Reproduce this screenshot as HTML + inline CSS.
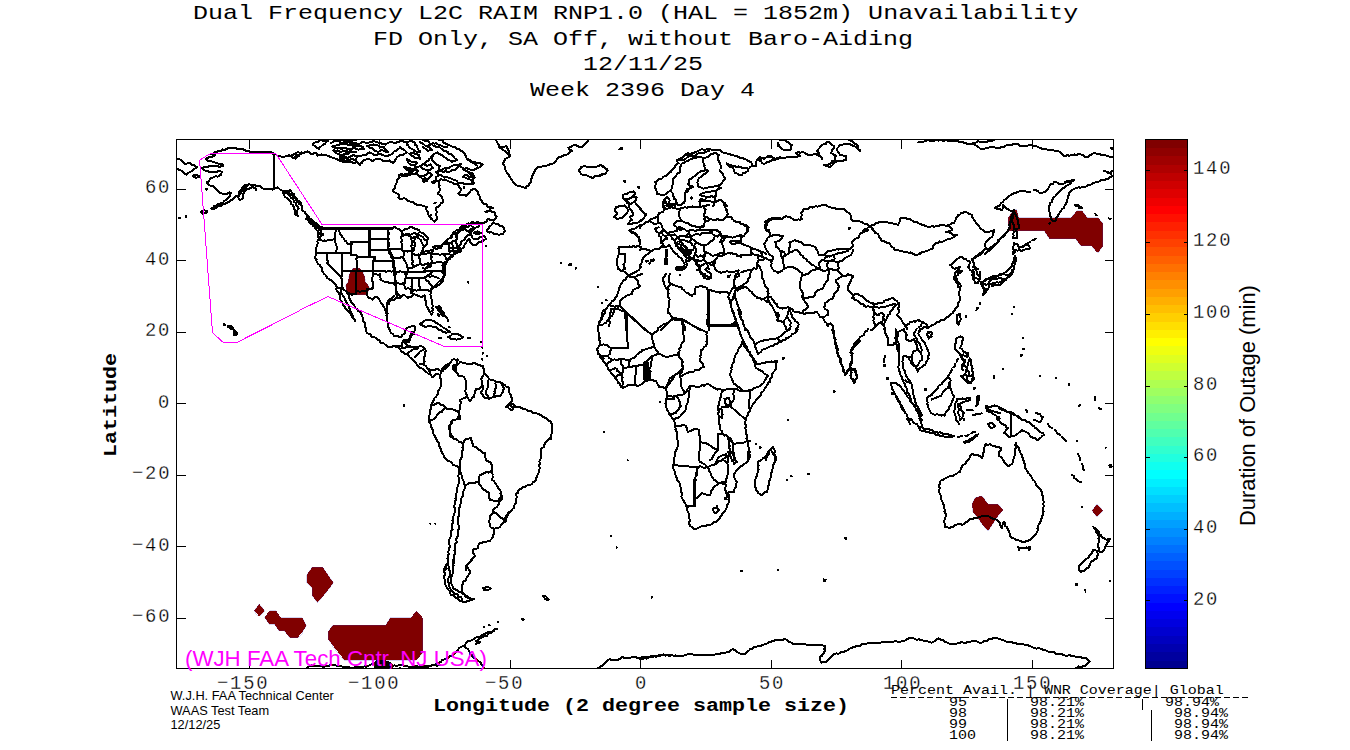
<!DOCTYPE html>
<html><head><meta charset="utf-8"><title>Dual Frequency L2C RAIM RNP1.0 Unavailability</title>
<style>
html,body{margin:0;padding:0;background:#fff;}
body{width:1350px;height:750px;position:relative;overflow:hidden;font-family:"Liberation Mono",monospace;color:#000;}
.t{position:absolute;white-space:pre;line-height:1;transform-origin:0 0;}
.m{font-family:"Liberation Mono",monospace;-webkit-text-stroke:0.3px #fff;}
.b{-webkit-text-stroke:0;}
.s{font-family:"Liberation Sans",sans-serif;}
</style></head><body>
<svg width="1350" height="750" viewBox="0 0 1350 750" shape-rendering="crispEdges" style="position:absolute;left:0;top:0">
<rect x="1145.5" y="660.23" width="42.0" height="8.57" fill="rgb(0,0,143)"/>
<rect x="1145.5" y="651.97" width="42.0" height="8.57" fill="rgb(0,0,159)"/>
<rect x="1145.5" y="643.70" width="42.0" height="8.57" fill="rgb(0,0,175)"/>
<rect x="1145.5" y="635.44" width="42.0" height="8.57" fill="rgb(0,0,191)"/>
<rect x="1145.5" y="627.17" width="42.0" height="8.57" fill="rgb(0,0,207)"/>
<rect x="1145.5" y="618.91" width="42.0" height="8.57" fill="rgb(0,0,223)"/>
<rect x="1145.5" y="610.64" width="42.0" height="8.57" fill="rgb(0,0,239)"/>
<rect x="1145.5" y="602.38" width="42.0" height="8.57" fill="rgb(0,0,255)"/>
<rect x="1145.5" y="594.11" width="42.0" height="8.57" fill="rgb(0,16,255)"/>
<rect x="1145.5" y="585.84" width="42.0" height="8.57" fill="rgb(0,32,255)"/>
<rect x="1145.5" y="577.58" width="42.0" height="8.57" fill="rgb(0,48,255)"/>
<rect x="1145.5" y="569.31" width="42.0" height="8.57" fill="rgb(0,64,255)"/>
<rect x="1145.5" y="561.05" width="42.0" height="8.57" fill="rgb(0,80,255)"/>
<rect x="1145.5" y="552.78" width="42.0" height="8.57" fill="rgb(0,96,255)"/>
<rect x="1145.5" y="544.52" width="42.0" height="8.57" fill="rgb(0,112,255)"/>
<rect x="1145.5" y="536.25" width="42.0" height="8.57" fill="rgb(0,128,255)"/>
<rect x="1145.5" y="527.98" width="42.0" height="8.57" fill="rgb(0,143,255)"/>
<rect x="1145.5" y="519.72" width="42.0" height="8.57" fill="rgb(0,159,255)"/>
<rect x="1145.5" y="511.45" width="42.0" height="8.57" fill="rgb(0,175,255)"/>
<rect x="1145.5" y="503.19" width="42.0" height="8.57" fill="rgb(0,191,255)"/>
<rect x="1145.5" y="494.92" width="42.0" height="8.57" fill="rgb(0,207,255)"/>
<rect x="1145.5" y="486.66" width="42.0" height="8.57" fill="rgb(0,223,255)"/>
<rect x="1145.5" y="478.39" width="42.0" height="8.57" fill="rgb(0,239,255)"/>
<rect x="1145.5" y="470.12" width="42.0" height="8.57" fill="rgb(0,255,255)"/>
<rect x="1145.5" y="461.86" width="42.0" height="8.57" fill="rgb(16,255,239)"/>
<rect x="1145.5" y="453.59" width="42.0" height="8.57" fill="rgb(32,255,223)"/>
<rect x="1145.5" y="445.33" width="42.0" height="8.57" fill="rgb(48,255,207)"/>
<rect x="1145.5" y="437.06" width="42.0" height="8.57" fill="rgb(64,255,191)"/>
<rect x="1145.5" y="428.80" width="42.0" height="8.57" fill="rgb(80,255,175)"/>
<rect x="1145.5" y="420.53" width="42.0" height="8.57" fill="rgb(96,255,159)"/>
<rect x="1145.5" y="412.27" width="42.0" height="8.57" fill="rgb(112,255,143)"/>
<rect x="1145.5" y="404.00" width="42.0" height="8.57" fill="rgb(128,255,128)"/>
<rect x="1145.5" y="395.73" width="42.0" height="8.57" fill="rgb(143,255,112)"/>
<rect x="1145.5" y="387.47" width="42.0" height="8.57" fill="rgb(159,255,96)"/>
<rect x="1145.5" y="379.20" width="42.0" height="8.57" fill="rgb(175,255,80)"/>
<rect x="1145.5" y="370.94" width="42.0" height="8.57" fill="rgb(191,255,64)"/>
<rect x="1145.5" y="362.67" width="42.0" height="8.57" fill="rgb(207,255,48)"/>
<rect x="1145.5" y="354.41" width="42.0" height="8.57" fill="rgb(223,255,32)"/>
<rect x="1145.5" y="346.14" width="42.0" height="8.57" fill="rgb(239,255,16)"/>
<rect x="1145.5" y="337.88" width="42.0" height="8.57" fill="rgb(255,255,0)"/>
<rect x="1145.5" y="329.61" width="42.0" height="8.57" fill="rgb(255,239,0)"/>
<rect x="1145.5" y="321.34" width="42.0" height="8.57" fill="rgb(255,223,0)"/>
<rect x="1145.5" y="313.08" width="42.0" height="8.57" fill="rgb(255,207,0)"/>
<rect x="1145.5" y="304.81" width="42.0" height="8.57" fill="rgb(255,191,0)"/>
<rect x="1145.5" y="296.55" width="42.0" height="8.57" fill="rgb(255,175,0)"/>
<rect x="1145.5" y="288.28" width="42.0" height="8.57" fill="rgb(255,159,0)"/>
<rect x="1145.5" y="280.02" width="42.0" height="8.57" fill="rgb(255,143,0)"/>
<rect x="1145.5" y="271.75" width="42.0" height="8.57" fill="rgb(255,128,0)"/>
<rect x="1145.5" y="263.48" width="42.0" height="8.57" fill="rgb(255,112,0)"/>
<rect x="1145.5" y="255.22" width="42.0" height="8.57" fill="rgb(255,96,0)"/>
<rect x="1145.5" y="246.95" width="42.0" height="8.57" fill="rgb(255,80,0)"/>
<rect x="1145.5" y="238.69" width="42.0" height="8.57" fill="rgb(255,64,0)"/>
<rect x="1145.5" y="230.42" width="42.0" height="8.57" fill="rgb(255,48,0)"/>
<rect x="1145.5" y="222.16" width="42.0" height="8.57" fill="rgb(255,32,0)"/>
<rect x="1145.5" y="213.89" width="42.0" height="8.57" fill="rgb(255,16,0)"/>
<rect x="1145.5" y="205.62" width="42.0" height="8.57" fill="rgb(255,0,0)"/>
<rect x="1145.5" y="197.36" width="42.0" height="8.57" fill="rgb(239,0,0)"/>
<rect x="1145.5" y="189.09" width="42.0" height="8.57" fill="rgb(223,0,0)"/>
<rect x="1145.5" y="180.83" width="42.0" height="8.57" fill="rgb(207,0,0)"/>
<rect x="1145.5" y="172.56" width="42.0" height="8.57" fill="rgb(191,0,0)"/>
<rect x="1145.5" y="164.30" width="42.0" height="8.57" fill="rgb(175,0,0)"/>
<rect x="1145.5" y="156.03" width="42.0" height="8.57" fill="rgb(159,0,0)"/>
<rect x="1145.5" y="147.77" width="42.0" height="8.57" fill="rgb(143,0,0)"/>
<rect x="1145.5" y="139.50" width="42.0" height="8.57" fill="rgb(128,0,0)"/>
<g fill="#800000" stroke="#3030c0" stroke-opacity="0.35" stroke-width="0.6"><polygon points="1008.3,217.7 1010.0,214.9 1014.0,210.0 1016.7,209.6 1018.7,217.7 1071.3,217.7 1076.7,210.7 1082.0,210.7 1087.3,217.7 1098.0,217.7 1102.9,223.3 1102.9,246.0 1098.7,252.0 1096.7,252.0 1091.3,245.6 1080.7,245.6 1075.7,238.7 1049.3,238.7 1044.0,230.7 1008.7,230.7"/><polygon points="353.3,268.0 359.3,268.0 362.7,271.3 364.7,276.7 365.3,282.0 368.0,284.7 369.3,287.3 368.7,290.7 366.0,294.7 348.7,294.7 346.7,291.3 346.0,287.3 345.3,286.0 348.0,282.0 349.3,274.0 351.3,270.7"/><polygon points="972.0,504.0 975.0,498.0 980.0,496.0 983.0,497.0 988.0,504.0 998.0,504.0 1003.0,510.0 998.0,516.0 994.0,522.0 988.0,531.0 982.0,524.0 978.0,518.0 973.0,512.0"/><polygon points="1097.0,504.0 1103.0,510.6 1097.0,517.0 1092.0,510.6"/><polygon points="312.1,567.3 322.8,567.3 333.3,582.6 329.7,588.0 323.6,595.6 317.5,602.5 312.1,595.6 312.1,588.0 306.7,582.6 306.7,575.0"/><polygon points="259.2,604.1 264.5,610.5 259.2,616.3 254.3,610.5"/><polygon points="264.5,617.1 269.9,610.5 276.0,610.5 280.6,617.6 302.1,617.6 306.3,625.6 302.1,632.5 297.5,637.8 289.8,637.8 284.5,630.9 279.1,630.9 274.5,624.0 269.1,624.0"/><polygon points="328.2,631.7 332.8,625.2 385.7,625.2 390.3,617.6 411.0,617.6 416.4,610.5 422.5,617.6 422.5,653.2 416.4,660.0 344.3,660.0 332.8,645.5 328.2,639.4"/></g>

<defs><clipPath id="axclip"><rect x="177" y="140" width="936" height="528"/></clipPath></defs>
<g fill="none" stroke="#000" stroke-width="2" stroke-linejoin="round" stroke-linecap="round" clip-path="url(#axclip)"><path d="M177.1 159.0 178.4 159.1 180.6 159.7 182.0 161.0 183.4 161.9 184.0 163.2 186.0 164.3 187.0 163.6 189.3 163.0 190.0 163.1 191.9 164.8 193.3 165.0 194.1 165.3 196.2 167.2 197.3 167.3 195.9 168.1 194.9 168.6 192.7 170.3 191.9 171.0 190.0 172.3 187.8 173.0 186.7 174.7 185.0 174.2 183.5 172.8 182.7 171.7 181.2 170.6 179.3 169.9 177.1 169.0M192.7 175.7 194.4 174.7 196.0 175.0 197.2 175.4 199.7 176.7 198.1 177.2 196.0 177.9 194.1 176.9 192.7 175.7M201.3 212.1 202.6 210.8 204.0 210.1 206.2 210.8 207.6 211.0 206.4 213.1 204.1 213.5 202.7 213.7 201.3 212.1M274.0 153.4 272.5 153.6 271.2 152.4 269.3 152.3 268.1 151.7 265.2 152.6 262.8 152.1 261.3 152.1 258.5 152.3 257.5 152.1 255.5 151.7 253.1 152.1 250.7 151.9 248.8 151.2 247.2 151.2 244.6 150.1 242.7 149.1 240.0 149.2 238.7 148.6 237.2 149.1 235.8 147.7 233.5 148.1 232.0 147.5 229.5 148.0 227.9 148.0 226.7 149.1 224.3 149.9 222.8 149.4 221.5 150.7 220.0 150.5 217.6 151.0 216.5 152.3 214.7 152.3 213.3 153.7 210.9 153.9 212.2 154.2 213.8 155.2 215.6 155.0 214.4 155.5 211.7 157.0 209.3 157.2 207.5 158.1 206.0 158.7 207.6 160.6 209.4 160.6 210.2 161.2 212.7 161.7 214.3 162.4 216.3 163.0 218.8 163.8 220.0 164.2 222.0 163.8 223.6 165.0 222.4 166.2 220.0 166.6 219.0 166.7 216.7 165.8 215.3 165.7 213.3 166.1 211.7 165.6 210.9 166.5 208.7 166.4 207.3 167.3 205.3 167.0 203.0 167.5 202.0 168.3 202.7 168.9 204.0 170.4 206.0 170.6 207.8 170.8 209.3 172.1 210.7 171.9 212.7 171.7 214.7 172.3 216.7 172.5 217.7 171.2 219.3 170.7 220.0 170.9 222.0 172.3 221.4 173.4 221.3 175.3 220.3 175.1 217.5 176.7 216.7 176.3 214.8 176.5 212.9 177.7 211.5 177.8 210.0 179.3 208.9 181.0 208.3 181.6 206.7 182.3 207.6 183.5 209.3 185.0 210.6 185.9 212.9 185.9 214.5 187.7 216.0 188.6 216.9 189.7 218.4 191.7 220.5 193.2 221.6 193.3 223.6 193.9 225.0 194.1 226.0 193.9 227.2 193.6 229.1 192.4 230.9 192.7 229.6 194.2 229.6 196.3 228.1 198.0 227.3 199.0 226.4 199.9 224.0 201.0 223.3 202.7 221.3 203.0 220.2 203.7 217.4 204.4 216.0 205.7 213.9 206.2 212.8 208.2 210.9 208.6 213.1 209.3 215.0 208.3 216.1 207.9 217.3 206.6 218.4 206.2 221.2 205.7 222.3 204.6 224.2 203.9 224.9 203.8 226.9 202.7 228.0 202.4 230.3 201.0 230.9 200.3 232.0 200.2 233.8 198.2 234.7 197.9 235.8 196.3 238.0 195.7 239.1 194.3 239.1 191.9 239.5 191.2 241.7 189.8 242.0 188.3 243.1 187.3 244.1 185.4 246.0 185.0 248.2 184.6 249.1 183.7 250.5 184.8 251.8 185.1 253.3 185.0 255.2 184.9 256.0 185.7 257.8 185.5 260.3 185.9 261.4 187.4 263.3 188.6 265.0 188.6 266.8 189.5 269.3 189.0 270.7 188.9 272.6 189.6 274.0 189.0M249.1 184.1 247.7 185.9 246.6 186.5 245.3 187.7 244.0 188.6 242.7 191.0 241.4 192.0 240.3 193.9 238.6 196.2 238.4 197.7 238.7 198.8 240.0 200.1 242.0 199.0 243.3 197.7 242.7 196.0 242.7 194.3 243.7 193.4 244.0 191.8 245.6 190.3 247.0 189.1 249.1 188.6 251.3 187.7 252.7 186.7 254.4 188.1 256.0 188.6 256.0 190.3M273.6 153.7 273.6 189.0M274.4 153.7 274.4 189.0M274.0 189.0 276.3 188.0 277.3 187.3 278.8 188.3 280.0 189.6 281.3 190.3 283.0 190.7 284.9 191.6 286.7 191.3 288.4 191.2 289.6 190.1 291.3 190.9 291.7 193.1 292.7 193.7 294.3 194.5 294.3 196.2 296.0 197.7 296.7 198.6 298.0 200.6 300.0 201.7 301.1 203.6 300.8 204.7 302.0 205.7 302.0 207.1 301.6 209.7 303.7 211.4 304.7 211.7 305.1 213.7 306.3 214.3 307.3 215.7 309.2 217.3 309.0 217.8 310.7 219.0 312.0 220.0 312.9 221.2 314.7 222.7 316.3 223.0 317.4 224.6 318.7 225.7 319.6 226.2 322.0 227.3M282.7 193.0 284.2 194.6 284.7 196.8 286.7 197.7 288.4 199.7 288.7 200.0 290.7 201.7 291.1 203.9 292.5 204.7 294.0 207.0 294.1 209.3 294.9 210.0 294.7 212.1 295.3 214.2 297.0 215.4 298.0 216.6 296.9 214.3 297.4 213.2 296.7 211.7 297.0 210.7 298.7 208.3 298.0 207.0 296.3 205.3 296.0 203.0 294.0 202.0 293.3 199.6 292.0 198.3 291.0 197.8 289.4 195.4 288.7 194.7 287.4 193.5 285.4 192.6 284.7 192.3M288.0 192.3 288.7 192.8 290.4 193.8 292.0 195.0 293.7 196.2 294.7 197.6 296.0 199.7 296.9 200.5 297.8 202.1 299.3 204.3M307.3 217.0 308.3 219.1 308.7 221.0 309.5 222.5 312.0 223.5 312.7 225.7 314.3 226.5 314.9 228.1 316.0 228.6 315.2 226.8 314.7 225.0 313.6 224.4 311.8 222.8 310.7 221.0 309.9 219.9 308.3 218.1 307.3 217.0M315.3 226.3 315.4 227.3 316.2 229.8 317.6 231.0 318.3 231.6 319.0 233.7 320.7 234.3 321.0 236.1 319.9 237.1 320.0 239.0M317.3 227.0 318.1 228.3 319.0 229.6 320.7 231.0 321.0 233.0 322.7 233.7 322.7 235.0M275.7 154.3 277.2 155.7 279.3 155.7 280.7 156.3 282.7 157.3 283.9 156.6 286.7 156.3 288.0 155.7 289.3 155.0 290.2 156.1 292.0 157.3 292.9 157.6 295.3 158.6 296.4 157.3 298.7 156.3 299.3 154.5 301.0 153.7 302.7 153.0 304.4 152.5 306.2 152.2 307.3 151.4 309.3 152.3 311.0 154.0 312.0 154.6 313.5 153.5 315.3 153.0 317.1 153.8 317.3 155.7 319.7 155.2 321.3 154.3 322.6 155.2 325.3 155.0 327.9 155.9 329.3 156.3 331.7 157.5 333.3 157.7 334.8 158.4 337.3 159.0 338.7 160.3 340.5 161.0 341.3 161.3 343.2 162.1 345.2 162.0 346.7 161.9 348.0 161.3 349.7 161.9 352.0 162.2 353.4 162.8 356.0 162.5M292.0 155.0 293.4 154.5 294.9 153.9 296.0 153.0 297.8 152.0 300.0 152.9 301.3 152.3 300.0 153.6 298.7 154.7 297.6 154.8 296.4 155.9 294.7 157.0M312.7 145.0 313.1 143.5 315.2 142.3 316.0 141.7 318.1 141.9 319.5 140.6 321.3 140.3 323.0 140.8 325.1 140.8 326.5 140.2 328.0 141.0 326.1 142.0 325.3 143.7 324.4 144.3 322.8 144.7 321.3 146.3 319.7 147.3 319.3 149.0 317.9 148.3 316.0 147.0 314.6 145.7 312.7 145.0M330.7 143.0 332.5 142.3 334.2 141.1 336.0 141.0 338.3 140.4 340.1 141.3 340.3 140.4 342.7 140.3 344.8 141.2 345.9 140.3 347.2 141.4 349.3 140.9 350.6 140.8 352.1 140.5 355.0 139.7 356.0 140.1M356.0 144.3 354.7 144.6 353.0 145.1 350.7 145.0 348.6 145.4 347.3 143.8 344.9 144.3 344.0 144.1 342.3 144.0 340.1 144.3 338.7 145.3 337.3 145.0 334.8 145.9 334.3 145.5 332.0 146.6 334.4 147.6 336.2 147.6 337.3 148.6 338.8 148.2 341.4 148.3 342.1 147.9 344.0 147.8 345.3 147.5 346.7 149.0 348.7 149.5 350.7 149.1 352.1 148.6 354.2 148.3 356.0 148.6M334.0 150.3 335.4 151.3 337.7 151.4 338.7 151.3 340.6 151.8 342.9 151.2 344.0 151.0 346.0 150.7 347.7 151.6 349.4 152.2 350.7 152.3 352.1 151.7 354.9 151.8 356.0 152.3M333.3 150.7 334.8 151.6 336.1 153.2 338.0 153.9 340.3 154.8 341.3 156.1 342.7 157.7 344.5 158.0 345.7 158.2 348.0 159.3 349.6 159.9 352.0 158.8 354.6 160.0 356.0 159.3M414.0 174.3 412.1 174.3 409.9 174.7 408.3 175.2 406.7 176.3 404.3 175.6 402.8 176.2 401.0 175.2 398.7 175.0 399.0 176.5 399.6 177.9 398.4 178.9 397.0 180.1 396.7 181.7 396.7 182.9 395.3 185.4 394.7 187.0 394.8 188.1 393.4 189.7 393.3 191.7 394.5 192.3 396.7 193.5 397.3 193.7 398.8 194.8 398.4 197.7 400.0 199.3 402.4 199.0 403.7 198.1 405.3 198.6 406.9 200.3 409.4 201.2 410.7 201.7 413.2 202.2 413.6 202.9 416.0 204.3 417.8 204.9 420.2 205.3 421.3 205.3 423.3 206.2 424.8 206.5 426.7 207.0 426.3 209.1 426.9 211.0 427.9 211.7 428.0 213.7 428.6 215.1 430.4 217.5 431.3 219.0 431.9 219.3 433.6 221.1 434.7 221.9 435.6 220.1 436.9 219.0 436.9 216.5 436.2 215.4 436.3 213.7 436.7 212.1 436.4 210.1 435.6 208.3 436.7 206.8 439.2 206.4 440.0 205.0 440.7 203.2 442.0 203.0 442.9 201.7 442.5 199.7 442.6 199.2 442.0 197.0 440.3 195.2 439.1 194.7 438.0 193.7 438.8 191.7 439.5 190.9 439.6 189.0 439.3 187.0 439.7 185.6 438.7 184.3 439.5 182.1 439.3 180.6 439.9 180.2 441.3 179.0M441.3 179.0 442.8 180.1 444.9 179.4 446.7 180.3 447.9 180.9 450.2 182.3 451.1 182.2 453.3 183.0 454.7 184.5 456.4 183.8 458.7 185.3 458.7 186.6 460.6 188.8 460.7 189.7 460.3 191.7 459.8 192.1 458.4 193.7 460.1 194.8 462.7 194.6 464.7 194.6 466.0 195.9 467.6 194.6 468.5 193.3 470.0 192.3 470.6 190.5 471.9 189.9 473.3 189.0 475.5 189.2 476.3 190.6 477.8 191.6 477.7 194.0 478.7 195.0 480.0 196.7 479.8 198.5 481.3 200.3 482.3 202.3 483.1 202.8 484.7 204.3 486.8 204.5 487.6 206.6 489.3 207.0 491.5 207.0 492.9 208.3 490.3 208.6 489.8 209.8 487.6 211.6 485.3 211.9 486.9 211.3 489.6 211.5 490.7 211.0 491.9 211.9 493.5 211.7 495.3 212.6 494.9 214.7 496.6 216.2 496.3 217.7 495.5 218.3 493.3 220.3 491.2 219.9 490.6 220.1 488.3 219.0 487.3 220.1 486.7 221.9 484.6 222.5 482.7 223.0 481.3 222.7 478.7 223.3 477.3 223.6 475.6 223.7 473.3 223.3 471.8 223.3 469.7 223.6 468.8 223.4 466.7 224.3 464.5 225.6 463.0 225.5 461.0 227.2 460.0 228.1 458.8 230.2 458.8 231.6 457.3 232.3 456.3 233.7 456.0 236.3M486.7 231.0 487.1 229.7 489.0 228.3 489.3 226.9 490.7 225.7 492.2 224.3 493.3 222.3 495.4 223.9 496.7 224.3 498.6 224.4 500.0 225.7 502.2 226.0 503.3 227.0 504.2 228.8 504.9 231.0 504.2 232.2 502.7 234.3 500.7 234.0 499.0 235.1 498.0 234.6 496.6 233.8 494.7 234.3 493.3 233.0 491.3 232.4 489.3 232.6 488.5 232.0 486.7 231.0M438.7 174.7 441.4 174.7 442.6 176.3 445.2 177.1 446.7 177.0 447.6 177.4 449.4 177.9 452.4 179.1 453.3 179.7 455.6 180.3 457.2 181.3 458.0 182.6 460.0 183.0 462.3 182.6 463.5 183.6 464.6 183.5 466.7 183.9 467.8 183.6 469.6 184.3 471.9 183.8 473.3 184.3 471.9 182.7 472.3 181.2 471.3 180.3 469.5 179.2 468.7 179.1 466.7 178.3 464.0 177.1 462.7 177.0 463.8 176.1 465.3 175.0 467.3 175.1 468.4 176.6 470.7 177.0 472.5 177.0 474.7 177.7 473.7 176.3 473.3 173.7 471.3 173.1 469.6 172.2 468.0 171.7 467.2 171.7 465.1 169.9 464.0 169.7 465.7 168.2 466.7 167.7 467.6 168.9 469.9 169.5 471.5 170.2 473.3 170.3 475.1 168.9 476.2 168.6 478.7 167.7 480.3 167.2 480.9 165.6 482.9 164.3 481.3 163.9 479.6 163.1 478.7 163.0 476.9 163.2 474.5 162.1 473.3 161.7 472.1 161.7 469.5 159.8 469.0 160.4 466.7 159.0 466.0 156.3 465.3 155.0 464.6 153.7 463.3 152.8 461.8 151.0 460.0 150.3 458.8 149.1 456.5 149.2 455.5 147.4 453.3 147.0 451.2 146.2 450.0 145.5 447.8 144.6 446.7 144.3 445.7 143.8 443.3 142.2 442.7 141.0 441.1 139.6 438.7 139.7M466.7 159.0 469.0 159.5 470.4 161.3 472.0 162.3 474.0 163.2 475.4 164.7 477.3 165.7M460.0 165.7 461.2 167.1 462.6 167.9 463.3 169.3 465.3 170.3 466.9 171.0 468.8 173.0 470.0 173.7 471.0 175.0 472.2 176.6 473.3 179.0 473.1 180.9 474.0 183.0M449.3 167.7 450.4 166.9 452.7 165.6 454.5 165.0 456.0 165.0 458.1 165.2 459.6 163.9 461.3 164.3 460.0 165.3 459.3 166.0 457.3 167.7 456.1 169.3 454.1 169.9 452.0 170.3 449.8 171.5 448.4 171.9 446.7 171.7 445.5 170.9 443.5 171.9 441.3 171.0 439.0 171.4 438.0 172.3 439.9 170.7 441.7 169.8 442.7 169.0 444.8 168.1 446.0 169.0 447.2 167.6 449.3 167.7M438.7 174.7 437.8 175.9 436.2 177.1 436.0 179.0 437.2 181.0 439.3 181.7M414.0 174.3 415.6 173.8 416.2 172.5 418.0 171.0 416.3 169.9 416.0 168.6 414.7 167.7 417.0 167.1 418.3 166.9 420.0 165.7 421.2 165.5 423.8 163.7 425.3 163.0 427.1 161.3 428.7 160.4 429.3 159.0 430.5 158.1 431.9 155.8 433.3 155.0 435.0 153.4 436.5 152.9 437.3 152.3 438.9 153.9 440.1 154.4 441.3 155.0 442.4 155.3 443.3 156.5 445.5 157.9 446.7 159.0 448.5 160.5 449.7 160.4 452.0 161.7 454.0 160.5 454.8 160.6 457.3 160.3 455.4 158.8 454.3 157.8 453.3 156.3 452.1 154.9 450.9 154.3 448.8 154.0 448.0 152.3 445.8 150.9 443.8 150.8 442.7 149.7 441.9 149.2 439.9 147.5 438.7 147.0 436.2 146.8 435.2 145.9 433.3 145.7M404.0 167.0 405.9 167.2 408.0 168.0 408.6 168.6 410.7 168.3 411.3 169.0 413.2 169.3 414.7 170.3 412.2 171.2 410.4 171.3 409.3 171.7 408.7 170.0 406.2 169.5 405.3 168.4 404.0 167.0M398.7 175.0 400.8 174.2 401.7 174.2 403.0 174.8 405.3 173.9 407.4 173.9 407.9 173.6 410.7 172.7 412.0 172.3M416.0 173.7 417.7 174.7 418.3 175.3 420.0 177.0 421.4 175.6 423.3 176.0 425.3 175.0 427.0 174.2 428.0 172.3 429.7 172.9 430.7 174.0 432.0 175.0 431.1 176.4 429.0 177.9 428.0 179.0 426.9 178.6 425.0 178.3 422.7 179.0 421.0 177.6 420.0 177.0M422.7 180.3 424.6 180.6 426.1 179.2 427.3 179.0 426.7 181.4 425.6 181.4 423.3 181.9 422.7 180.3M432.0 181.7 433.3 181.6 435.3 180.3 434.9 182.7 432.7 183.3 432.0 181.7M420.0 165.7 421.5 167.1 422.9 168.6 424.0 169.0 425.7 170.0 427.9 170.4 429.3 170.3 430.6 169.8 432.1 168.3 433.3 167.7 431.6 166.2 430.7 164.3 428.0 165.6 426.7 165.7 424.1 164.3 422.7 164.3M433.3 155.0 432.3 157.4 432.2 158.0 432.0 160.3 432.6 161.0 435.0 163.2 436.0 164.3 438.3 165.4 440.0 165.7 438.7 167.8 438.7 169.7 437.1 171.5 436.0 172.3 437.8 174.1 438.7 174.7M340.0 141.7 341.1 142.7 344.2 143.2 345.3 143.0 346.4 142.4 348.1 142.0 350.9 143.0 352.0 142.3 353.9 143.4 355.5 143.1 356.4 143.4 358.7 144.6 360.4 143.2 361.1 142.5 362.7 141.7 363.7 141.8 365.9 143.1 368.0 143.3 369.6 142.2 372.3 141.8 373.3 141.0 375.5 141.6 376.0 141.7 378.2 142.6 380.0 142.6 381.5 143.6 383.6 143.5 385.3 144.6 387.7 143.0 389.4 142.2 390.7 141.7 391.7 141.8 394.6 143.5 396.0 143.3 397.0 142.3 399.5 141.8 401.3 140.3 402.6 141.0 404.7 142.2 406.7 142.3 408.1 142.3 409.9 140.6 412.0 140.3M340.0 148.3 342.1 149.4 343.0 150.8 345.3 151.7 346.5 151.9 349.2 151.7 350.7 151.0 349.5 152.1 348.0 153.7 346.1 154.0 345.0 153.9 342.7 155.0 341.9 155.3 340.0 157.0M340.0 159.0 341.3 159.3 344.2 160.3 345.3 161.0 346.8 161.1 348.3 159.9 350.4 159.9 352.0 159.0 354.2 160.1 355.3 160.5 357.3 161.7 357.7 163.4 359.4 164.4 360.0 165.3 360.4 163.8 362.2 162.5 362.7 161.0 363.9 160.3 366.8 159.3 368.0 159.0 369.3 159.2 371.9 160.6 373.3 160.6 374.6 159.6 376.5 159.3 378.7 159.0 380.5 159.2 382.0 160.0 384.0 161.3 386.5 161.3 387.0 161.3 389.3 160.3 390.1 161.1 392.7 162.7 393.3 163.3 394.6 161.7 394.7 160.6 396.0 159.0 396.7 157.2 398.7 156.3 400.5 155.0 402.7 155.0 403.8 154.5 405.6 153.2 406.7 152.3 405.5 150.9 404.0 149.7 402.1 148.9 401.2 148.3 400.0 147.0 399.3 148.2 397.3 149.7 396.1 150.9 394.5 151.0 393.3 152.3 392.3 153.8 391.1 154.4 389.3 155.0 387.9 155.9 385.3 156.3 383.8 155.4 381.5 154.7 380.0 153.7 377.6 154.1 376.9 155.1 374.7 155.3 373.1 153.9 371.0 153.2 369.3 152.3 367.7 153.1 366.0 154.8 364.0 155.0 361.7 155.7 360.9 155.7 358.7 156.3 356.9 156.6 354.4 155.5 353.3 155.0 351.0 156.3 350.4 156.8 348.0 157.7 345.4 157.1 344.0 156.3 342.7 157.5 341.4 158.3 340.0 159.0M366.7 145.7 368.9 146.6 370.1 148.1 372.0 148.3 373.3 149.7 375.4 150.9 377.3 151.7 378.5 151.9 380.7 150.1 382.7 150.3 384.1 150.8 385.5 151.5 388.0 152.3 386.9 151.3 385.8 149.3 384.6 148.7 384.0 147.0 382.9 146.6 380.0 146.6 378.7 145.7 376.7 144.8 374.6 145.2 373.3 144.3 372.1 144.9 370.0 145.1 367.9 146.0 366.7 145.7M353.3 147.0 354.9 148.1 357.4 149.3 358.7 149.7 360.4 149.1 362.3 148.7 364.0 149.0 363.2 147.4 361.3 146.3 360.1 145.8 357.6 145.5 356.0 145.7 354.6 145.9 353.3 147.0M406.7 143.0 406.8 144.7 408.1 145.3 409.3 147.0 410.4 148.0 411.9 149.2 413.6 149.8 414.7 151.0 417.1 152.0 417.6 152.4 420.0 152.3 419.7 151.0 417.7 149.3 417.3 147.0 416.6 144.9 414.8 145.0 414.7 143.0 413.6 142.0 411.4 141.1 410.7 141.0M420.0 141.7 420.9 143.1 422.4 143.1 424.6 145.1 425.3 145.7 426.6 145.8 429.1 145.2 430.7 144.3 429.6 143.3 428.0 141.0 426.7 141.1 424.0 140.4 422.7 139.7M409.3 153.7 410.7 155.0 411.9 156.2 413.4 156.3 414.7 157.7 416.0 157.6 418.2 157.9 420.0 159.0 419.3 156.5 418.7 155.0 416.9 154.1 415.2 153.8 413.3 152.3 410.6 153.5 409.3 153.7M406.7 159.0 408.4 160.0 410.5 161.3 412.0 161.7 413.4 162.0 415.8 161.9 416.7 163.0 415.9 164.5 414.7 165.7 412.2 165.2 411.4 165.0 409.3 163.7 408.2 162.8 407.6 160.5 406.7 159.0M430.7 144.3 433.0 143.2 434.5 143.6 436.0 143.0 437.5 144.4 439.4 144.7 441.3 145.7 443.1 146.5 444.5 146.5 446.7 147.0M422.7 147.0 423.9 148.1 425.8 148.7 427.2 149.9 428.0 151.0 430.0 150.0 432.0 149.7 430.7 149.0 429.3 147.0 427.6 146.8 425.3 145.7M496.0 140.0 496.5 141.1 497.3 142.8 498.4 144.0 499.3 145.8 499.0 147.0 500.4 148.0 502.5 149.1 502.8 149.7 505.0 151.0 505.5 151.8 508.1 153.7 509.0 155.2 510.0 156.0 508.9 157.2 506.8 158.2 505.0 159.0 504.6 160.6 503.9 161.5 503.0 163.4 504.0 165.2 504.9 166.6 504.8 168.4 506.0 171.0 507.4 173.2 508.2 174.0 509.5 176.2 510.1 177.0 511.0 179.0 512.0 180.4 513.2 181.9 515.0 184.2 516.0 185.0 517.3 185.8 519.3 185.8 522.5 187.2 524.6 187.6 526.0 188.4 526.5 186.6 528.5 185.7 529.6 183.4 531.0 181.7 530.8 179.4 531.9 177.9 531.8 176.0 533.0 175.0 533.0 173.8 533.9 172.7 534.6 171.1 536.0 169.0 537.4 167.5 540.3 167.1 542.4 166.3 544.0 166.0 545.3 165.8 548.3 165.3 550.3 163.6 552.2 163.9 554.0 163.0 555.3 162.0 556.3 160.4 558.0 158.0 560.3 156.5 561.3 156.7 564.5 155.1 566.0 155.0 567.2 154.3 568.5 153.5 570.5 151.3 572.0 151.0 570.6 150.1 569.5 149.3 568.4 148.0 569.7 147.4 571.9 146.2 574.0 145.0 576.2 145.4 577.8 146.4 580.7 146.9 582.0 147.0 583.4 145.4 584.0 145.0 586.0 143.0 587.3 142.0 588.0 140.0M500.0 147.0 501.7 146.8 504.7 146.8 506.0 146.0 507.2 147.4 507.9 149.9 509.0 151.0 509.1 152.9 509.8 154.9 510.0 156.0M579.0 170.0 580.7 168.6 580.8 167.4 582.6 166.8 584.0 165.6 586.5 166.6 587.3 167.0 590.5 167.5 592.0 167.4 594.1 166.5 596.5 166.7 598.3 166.2 600.0 165.0 601.6 165.4 603.8 167.4 605.1 168.4 607.4 169.0 607.4 170.3 606.2 172.6 605.4 174.0 603.5 174.0 601.3 175.2 600.2 175.1 597.3 176.1 596.0 176.0 595.1 176.3 593.5 177.9 592.0 178.0 591.2 177.4 589.3 176.8 588.0 176.0 585.8 175.0 584.0 175.3 582.5 174.6 581.0 174.0 580.2 172.7 579.1 170.7 579.0 170.0M484.0 223.0 482.7 222.7 479.4 223.0 478.4 222.2 476.0 222.6 474.1 222.6 472.0 222.3 469.3 223.9 468.0 223.4 466.9 224.3 464.9 224.9 463.6 226.0 462.3 227.5 460.0 228.0 458.9 230.1 456.4 230.1 454.8 231.7 453.0 232.9 452.0 235.0 450.6 237.1 448.9 238.7 448.1 238.8 446.0 241.0 444.9 242.3 442.9 244.7 441.9 245.6 441.0 247.0M444.0 243.0 445.7 242.4 447.3 240.3 448.4 238.7 450.0 238.0 452.2 237.5 452.6 234.8 454.1 234.0 456.0 233.0 458.2 232.5 459.7 230.1 461.2 230.0 462.6 229.2 464.0 227.4 465.1 226.4 467.9 227.1 469.5 225.6 471.0 225.4 472.6 227.1 474.0 228.0 471.9 228.6 470.6 229.1 469.5 230.1 468.0 231.4 468.6 232.3 470.3 233.5 471.3 235.1 472.0 237.0 472.6 238.3 474.2 239.0 476.0 239.0 478.6 238.8 479.5 237.4 481.4 237.4 484.0 236.0 485.5 237.7 486.0 239.0 484.6 239.6 483.8 240.6 482.0 241.4 480.6 241.7 478.4 242.3 477.5 243.9 475.1 245.2 474.0 245.4 472.1 244.1 471.0 243.0 469.8 241.3 470.2 240.1 469.0 239.0 467.2 240.7 466.1 242.9 465.0 244.0 463.9 246.2 464.0 247.0 461.8 248.6 461.3 248.6 459.5 249.7 458.0 251.0 456.0 251.8 454.5 254.1 453.0 254.6 452.7 256.7 450.4 257.2 450.0 259.0 449.1 259.5 447.0 261.4 446.3 263.0 445.7 264.4 444.0 267.0 443.7 268.8 442.4 271.0 442.4 272.3 444.0 275.0 444.0 277.0 442.7 278.9 443.0 280.6 441.6 283.0 440.3 283.5 438.3 285.4 437.7 285.5 436.0 287.0 434.0 287.0 433.5 288.3 432.0 289.0M474.0 233.0 475.7 231.8 478.0 231.4 479.7 232.5 481.0 233.0 479.8 233.7 477.2 233.4 476.0 234.6 475.3 233.7 474.0 233.0M320.0 228.0 393.3 228.0 394.9 226.7 396.7 228.4M320.0 228.5 393.3 228.5M306.0 218.7 307.4 219.3 308.7 221.1 309.3 222.7 311.2 223.9 312.0 223.3 313.3 224.7 315.9 225.3 317.3 226.0 319.2 226.6 320.0 228.0 318.5 230.2 318.0 231.3 318.0 232.5 318.1 234.8 317.8 236.4 318.7 238.0 318.2 239.7 317.3 241.7 317.9 243.5 317.1 244.7 316.5 246.7 316.4 248.4 315.6 250.2 316.0 251.3 316.5 253.0 315.7 254.7 315.6 255.6 315.3 258.0 316.7 259.1 316.2 260.5 317.3 262.7 318.4 264.3 320.3 264.9 320.1 265.8 321.7 267.4 322.0 269.3 321.9 271.0 323.4 272.5 324.0 274.0 325.4 274.8 326.8 277.2 327.3 278.3 328.1 278.5 330.3 279.9 331.7 280.7 333.0 281.6 334.9 283.6 335.5 284.6 336.3 286.7 337.9 287.7 339.3 287.6 340.6 288.6 342.9 289.3M308.0 218.7 309.5 219.3 310.7 221.5 311.3 222.0 312.5 222.5 314.5 223.4 315.3 224.0 316.8 225.5 318.7 225.7M318.7 239.3 321.1 239.9 322.7 240.9 324.1 240.4 326.1 241.0 328.0 240.0 330.3 240.5 332.1 240.2 332.8 239.5 335.3 239.3M335.3 228.7 336.0 231.5 335.0 232.8 335.5 234.9 335.4 236.6 335.3 239.3 335.5 241.1 335.2 242.3 336.3 244.7 336.8 247.1 336.7 248.9 336.3 251.2 335.7 252.7M316.3 252.7 351.3 252.7M338.0 228.7 339.2 229.7 339.5 231.9 340.0 234.0 341.3 235.0 342.1 237.3 343.2 237.6 344.0 239.3 344.9 240.6 346.5 241.7 346.7 243.3 347.9 243.8 349.2 243.9 351.3 244.0M351.3 242.0 352.0 244.2 351.0 246.3 351.4 248.0 350.8 250.2 351.0 252.7 351.3 255.1M351.3 241.7 369.3 241.7M369.3 228.4 369.3 256.9M369.9 228.4 369.9 256.9M351.3 255.1 352.8 254.7 354.3 255.1 356.7 255.1 356.7 256.9 373.3 256.9 373.8 259.1 373.4 261.2 372.9 263.3 373.3 265.1 373.5 267.0 373.0 268.7 373.3 271.1M342.4 252.9 342.4 275.3 340.7 276.9M327.3 252.9 326.9 255.0 327.2 257.2 326.6 259.0 327.9 260.9 327.3 263.3 340.7 276.9 341.6 278.8 342.4 280.7 342.2 283.6 342.4 285.4 342.3 286.5 342.9 289.3M342.4 271.3 380.0 271.3 382.7 271.2 383.7 271.2 386.5 271.7 388.2 270.9 391.6 271.7 392.6 271.1 395.3 271.3M356.7 256.9 356.4 259.3 356.8 261.6 357.1 263.1 357.0 265.5 357.1 267.2 357.1 269.6 356.7 271.3M356.3 271.3 356.3 291.6M372.7 271.3 373.3 272.2 372.7 274.3 375.1 273.5 376.7 274.4 378.2 275.0 380.0 274.3 380.2 276.1 380.7 278.6 380.4 280.0 382.2 280.5 383.6 281.3 385.3 282.0 387.4 282.0 388.7 282.7 390.7 282.9 392.0 282.9 394.2 283.9 395.3 283.6M372.7 274.3 372.7 276.3 372.2 278.2 372.1 280.7 372.8 282.0 373.3 284.5 373.2 287.3 372.7 288.9 371.4 288.5 368.6 289.5 366.7 288.9M342.9 289.3 343.9 289.8 346.4 291.5 348.6 293.0 349.6 293.7 351.8 294.7 353.9 294.1 356.0 294.3 356.3 292.5 356.0 291.1 357.9 291.2 360.0 291.7 362.7 291.1 363.9 290.9 366.7 291.1 366.5 293.0 366.7 294.7 368.1 296.9 369.3 298.0 371.7 298.8 372.7 299.6 373.9 298.5 375.3 296.9 377.7 297.4 378.7 298.3 379.6 300.4 380.0 301.4 381.3 303.3 383.1 305.5 383.4 306.1 384.9 308.6 385.3 310.0 386.8 311.5 387.3 311.6 387.7 313.6 386.4 315.6 386.7 318.0M369.9 239.1 388.0 239.1M369.9 249.7 388.7 249.7 389.8 251.4 390.4 252.5 392.0 254.7 392.6 256.8 392.7 259.4 393.3 260.7M374.7 260.7 393.3 260.7M374.7 256.9 374.9 258.1 374.7 260.7M393.3 260.7 393.3 263.2 393.3 265.2 393.0 266.8 394.4 269.3 394.0 271.3M395.3 271.3 395.7 272.9 395.5 275.5 395.2 277.7 395.6 280.3 395.8 281.4 395.7 283.6 395.3 285.2 396.3 287.2 395.5 289.3 396.2 292.4 396.3 294.0 397.3 296.5 398.0 298.0M388.0 228.7 387.5 230.0 388.7 232.6 388.7 234.7 388.0 236.6 388.7 239.1 388.1 241.8 389.0 243.1 388.8 245.3 388.3 248.2 389.1 249.7M387.3 311.6 387.4 310.6 387.0 308.3 386.7 305.7 386.9 304.7 388.8 303.9 389.1 302.6 390.7 300.7 392.9 299.5 394.4 299.6 396.0 298.0 398.0 298.0 399.7 298.0 401.3 296.7M393.3 228.0 394.7 226.7 395.6 227.5 397.3 228.7 399.2 228.9 400.2 230.6 402.0 230.7M387.7 228.4 388.3 249.3M370.0 239.1 388.3 239.1M388.3 249.3 390.2 249.8 391.8 248.8 393.9 248.9 396.8 249.0 398.2 248.8 400.1 249.2 402.0 249.3M388.3 249.3 388.7 250.2 388.9 252.9 390.0 254.0 390.4 255.0 390.9 256.3 392.0 258.0 392.6 258.6 394.0 260.7M392.7 258.0 395.0 257.8 396.4 258.3 398.5 257.7 401.7 257.4 403.3 258.0M402.0 249.3 402.6 251.2 403.8 251.5 404.0 253.3 403.6 255.2 403.4 257.1 403.3 258.0M394.0 260.7 393.6 263.2 394.1 264.0 394.1 265.8 394.6 267.9 394.9 270.2 394.4 272.0 396.1 271.6 398.4 271.6 400.8 271.4 402.2 272.1 403.7 272.4 406.0 272.0 406.7 274.0 405.3 274.0M403.3 258.0 404.0 260.0 405.2 261.3 406.0 263.3 406.7 264.3 407.3 267.0 408.7 268.0 407.7 270.2 407.3 272.0M394.4 272.0 394.0 274.0 394.5 275.8 394.6 277.0 394.7 279.1 394.6 281.8 395.3 283.3 397.0 283.2 399.9 283.7 401.9 283.9 402.8 283.0 405.3 283.3M406.7 274.0 405.5 275.8 406.0 276.9 405.3 278.7 405.0 280.5 405.2 281.4 404.7 283.3M395.3 283.3 396.1 285.2 396.1 287.1 395.6 290.4 396.8 292.2 396.7 294.0M404.7 283.3 404.2 284.4 404.6 286.4 405.3 288.7 406.8 288.5 408.2 288.4 410.7 288.7 411.1 289.7 411.6 291.9 411.3 293.3M396.7 294.0 398.7 294.6 400.0 296.0 401.5 296.1 402.9 294.8 404.7 295.3 406.8 297.1 408.0 298.0 409.3 296.6 411.3 296.7 412.9 295.5 413.3 294.0 414.7 294.3 417.3 295.3 418.8 296.4 421.3 296.7 422.6 296.6 424.7 295.3M411.6 278.7 412.0 280.1 412.0 282.7 412.1 285.4 411.5 286.4 412.6 289.0 412.6 291.5 412.0 293.3M418.7 278.7 419.2 281.1 419.3 282.4 418.7 284.6 419.4 286.2 420.4 287.6 420.0 290.0M412.7 290.7 414.9 289.8 416.6 290.8 417.8 290.2 420.0 290.0 422.6 290.3 423.8 289.9 424.9 290.2 427.3 290.1 429.3 290.7M407.3 272.0 433.3 271.3M406.0 278.3 424.7 278.0M433.3 271.3 431.7 271.9 431.0 273.8 429.3 274.7 427.4 275.4 426.2 276.8 424.7 278.0M408.7 268.0 410.9 267.6 411.5 268.1 413.3 267.3 414.5 266.4 416.7 265.3 418.1 265.1 420.0 264.0 422.1 264.7 424.0 264.7 425.5 264.2 428.0 263.3 429.8 264.3 431.3 265.3 430.4 266.8 428.7 267.3 426.4 268.0 425.3 269.3 423.8 268.4 422.7 268.4M404.7 251.3 405.8 251.0 407.9 251.6 410.1 250.8 412.0 251.3M412.0 253.3 411.8 255.3 412.0 256.8 411.6 258.6 413.1 261.7 411.9 263.7 413.3 265.4 412.7 267.3M419.7 255.3 419.2 257.5 419.8 259.2 420.0 261.1 420.0 264.0M413.3 254.3 415.6 254.7 416.9 255.3 418.6 254.4 420.0 254.9 421.6 253.6 424.0 253.3M431.3 253.3 430.6 255.5 431.8 256.6 430.9 258.9 431.9 261.1 431.3 262.3 432.8 262.7 435.8 262.6 437.1 261.8 439.8 262.0 441.1 262.3 443.1 262.8 445.3 262.3M431.3 254.3 433.1 253.5 435.7 254.4 438.1 254.4 440.4 254.8 441.9 254.0 444.0 254.0 444.2 255.0 445.3 256.7 445.9 257.8 446.5 259.7 446.7 262.0M431.3 262.3 430.4 264.2 428.9 264.1 428.7 266.0 426.9 266.9 425.3 268.7M424.0 271.3 445.3 271.3M425.3 276.7 427.7 275.8 429.8 276.9 431.8 276.1 433.3 276.0 434.8 277.0 436.9 277.4 438.7 278.3M424.7 278.0 425.6 279.2 427.2 281.2 428.8 281.5 429.3 283.3 430.1 284.6 431.7 285.8 432.7 287.3M402.0 235.3 401.4 236.4 401.4 238.6 402.2 240.9 401.3 242.0 402.0 244.5 402.4 245.8 402.3 246.8 402.0 249.3M402.0 235.3 403.8 235.3 404.8 235.0 406.7 234.7 409.1 235.7 410.4 236.6 412.0 238.0M424.7 295.3 424.8 297.9 424.6 298.9 425.9 301.3 426.0 303.3 426.2 305.6 427.5 307.5 428.4 309.4 429.3 311.3 430.4 312.8 431.3 314.7 432.7 312.7 432.1 310.5 433.3 309.4 432.1 308.2 432.7 306.0 432.0 303.4 432.0 301.6 431.7 300.1 431.3 298.0 430.8 296.3 430.4 294.4 431.0 291.9 430.7 290.7 431.5 288.4 432.7 287.3 434.1 286.5 435.9 285.0 437.3 283.3 439.1 281.4 440.7 281.0 441.3 279.3 442.1 278.5 443.8 276.2 445.3 275.3 445.4 273.4 444.0 271.3 445.1 269.1 445.3 268.0 445.1 265.3 444.0 264.0 444.9 262.8 446.7 262.0 446.8 260.8 448.0 259.0 449.3 258.0 450.3 256.6 450.7 255.3 453.2 254.8 454.7 254.0 456.6 253.1 457.3 252.0 460.0 251.9 461.3 250.7 460.2 249.7 460.0 248.0 459.4 247.1 459.3 245.3 460.7 244.3 461.0 242.0 462.7 240.7 464.4 240.0 465.7 237.3 466.7 236.7 468.2 235.2 469.4 235.3 470.7 234.0 470.8 233.0 472.0 230.7 473.6 229.3 474.7 228.7 475.5 227.7 477.8 227.0 478.7 226.0M442.7 264.7 442.4 265.9 443.3 268.7 444.7 270.7M402.0 230.7 403.0 230.5 404.6 229.4 406.7 228.7 408.1 228.5 410.0 227.2 412.0 227.3 414.1 228.1 415.4 229.1 416.7 229.3 419.0 229.9 420.0 232.0 418.8 232.5 418.0 234.0 416.4 234.3 415.3 232.9 413.3 233.3 411.2 234.5 410.0 234.7 408.6 234.2 406.7 234.0 405.0 234.5 403.3 236.0 403.2 234.2 402.0 232.7 402.0 230.7M412.0 238.0 414.0 237.3 414.9 239.5 414.0 241.1 414.9 243.3 414.4 245.6 414.8 246.0 414.0 248.1 414.4 250.0 412.7 251.3 412.4 249.8 412.0 247.8 411.2 246.5 411.7 244.7 411.6 242.3 411.8 242.1 411.3 239.1 412.0 238.0M418.0 235.3 419.8 235.4 420.8 236.2 422.7 236.7 423.4 237.9 424.9 239.6 426.0 240.0 427.1 241.3 426.7 244.0 425.4 245.7 424.0 246.7 423.8 245.7 422.4 244.0 421.7 242.2 420.7 240.0 419.1 238.7 418.0 238.0 418.4 237.2 418.0 235.3M421.3 252.9 424.0 252.4 425.3 251.3 427.0 251.3 429.7 250.5 431.3 250.0 433.3 250.7 432.2 251.6 430.7 252.9 429.0 253.2 426.5 253.6 425.3 254.3 423.1 254.3 421.3 252.9M433.3 247.1 435.3 246.2 437.3 245.7 438.9 245.5 441.3 246.0 440.7 248.0 438.9 247.7 436.8 249.0 436.0 248.7 434.6 247.8 433.3 247.1M414.9 238.0 416.6 236.4 418.0 235.3M424.0 246.7 422.8 248.0 422.7 250.7 421.7 251.5 421.3 252.9M420.0 232.0 421.7 232.7 423.3 233.1 424.0 234.0 426.0 235.5 426.0 236.2 428.0 238.0 427.5 240.1 426.7 240.7M449.3 243.3 449.1 245.9 449.2 248.2 448.7 249.7 449.9 251.5 449.3 254.0M452.7 240.7 452.3 242.0 452.2 244.3 453.0 246.2 452.7 248.7M449.3 248.7 451.2 248.1 453.5 248.9 455.6 247.8 457.7 248.8 459.3 248.0M449.3 251.3 451.7 250.7 454.1 251.9 455.6 250.8 458.0 251.3M456.0 240.7 456.0 242.7 457.5 244.9 457.3 246.7M456.0 240.7 457.0 238.6 456.4 237.7 457.2 235.5 457.3 234.0 458.9 232.4 459.3 231.2 461.3 230.0 462.7 229.9 465.3 229.3 466.4 230.3 468.0 231.3 469.5 232.3 470.7 234.0M441.3 245.3 443.3 244.1 446.0 244.4 448.1 243.2 449.3 243.3 451.2 243.0 452.4 241.4 453.8 240.8 456.0 240.7M433.3 250.7 433.7 248.3 433.3 247.1M444.0 254.0 446.2 253.9 447.6 254.1 449.3 254.0M436.0 306.7 437.7 306.6 439.3 306.0 440.2 307.1 441.0 308.3 441.3 310.0 442.5 311.7 443.5 312.4 444.0 314.0 442.7 316.0 442.0 315.2 440.4 312.6 439.3 311.3 438.3 310.4 436.6 307.5 436.0 306.7M336.0 289.0 336.8 290.8 338.0 292.0 339.1 293.4 339.6 294.8 340.0 297.0 340.0 298.5 340.8 301.0 342.3 302.5 343.0 305.0 344.9 306.4 345.0 307.7 347.1 310.4 348.0 311.4 348.6 312.2 350.6 314.0 352.0 315.9 352.4 317.4 353.6 318.5 354.9 320.0 355.4 321.4 354.5 320.2 353.5 318.2 353.4 316.0 351.9 314.5 351.6 313.0 350.2 310.8 350.0 309.0 349.1 308.1 349.2 306.2 347.3 304.1 347.0 303.0 345.9 301.4 345.1 299.6 345.1 298.7 344.0 297.0 342.9 296.2 342.1 294.1 341.2 293.0 341.0 291.0M347.0 293.0 348.4 294.3 349.0 296.7 349.1 297.5 350.2 300.0 351.0 301.0 351.7 302.9 353.5 304.1 354.7 306.4 355.4 308.0 357.0 309.0 358.0 310.9 360.0 311.5 361.3 314.2 362.0 315.0 362.4 316.3 362.9 319.7 363.5 321.6 365.0 323.0 364.7 325.4 364.9 326.5 366.0 328.4 366.0 331.0 367.0 332.9 368.8 334.1 370.5 334.0 371.0 336.0 372.4 337.4 374.8 337.3 376.3 338.6 378.0 340.0 379.4 340.3 380.3 342.4 382.2 343.1 384.0 343.4 384.9 344.4 386.5 345.3 388.0 346.7 390.0 347.4 391.1 347.3 393.3 345.9 395.0 346.0 396.4 347.0 399.0 347.8 400.0 349.0 400.9 351.2 403.2 352.3 404.0 353.4 405.3 353.8 407.0 354.5 409.0 356.0 409.6 357.3 411.4 358.6 412.5 359.0 414.0 361.0 415.6 362.9 416.7 364.4 418.0 366.0 420.0 367.7 421.9 368.3 423.0 369.0 424.1 369.8 425.4 371.9 426.6 372.1 428.0 373.4 429.2 374.2 431.4 375.3 432.0 377.4 433.5 376.9 434.3 375.3 436.0 374.0 437.8 374.1 440.0 375.0 439.7 376.4 440.9 379.4 441.2 380.3 441.1 382.7 441.0 385.0 440.5 387.1 439.2 389.7 438.0 391.4 438.0 393.0 437.5 394.5 436.1 396.7 434.6 397.7 434.0 399.0 433.6 400.3 432.8 401.8 431.8 403.7 431.0 405.0 431.0 406.7 430.7 409.1 429.8 411.2 430.0 413.0 429.4 415.6 429.5 417.3 429.3 419.0 429.0 421.0 429.3 422.5 431.1 425.0 431.3 427.0 432.0 429.0 433.3 430.6 433.1 433.5 434.3 435.2 435.7 437.6 436.0 439.0M394.0 296.0 393.1 296.6 390.8 299.0 390.0 299.2 388.0 301.0 387.2 302.6 386.8 304.8 387.5 307.0 386.6 308.4 386.4 311.0 386.4 313.7 386.9 314.9 386.7 317.4 387.3 318.5 387.0 321.0 387.8 322.8 388.0 324.6 388.3 326.8 389.0 329.0 389.8 329.8 390.6 332.1 391.3 333.0 393.3 334.6 394.0 336.4 395.7 336.3 398.5 336.5 400.0 337.4 401.5 336.8 402.2 335.0 404.0 334.0 405.2 332.7 405.3 330.3 406.2 329.3 407.0 328.0 409.0 327.0 410.2 326.9 412.0 326.0 414.2 326.3 415.4 327.0 414.8 328.8 415.1 329.9 414.0 332.0 413.7 334.0 411.8 335.6 411.0 337.0 410.1 338.0 410.1 340.2 409.0 342.0 407.4 341.7 406.3 341.7 404.0 341.0 404.6 342.8 406.6 344.3 408.0 346.0 410.3 346.1 411.5 347.1 413.2 346.7 415.0 347.0 416.7 347.2 418.6 346.7 420.0 346.0 421.7 346.3 423.9 348.1 425.4 349.0 425.7 351.4 424.6 352.6 425.0 355.0 424.1 357.5 423.9 358.4 424.6 361.1 424.0 363.0 424.3 364.9 426.3 366.3 427.0 368.0 428.0 369.0 430.2 369.5 432.0 370.0 434.7 370.1 436.6 368.8 438.0 369.0 439.3 370.0 441.0 371.0 441.6 370.1 443.3 367.3 445.0 366.0 446.4 364.6 448.9 364.1 450.0 363.0 451.3 361.5 452.0 360.0 454.0 359.0 456.0 359.8 457.5 359.3 458.4 360.0 457.1 361.1 456.8 363.3 455.8 365.2 455.0 367.0 456.4 365.5 458.0 364.1 459.4 363.3 460.0 362.0 461.3 362.3 464.0 363.1 466.1 363.5 468.0 364.4 469.7 364.4 471.7 363.8 474.0 363.0 476.5 363.8 477.9 365.0 480.0 365.0 481.6 366.1 483.4 366.0 482.9 367.7 483.9 368.8 484.4 370.6 484.0 373.0 485.4 374.0 487.1 376.1 488.2 377.5 489.0 379.0 491.0 380.0 492.2 380.1 494.8 380.7 496.0 382.0 498.6 381.9 499.4 382.1 502.0 383.0 503.9 384.7 504.9 385.2 506.1 386.6 508.0 387.0 509.0 388.5 508.8 391.3 509.6 393.5 511.0 395.0 511.2 396.6 512.1 398.7 512.4 401.0 511.0 401.8 510.1 403.4 508.0 405.0 510.5 405.3 512.4 407.3 514.0 407.4 515.8 406.6 517.8 407.3 520.0 407.0 521.2 407.9 522.6 408.5 525.1 409.3 526.7 409.6 528.0 411.0 530.5 410.9 532.6 412.7 534.7 412.5 536.0 413.0 537.3 413.6 539.6 414.6 541.4 414.8 542.4 416.7 544.0 417.0 545.6 418.1 546.4 418.5 548.2 420.6 550.0 421.0 551.1 422.6 551.8 424.3 551.9 427.7 552.4 429.0 551.9 431.7 552.1 432.3 551.3 434.9 550.9 437.4 551.0 439.0M453.6 364.6 454.5 365.7 456.4 366.0 456.0 367.2 456.2 369.0 456.0 371.4 454.6 370.8 453.0 369.4 453.3 367.7 452.7 366.2 453.6 364.6M506.0 407.0 506.7 405.9 508.1 404.5 510.0 403.0 511.4 403.8 513.6 404.5 515.0 406.0 513.5 408.2 512.7 409.6 512.0 410.6 511.1 409.7 508.5 408.2 508.1 407.3 506.0 407.0M395.0 346.0 396.7 346.1 397.9 346.0 399.7 346.1 402.0 346.0 402.3 344.1 402.2 342.5 403.0 341.0 404.6 339.9 406.6 340.5 409.0 339.4 409.8 338.1 409.8 336.4 411.2 334.3 412.0 332.0M401.0 348.4 402.9 348.4 404.1 348.3 405.7 347.3 408.0 347.4 409.0 347.4 411.5 347.4 413.8 347.2 415.0 348.0M408.0 353.0 409.5 351.6 410.8 351.4 412.0 350.0 414.3 348.8 415.6 349.1 418.0 348.4M415.0 357.0 417.0 354.9 417.7 354.5 419.2 352.6 420.0 351.4 422.1 350.5 424.0 349.1 425.0 349.0M420.0 364.0 422.7 364.5 423.9 364.7 426.0 366.0M429.0 369.0 429.0 371.0 429.9 371.8 430.0 374.0M440.0 375.0 440.8 373.0 441.5 371.6 442.7 371.2 444.0 369.0 446.0 368.3 446.5 366.8 448.2 366.3 449.0 364.6M455.0 368.0 456.1 370.0 456.0 371.7 457.8 373.7 458.0 375.0 459.4 376.0 461.8 375.8 464.0 377.0 465.4 379.3 465.7 380.5 466.0 383.0 466.2 385.7 466.1 387.4 465.7 389.5 465.0 391.0 465.8 392.9 466.8 395.4 467.0 397.0M484.0 373.0 483.8 374.2 483.2 376.0 482.4 376.9 481.0 379.0 482.2 381.4 481.6 383.5 482.1 384.5 483.0 387.0 481.2 387.1 479.5 388.6 478.0 388.8 476.0 389.0 475.2 391.4 475.1 393.3 474.0 395.0 473.7 397.0 471.9 397.4 471.2 400.0 470.0 401.0 468.8 399.8 468.5 398.8 467.0 397.0M489.0 379.0 487.9 381.0 487.6 382.4 488.0 385.0 488.0 386.9 487.2 388.9 486.3 390.6 486.0 393.0 486.8 395.3 488.2 396.3 489.0 398.4M496.0 382.0 495.2 383.5 496.0 385.6 495.7 388.0 494.8 389.6 494.5 391.7 495.0 393.0 493.9 394.0 494.4 395.5 493.0 397.0M502.0 383.0 502.3 385.6 503.5 387.6 504.0 389.0 502.8 390.7 502.7 392.5 501.7 393.8 500.0 396.0 498.7 395.7 496.5 395.8 494.3 397.4 493.0 397.0 490.9 398.3 489.0 398.6 486.6 398.1 485.0 398.0 483.1 396.4 482.9 394.7 481.0 393.0 481.5 391.6 482.9 389.2 483.0 387.0M431.0 405.0 432.1 404.7 434.4 404.7 436.0 403.7 438.0 403.0 439.7 403.6 441.0 404.8 443.1 405.2 444.0 406.0 445.5 407.7 446.7 408.5 449.0 409.0M429.0 421.0 430.9 420.4 432.3 420.0 434.0 419.0 435.9 417.7 437.0 415.0 438.0 414.0 439.2 412.2 441.7 412.1 442.0 410.4 444.0 409.0 445.8 408.3 447.2 409.4 449.0 409.0M467.0 397.0 465.5 397.4 463.9 398.2 461.8 399.1 460.0 400.0 460.7 402.0 460.5 403.9 459.8 406.1 460.3 407.5 460.0 409.0 459.3 410.5 459.3 413.5 459.2 414.8 457.9 417.0 458.0 419.0M449.0 409.0 451.4 409.0 453.0 409.5 454.1 409.8 455.9 410.7 458.0 411.4 459.2 414.0 458.5 414.9 460.2 416.6 460.0 419.0M458.0 419.0 455.7 419.6 453.4 420.0 452.0 421.0 451.1 422.3 451.2 423.7 449.3 426.1 449.0 427.0 449.4 429.5 450.2 431.4 450.2 432.5 451.0 435.0 452.4 436.3 453.1 437.9 454.0 439.0M420.0 324.0 421.9 322.7 422.8 322.6 424.5 320.7 426.0 320.0 428.2 319.9 430.4 319.8 432.5 320.8 434.0 321.0 435.3 322.7 436.6 322.6 437.9 324.1 440.0 325.0 441.9 326.3 442.9 327.5 443.9 327.7 446.0 329.0 447.7 330.7 449.1 331.3 450.4 332.0 448.7 332.0 446.8 332.6 444.0 332.4 442.4 331.4 441.8 330.6 440.0 330.0 438.2 329.6 437.4 328.0 436.0 327.0 434.3 327.4 431.5 326.4 430.0 326.4 427.3 326.3 426.0 326.9 424.0 326.4 422.9 325.7 421.2 324.9 420.0 324.0M448.0 337.0 449.0 336.5 451.1 335.5 452.0 334.0 453.5 334.3 456.4 334.0 458.0 334.0 460.4 335.6 462.0 336.5 463.4 337.0 461.8 338.4 459.2 338.9 458.0 339.4 456.3 339.6 453.7 338.8 452.0 339.4 450.8 339.1 449.0 337.4 448.0 337.0M443.0 312.6 443.5 313.5 445.0 316.2 445.6 317.0 447.0 318.3 447.8 319.3 448.4 321.4M436.0 439.0 437.5 440.1 437.3 441.9 439.0 443.0 439.1 444.5 439.5 446.5 440.9 448.9 440.7 450.7 442.0 452.0 442.1 453.3 443.5 455.1 444.0 457.0 445.3 458.3 446.8 459.8 448.4 461.1 450.9 461.9 452.0 463.0 453.0 464.7 454.8 465.5 457.1 466.1 459.0 468.0 459.1 470.3 458.9 471.9 458.7 474.1 458.2 476.6 459.2 478.5 458.4 480.0 458.9 481.7 458.7 483.4 457.7 485.5 457.4 488.3 457.5 489.9 457.0 492.0 456.4 493.5 456.2 495.7 455.5 498.4 455.7 499.9 454.9 502.3 455.0 504.0 454.3 505.6 454.6 508.3 455.0 510.4 454.7 512.6 454.2 514.3 453.6 516.0 452.7 517.6 452.5 520.5 453.3 522.2 452.4 523.8 452.1 526.2 452.4 528.0 452.7 529.7 450.8 531.5 450.7 534.6 450.9 535.9 450.0 538.0 449.2 539.4 449.1 542.4 449.5 544.7 450.0 546.4 449.1 548.5 449.0 550.0 448.2 551.4 448.7 554.0 448.0 555.6 447.5 558.6 448.0 560.0 447.7 562.7 447.5 563.9 446.5 565.8 446.1 568.5 445.0 570.0M460.0 468.0 459.9 469.3 460.4 472.1 461.0 473.3 462.1 476.4 462.0 478.0 462.7 479.3 464.1 482.1 463.6 483.7 465.0 486.0 464.7 488.6 464.0 490.2 463.1 491.6 463.0 494.0 463.1 495.8 461.4 498.1 460.9 499.5 461.0 502.0 460.4 504.1 460.2 506.3 459.4 507.4 459.0 510.0 459.1 511.3 458.6 513.9 458.7 516.3 457.8 518.2 458.0 520.0 458.5 522.0 458.0 524.6 458.9 525.3 459.0 528.0 458.2 530.7 457.8 531.8 458.2 534.5 457.6 536.4 457.0 538.0 455.9 539.4 456.9 542.5 455.1 543.3 455.0 546.6 455.0 548.0 454.4 550.3 455.2 552.2 455.0 553.6 453.7 555.3 454.0 558.0 454.2 559.4 454.4 562.3 453.0 564.5 452.8 566.0 452.6 568.4 453.0 570.0M454.0 439.0 453.3 438.3 450.6 436.9 450.0 435.0 450.1 433.7 450.0 431.7 450.1 430.2 450.0 428.0 450.2 425.3 451.7 423.7 452.4 422.0M454.0 439.0 455.3 439.0 457.4 439.8 459.0 441.7 460.0 442.0 461.4 442.4 463.0 444.0M463.0 444.0 463.0 445.6 462.5 447.4 463.1 450.1 462.0 451.4 462.0 454.0 461.8 456.5 461.5 457.4 460.3 459.7 460.0 462.0 460.1 463.5 459.5 466.7 459.0 468.0M463.0 444.0 464.4 441.6 464.4 440.1 466.0 439.0 468.0 438.8 469.4 438.3 471.0 438.0 471.4 440.2 472.2 442.6 472.8 444.4 473.0 446.0 475.4 447.5 476.8 447.3 478.5 449.5 480.0 450.0 481.6 451.6 482.9 452.7 485.0 453.0 485.2 455.1 485.1 456.2 485.5 458.0 486.0 460.0 487.1 460.9 490.1 462.2 491.0 463.0 491.8 465.2 491.9 467.3 492.0 468.1 491.4 470.1 492.0 472.0M492.0 472.0 489.3 471.6 488.6 472.6 486.0 472.0 484.2 473.2 483.4 474.1 481.9 474.3 480.0 475.0 479.2 477.2 479.2 478.7 479.1 480.3 479.0 482.0M465.0 486.0 467.0 484.5 467.7 484.2 469.0 483.0 471.1 483.5 472.9 483.2 475.3 483.1 476.4 481.8 479.0 482.0M479.0 482.0 479.4 484.1 479.8 484.6 481.6 487.2 482.0 488.0 483.3 489.2 485.8 490.8 487.6 492.1 489.0 493.0 488.9 494.4 488.8 496.8 489.3 497.9 490.0 500.0 492.7 500.5 494.1 500.7 496.1 501.0 498.0 501.0 499.0 499.0 500.0 497.6 502.0 497.0 501.3 494.7 500.4 493.5 501.2 492.0 500.0 490.0 498.7 488.9 497.5 486.4 496.7 485.4 496.0 484.0 495.0 482.6 493.7 480.7 492.0 480.0 492.6 477.8 492.5 475.3 492.5 473.6 492.0 472.0M502.0 497.0 501.8 499.2 500.8 500.2 499.0 501.8 499.0 504.0 498.4 504.9 496.8 506.9 495.6 507.7 493.7 509.0 493.0 511.0 493.0 512.6 491.7 514.6 490.3 515.6 490.0 518.0 489.3 520.5 489.4 522.7 489.8 524.3 490.0 526.0 490.8 527.4 492.3 527.8 494.0 529.0 496.0 527.8 497.6 528.1 500.0 527.0 501.0 525.2 503.1 523.3 504.0 522.0 504.2 519.6 505.2 517.8 506.0 516.0 507.2 514.6 508.6 512.7 509.0 512.0M493.0 511.0 494.7 512.8 495.6 512.8 497.4 514.2 499.0 516.0 500.6 517.7 501.7 518.1 504.0 520.0M551.0 439.0 550.0 438.0 548.7 439.0 547.1 440.9 545.7 441.9 545.0 444.0 543.8 445.5 543.7 447.1 541.4 448.1 541.0 450.0 541.2 452.1 541.2 454.7 540.9 455.4 540.9 458.0 540.0 460.0 539.4 461.5 540.2 463.6 538.9 465.6 540.0 467.9 539.5 469.4 539.0 472.0 538.2 473.7 537.1 476.2 536.5 477.4 536.0 480.0 535.4 481.3 532.9 481.9 532.0 484.0 530.2 484.7 527.3 485.3 526.0 486.0 524.9 486.8 522.6 487.5 521.7 488.5 520.0 489.0 518.1 491.1 518.0 492.7 516.0 494.0 516.5 495.8 516.6 497.5 515.6 500.1 516.0 502.0 515.9 503.4 514.2 505.3 514.0 508.0 512.7 508.7 511.0 510.9 510.4 512.4 509.0 513.0 508.1 515.1 506.7 517.3 506.2 518.4 505.8 520.9 505.0 522.0M494.0 529.0 493.7 531.5 493.7 532.1 493.8 533.8 493.0 536.0 492.7 537.6 490.6 540.0 490.0 541.0 487.7 541.3 485.8 542.1 483.3 542.0 481.5 543.1 480.0 543.0 478.6 544.8 478.3 546.3 478.0 548.0 476.4 549.0 474.1 548.9 473.0 550.0 473.1 552.7 473.8 553.5 475.0 556.0 473.8 557.6 473.1 558.3 470.9 560.0 470.0 562.0 468.8 563.3 467.2 565.2 466.0 566.0 466.2 568.5 466.0 570.0M448.0 560.0 447.9 561.7 447.2 563.9 445.1 566.6 445.0 568.0 444.2 569.3 444.3 571.7 445.1 574.6 444.1 576.0 444.0 578.0 445.0 580.5 445.2 582.0 444.9 583.6 446.0 586.0 447.2 587.9 448.5 590.1 449.7 590.8 450.0 593.0 450.9 594.8 453.1 595.0 454.8 596.4 456.0 598.0 457.2 598.7 459.2 600.0 460.2 601.0 462.6 601.5 464.0 602.4 466.3 602.2 467.3 601.0 470.0 600.4 471.7 600.2 473.2 599.0 474.4 599.0M453.0 560.0 453.7 562.4 452.6 563.9 453.7 565.6 452.9 568.7 453.0 570.0 453.2 571.6 452.6 573.8 452.0 576.4 450.8 577.6 451.0 580.0 451.1 581.6 451.3 583.5 452.4 585.9 453.0 588.0 454.1 589.1 457.2 590.1 458.0 591.3 460.0 592.0 461.4 592.8 463.0 593.8 464.8 595.2 466.0 597.0 467.9 598.2 470.6 598.5 472.5 598.7 474.4 599.0M448.0 564.0 448.8 566.7 448.5 568.4 449.2 569.6 450.0 572.0 450.0 574.2 449.5 576.6 448.6 577.5 448.0 580.0 447.8 582.1 449.3 583.7 448.9 585.3 450.0 588.0 450.8 589.8 451.8 590.6 453.4 592.8 455.0 594.0 457.5 594.5 457.9 597.2 461.0 597.2 462.0 599.0M472.0 560.0 470.5 561.5 469.2 562.9 468.2 564.1 467.0 566.0 467.2 566.9 468.2 568.4 469.7 570.8 470.4 572.0 468.9 574.2 468.5 575.3 467.1 576.8 466.0 579.0 465.6 580.6 463.3 581.5 463.3 583.3 462.0 585.0 462.3 586.3 462.4 588.8 462.0 590.0 462.4 591.8 463.5 593.6 465.0 595.0 466.8 596.4 467.3 596.4 469.0 598.0M483.0 588.0 485.2 587.6 487.0 587.0 488.5 587.3 491.0 588.6 489.6 588.9 488.0 590.4 486.2 589.8 484.0 590.0 483.0 588.0M543.0 596.0 544.1 596.1 546.0 596.4 547.5 598.3 549.0 599.6 547.6 600.0 545.3 599.3 544.4 598.0 543.0 596.0M497.0 629.0 494.8 629.4 493.7 630.8 491.9 631.9 490.0 632.0 487.6 632.5 486.2 633.2 484.0 634.4 481.7 634.6 480.9 636.2 479.1 637.0 477.0 637.0 475.8 637.7 473.4 639.3 472.0 640.0 469.8 640.9 468.4 640.8 467.5 641.7 466.0 643.0 465.1 645.1 463.0 646.0 464.6 646.5 465.8 648.0 468.0 649.0 468.7 650.5 469.7 652.4 470.0 654.0 471.7 654.7 472.0 656.5 474.0 658.0 475.5 658.6 477.3 659.6 478.2 661.0 480.0 662.0 481.3 663.9 481.8 664.9 483.6 667.2 484.0 668.0M494.0 631.0 492.7 631.3 490.9 632.9 489.2 632.9 488.0 634.4 487.0 635.9 483.9 636.1 482.9 636.8 481.0 638.0 478.7 639.4 478.1 639.9 476.0 641.0 477.4 641.3 480.0 642.0 478.1 643.4 476.7 643.0 476.0 644.0M463.0 646.0 461.7 646.8 459.1 648.0 458.0 650.0 456.2 651.4 455.8 652.2 454.0 654.0 452.0 655.4 450.9 655.8 448.9 656.6 448.0 658.0 446.7 658.1 443.6 659.7 442.0 660.0 441.1 661.6 439.0 662.7 437.7 662.7 436.0 664.0 433.9 665.0 432.4 664.8 430.0 666.0 427.5 667.1 425.4 667.3 423.8 666.8 421.6 667.6 420.0 668.0 418.7 667.2 416.5 667.2 413.5 667.6 412.0 667.0 409.8 667.0 407.9 668.5 406.5 668.6 404.0 669.0 401.3 668.9 400.0 668.0M598.0 668.0 599.7 667.6 601.7 665.7 603.0 665.5 604.0 664.0 605.1 662.5 606.8 661.3 608.3 659.7 610.0 659.0 611.6 660.1 613.9 660.1 616.0 660.4 618.1 659.9 618.6 659.3 621.0 658.6 622.0 657.0 624.3 657.8 626.5 657.6 628.0 658.4 630.2 657.8 632.5 656.9 634.0 657.0 636.1 657.4 638.5 658.0 640.5 659.3 642.0 659.4 644.6 658.3 646.7 658.6 648.3 657.8 650.0 657.0 651.3 657.3 654.1 656.4 655.8 656.6 658.4 656.4 660.0 655.6 661.6 655.4 663.6 655.2 665.7 655.1 668.4 655.5 670.0 656.0M615.3 208.7 616.2 207.1 618.8 206.4 620.0 206.0 621.5 205.6 623.6 206.2 624.7 205.3 625.7 206.9 627.3 208.0 627.7 209.7 627.5 211.9 626.7 213.3 625.3 215.0 624.6 215.0 623.3 216.7 621.9 217.8 620.3 218.0 618.7 218.7 617.0 218.8 615.8 217.3 614.0 217.3 615.1 215.5 616.7 214.0 616.7 213.0 615.3 211.3 614.8 210.6 615.3 208.7M623.3 194.7 624.2 194.4 626.3 194.1 628.0 193.3 629.7 192.1 631.6 192.5 633.3 191.3 634.8 192.5 635.3 194.0 633.3 195.7 632.0 196.7 634.0 196.5 635.7 197.8 636.7 197.3 635.9 198.5 635.6 200.6 634.7 201.3 635.1 202.4 636.2 204.3 637.3 205.3 638.1 206.6 639.8 208.0 641.0 209.0M641.0 220.8 640.0 221.3 637.7 222.7 637.2 222.8 634.7 223.3 633.4 223.0 631.9 223.7 630.1 224.4 628.0 224.0 629.1 223.3 630.2 220.6 632.0 220.0 631.0 218.9 630.0 216.7 632.3 216.0 633.3 214.0 632.7 213.3 632.1 210.8 631.3 210.0 630.2 208.8 628.7 206.7 628.9 204.8 629.3 202.7 627.3 201.3 626.0 200.7 624.5 199.4 623.3 198.0 623.3 195.7 623.3 194.7M624.0 198.7 624.8 198.6 627.4 199.5 628.7 199.3 629.9 198.0 632.0 197.3M626.7 202.7 628.2 202.6 629.9 204.2 631.3 204.0 632.6 202.8 634.7 201.3M657.3 194.0 657.0 192.4 656.3 190.3 655.3 188.0 655.0 186.5 656.0 183.3 655.3 182.0 657.6 181.0 657.8 179.6 660.0 179.3 662.2 178.5 663.0 177.1 665.3 176.0 666.9 175.7 667.8 174.4 669.0 172.5 670.7 172.0 671.5 170.3 673.5 168.6 674.7 167.3 675.5 165.6 676.7 164.2 678.7 163.3 677.4 162.0 676.7 160.7 677.7 159.8 679.6 159.7 681.1 158.8 682.7 157.3 684.0 155.8 685.5 154.6 686.7 154.0 687.8 153.2 690.3 154.4 691.5 153.3 693.3 153.3 694.9 152.3 697.0 151.5 697.8 151.4 700.0 150.0 701.8 149.1 703.9 150.0 704.8 149.7 706.7 149.3 709.0 149.3 709.9 149.2 711.7 149.8 713.3 149.6 715.4 150.4 716.1 149.6 718.9 150.3 720.0 150.0 721.5 151.2 722.4 152.4 724.0 152.7 726.1 153.2 728.0 154.0 729.5 153.9 732.6 155.5 733.3 155.2 736.0 156.0 738.0 156.7 739.8 157.9 741.8 158.0 744.0 158.7 746.3 159.7 747.3 160.1 748.8 161.3 750.7 162.0 751.8 163.6 752.0 166.0 750.5 166.7 749.1 168.4 748.0 168.7 746.4 168.0 744.4 168.5 742.5 168.0 741.3 167.3 738.6 166.5 736.7 167.1 734.8 165.9 733.3 166.0 731.0 165.0 730.4 165.0 728.9 164.7 726.7 163.3 728.4 165.3 729.4 166.6 731.6 166.9 733.3 168.7 734.4 171.2 734.7 172.7 736.3 172.9 738.8 174.8 740.0 175.3 741.9 175.4 742.9 173.3 745.3 173.3 746.1 171.6 748.0 171.3 748.3 170.2 748.0 168.7M677.3 160.0 678.5 159.5 680.4 160.2 682.7 160.0 684.7 159.6 686.0 158.5 688.0 156.7 689.7 156.3 691.2 155.8 693.3 156.0 695.8 155.9 697.2 153.7 698.7 153.3 700.0 152.6 702.0 153.2 704.0 152.7 705.1 152.3 707.8 151.1 709.3 151.3M680.0 158.7 681.7 158.0 683.7 156.4 685.3 155.3 687.6 155.3 688.4 154.8 691.0 155.4 692.0 154.7M752.0 166.0 754.6 166.1 756.0 166.0 755.7 163.5 756.3 162.3 756.7 160.0 757.6 159.1 760.0 157.3 762.4 158.0 764.0 158.7 764.6 158.2 766.5 157.1 768.0 156.0 770.1 156.7 772.0 156.7 773.2 158.0 775.3 158.6 776.0 158.7 778.2 157.7 780.0 157.3M657.3 194.0 658.9 194.1 661.5 195.3 662.7 195.3 664.9 194.7 667.0 193.4 668.0 192.0 669.1 191.4 670.7 190.0 671.3 191.8 672.7 193.3 672.6 195.6 673.5 196.6 674.0 198.7 675.5 199.6 676.4 202.2 676.7 203.3 677.8 204.7 680.0 205.3 681.4 205.1 682.8 203.4 684.0 202.7 685.3 200.0 685.3 198.7 685.5 196.3 684.6 194.5 684.7 193.3 685.9 191.9 686.3 190.3 686.7 189.3 688.7 189.1 689.4 188.3 692.0 187.4 693.3 187.3 691.8 185.9 689.6 185.7 688.0 184.0 689.0 182.7 688.7 180.0 690.1 179.0 692.2 178.2 693.3 176.7 694.6 176.2 695.9 175.3 697.3 173.1 698.7 172.7 700.7 171.5 702.3 170.7 704.4 170.7 705.3 170.0 707.0 170.1 708.0 171.3 706.9 172.1 705.0 173.8 703.3 174.3 702.7 175.3 700.7 177.0 700.6 176.9 698.7 178.7 697.9 180.6 697.3 182.7 698.3 184.6 698.4 186.4 699.3 187.3 700.9 187.5 703.3 188.7 705.6 187.8 706.5 188.0 708.6 187.2 710.7 187.3 713.0 187.0 714.4 186.3 716.3 185.9 717.3 186.0 719.6 187.2 720.7 188.0M670.7 190.0 672.0 188.4 672.2 186.0 672.7 184.0 673.4 182.1 672.5 181.1 673.3 178.7 674.9 177.6 675.9 175.6 676.7 174.7 677.7 173.6 679.6 172.2 680.0 170.0 679.7 168.7 680.5 166.7 680.7 165.3 681.7 163.7 683.7 163.1 685.3 162.0 686.7 161.0 688.7 160.7 690.5 159.0 692.0 158.7 694.2 158.0 696.0 158.4 696.5 157.3 698.7 156.7 701.4 157.2 702.7 158.0M705.3 170.0 705.2 168.2 704.2 166.4 704.7 165.3 703.4 163.0 703.3 161.3 703.2 159.8 702.7 158.0M702.7 158.0 705.3 157.9 706.7 157.3 707.8 156.9 709.5 155.2 710.7 154.0 713.0 153.8 714.0 153.3 716.0 152.7 717.0 154.4 718.7 154.7M718.7 154.7 718.1 157.2 717.6 157.5 718.0 160.0 719.0 161.3 719.8 163.0 720.7 165.3 720.9 167.4 720.5 169.5 720.0 170.7 721.8 172.5 722.5 173.0 723.3 175.3 723.7 176.9 725.3 178.7 724.9 179.7 723.2 180.6 722.0 182.7 720.3 184.4 719.0 185.4 717.3 186.0M663.9 206.0 663.0 204.0 663.0 203.4 663.3 201.3 663.8 200.6 665.2 199.2 666.7 197.3 668.0 197.7 669.3 198.7 669.7 200.5 668.7 202.7 669.5 203.7 669.8 206.0M671.3 204.0 673.5 204.6 674.7 203.7 674.9 206.0M671.6 206.0 671.3 204.0M665.3 198.7 665.2 200.8 665.9 201.7 666.7 204.0 666.4 206.0M662.7 202.7 664.5 203.2 666.7 203.3 667.9 205.4 667.9 206.0M699.6 206.0 700.0 205.3 700.4 203.5 699.3 201.3 700.6 199.5 701.3 198.7 703.0 199.4 703.8 200.6 705.3 200.7 705.6 198.5 706.7 197.3 704.4 196.1 703.2 196.5 701.3 195.3 701.5 194.0 702.7 192.7 704.4 192.6 705.9 192.4 706.9 191.5 709.3 192.0 711.2 191.4 713.7 191.2 715.3 191.3 717.6 189.8 718.3 189.1 720.7 188.0M641.0 224.8 640.0 225.3 638.5 226.0 637.7 226.7 636.0 228.0 634.3 228.8 632.0 228.7 630.6 229.7 629.3 230.7 631.6 232.2 632.7 233.3 633.7 233.1 635.2 234.0 637.3 234.7 637.6 236.7 639.0 237.9 640.0 240.0M712.7 206.0 713.7 205.0 714.7 202.7M699.3 201.3 700.8 200.6 702.7 200.7 705.4 201.1 706.7 200.7 708.6 200.7 710.0 201.1 713.2 202.4 714.7 202.7M706.7 197.3 707.8 197.4 709.3 197.0 711.4 196.2 713.3 196.7 715.0 196.0 716.0 194.7M715.3 191.3 715.7 192.5 716.0 194.7 715.6 196.6 714.7 198.7 714.9 200.1 714.7 202.7M714.7 202.7 717.0 201.0 717.8 200.7 720.0 200.0 721.1 200.3 723.4 202.5 724.7 202.7 725.5 204.0 726.8 206.0M741.0 224.2 743.1 224.6 744.6 226.1 746.7 226.7 746.8 228.3 747.1 231.0M780.0 218.0 777.4 218.4 776.7 219.3 773.4 219.0 772.0 219.3 770.2 220.0 768.7 221.5 766.7 222.7 766.7 224.1 766.4 226.7 765.3 228.0 766.2 229.0 767.2 231.0M600.0 165.3 602.0 165.4 604.0 166.7 605.5 168.3 606.6 170.0 607.7 170.7 605.9 172.7 605.3 174.0 604.0 174.0 601.5 174.5 600.0 175.7M630.0 230.7 631.7 231.7 632.9 232.3 634.7 232.7 635.8 234.3 637.0 236.1 638.7 236.7 639.0 237.7 638.9 240.6 640.0 242.0 640.3 243.8 639.0 245.7 639.3 246.7 637.8 246.1 635.5 246.9 633.1 246.0 632.0 246.7 630.1 247.2 629.4 246.4 627.6 247.1 625.3 246.7 624.2 246.8 622.7 246.9 621.0 246.8 618.7 246.7 618.4 248.3 619.1 249.5 619.3 251.3 618.7 253.1 618.6 254.5 618.0 256.7 617.3 258.3 617.3 259.9 617.2 261.2 616.7 263.3 617.2 264.8 618.0 267.2 618.0 268.7 619.8 269.4 620.3 270.6 622.0 270.7 623.3 271.1 624.4 271.9 626.0 272.7 627.3 274.5 628.0 275.3 629.8 275.0 631.1 273.9 633.3 273.3 634.9 271.9 636.7 271.5 638.7 270.0 640.2 268.2 641.0 267.2M619.3 253.3 620.7 254.0 623.1 254.0 624.7 254.0 625.1 256.1 624.8 256.9 625.3 259.3 624.5 260.4 624.7 262.9 623.3 264.7 624.0 266.9 624.7 267.4 624.7 269.3 623.1 269.4 622.0 270.7M639.3 246.7 641.0 247.2M705.3 274.0 705.3 274.0 705.3 274.0M705.3 274.0 705.3 274.0M703.3 276.0 705.3 276.6 706.4 276.2 708.0 276.7 709.3 277.0 711.3 277.3 710.0 278.6 708.0 278.7 706.5 278.8 704.0 277.7 703.3 276.0M702.9 274.0 702.9 274.3 701.3 274.3 701.3 274.0M735.7 274.0 735.4 275.2 735.3 276.7 734.7 279.0 734.2 279.5 734.0 282.3 734.0 283.3 734.1 284.9 733.6 287.5 732.7 288.7 731.7 289.5 731.3 291.1 730.0 292.7 727.9 293.0 726.8 292.1 725.3 292.0 723.7 291.9 721.1 292.3 720.0 292.7 718.0 291.5 716.3 292.2 714.7 291.3 712.6 291.2 711.3 290.0 709.3 290.0 707.3 289.4 706.8 287.9 705.3 287.3 703.1 287.4 702.4 286.0 700.0 286.0 698.1 286.8 696.0 287.3 695.4 288.3 695.1 290.9 695.2 292.3 694.7 294.0 692.8 294.6 692.0 296.0 690.4 294.8 689.1 294.4 688.0 292.7 686.1 292.5 684.9 291.4 684.0 290.0 682.3 289.0 681.1 287.1 680.0 286.7 678.7 286.7 676.1 286.2 674.7 285.3 673.3 285.4 671.3 283.8 670.7 283.3 669.3 282.2 668.7 280.7 669.3 279.4 669.2 276.9 669.3 275.3 669.8 274.0M642.2 274.0 640.0 274.7 638.7 274.7 636.1 276.4 634.7 276.7 633.0 277.4 630.9 276.6 630.0 276.7 628.0 276.0 626.6 276.9 626.0 279.3 623.8 280.1 622.7 281.9 621.3 283.3 620.5 284.8 619.9 286.9 618.7 288.7 619.1 289.8 618.0 292.0 617.5 294.2 617.3 295.3 615.9 297.2 615.1 297.8 614.5 299.4 613.3 300.7 611.7 301.4 611.3 303.1 609.3 304.7 607.8 306.2 607.4 307.1 606.1 309.2 605.3 310.0 604.4 311.5 604.7 313.1 603.2 314.5 602.7 316.7 602.0 318.7 600.8 320.1 600.0 322.0M634.7 276.7 635.4 278.4 636.8 279.8 638.0 280.7 638.1 282.7 638.0 283.6 639.7 285.9 639.3 287.3 637.6 288.2 635.3 288.7 633.3 290.0 632.2 292.2 632.0 294.0 630.6 294.3 628.9 294.8 627.2 295.5 625.3 296.7 624.0 297.4 622.7 298.1 621.3 299.8 620.0 300.7 619.5 302.2 620.3 304.3 620.0 306.0M620.0 306.0 618.0 306.3 618.0 308.7 616.5 309.2 614.8 308.4 612.9 309.4 611.3 308.9 611.0 311.4 610.2 313.1 610.0 315.3 610.0 317.6 608.9 318.3 608.0 320.7 606.8 321.0 606.0 323.4 604.3 323.3 602.7 324.7 601.9 324.5 600.0 325.3M620.0 306.0 618.3 306.0 614.9 306.6 613.4 306.5 611.3 306.0M620.0 306.0 645.3 330.0M626.1 313.3 626.1 330.0M627.2 313.3 627.2 330.0M620.0 310.0 621.8 310.9 623.6 311.2 625.2 312.3 626.1 313.3M665.7 274.0 665.3 275.3 663.7 276.9 662.9 278.2 662.7 280.7 663.7 281.9 663.9 283.9 665.3 286.0 665.9 288.4 667.7 290.1 668.0 291.3M670.7 283.3 670.5 284.6 669.3 285.7 668.0 287.3 668.6 289.8 668.0 291.3M668.0 291.3 668.6 293.1 667.9 296.2 668.9 297.9 669.6 299.3 669.3 302.0 669.4 304.1 669.2 306.2 668.1 309.1 667.9 310.9 668.0 312.7 669.7 313.6 670.6 315.2 671.1 316.2 672.7 318.0 661.3 330.0M672.7 318.0 675.3 318.1 676.7 318.5 678.0 319.2 681.0 319.6 682.7 319.3 700.0 330.0M682.7 319.3 683.0 321.0 683.5 323.9 684.5 325.6 684.8 327.3 685.3 330.0M708.4 290.7 708.4 324.7M709.2 290.7 709.2 324.7M708.7 324.7 731.3 324.7M708.7 325.5 731.3 325.5M708.7 324.7 709.3 326.4 708.7 328.7 708.7 330.0M731.3 324.9 732.4 323.8 734.2 322.6 736.0 320.7 734.7 318.3 734.9 316.6 733.8 314.8 732.9 312.6 731.9 311.1 732.0 308.7 731.0 307.2 730.7 304.8 730.2 302.1 729.7 300.4 729.2 299.1 728.0 296.7 729.1 298.6 729.6 299.9 731.2 300.7 731.3 302.7 731.4 301.0 732.7 299.0 733.3 298.0 733.4 296.8 734.1 293.9 734.7 292.7 734.2 294.1 734.7 295.3 734.9 297.3 736.1 299.2 736.7 301.8 736.6 304.0 737.5 304.6 738.7 307.3 739.7 309.2 739.9 310.4 740.8 312.3 741.0 314.3M745.1 329.0 745.3 330.0M730.0 292.7 729.7 293.6 728.8 295.6 728.0 296.7M736.0 322.0 736.5 324.0 736.7 326.2 738.3 327.5 738.7 330.0M734.0 283.3 734.7 285.5 734.7 287.4 736.0 288.7 736.2 289.7 735.0 291.4 734.6 293.0 734.7 295.3M736.0 288.7 737.7 287.6 739.0 287.3 741.0 286.7M735.3 276.7 737.1 276.8 739.3 276.0 738.9 274.0M741.0 288.5 739.5 289.0 737.3 290.7M766.7 230.0 766.5 231.0M604.0 310.0 602.8 311.3 602.2 313.4 602.0 316.4 601.0 318.0 601.0 319.6 598.8 322.4 598.6 324.6 598.0 326.0 598.0 327.7 597.8 330.7 598.6 331.9 598.7 334.4 599.0 336.0 599.7 338.0 599.0 339.9 600.3 341.9 600.0 344.0 599.5 345.6 598.4 347.1 597.4 348.6 597.0 350.0 598.3 351.1 598.3 354.1 600.0 354.5 600.0 357.0 601.4 358.6 602.9 359.8 603.0 360.9 605.1 362.9 606.0 364.0 606.6 366.0 608.2 367.7 608.3 369.2 610.0 371.0 611.0 372.9 612.3 373.9 614.0 375.9 615.0 378.0 616.7 379.2 617.6 381.5 618.2 382.8 620.0 384.0 620.4 386.0 621.3 387.0 623.0 388.0 624.6 386.8 626.3 386.5 628.1 385.2 630.0 385.0 632.0 385.0 634.7 385.3 635.9 385.3 638.0 386.0 640.2 384.7 641.2 384.5 642.3 383.4 644.0 382.0 645.7 380.7 647.3 380.6 650.0 380.0 652.6 379.9 653.9 381.1 656.0 381.0 656.4 382.0 657.5 383.9 658.9 386.1 659.0 387.0 660.4 387.3 662.4 386.8 664.2 388.4 666.0 388.0 666.0 390.1 666.8 391.3 667.4 393.4 667.0 396.0 666.5 398.3 665.9 399.8 665.8 402.0 665.5 403.5 666.0 406.0 666.3 407.4 666.9 409.5 668.3 411.5 669.0 414.0 670.8 415.5 671.3 416.9 673.0 419.0 674.0 420.1 674.4 421.9 675.2 424.1 675.0 426.0 675.6 428.5 675.4 429.3 676.8 432.1 677.0 434.0 677.5 435.7 677.3 437.5 677.4 439.7 677.8 441.7 677.5 444.2 678.0 446.0 676.6 448.5 676.5 449.6 675.2 452.0 675.0 454.0 674.7 456.3 674.1 457.9 674.0 460.0M614.0 310.0 613.8 311.3 613.1 313.9 612.2 315.7 610.3 317.1 610.0 317.9 609.0 320.0 609.7 322.2 609.5 324.1 609.0 326.0M625.0 313.0 628.0 348.0 611.0 348.0M600.0 344.0 601.4 344.9 603.5 344.3 606.0 345.0 607.8 345.5 609.3 347.3 611.0 348.0M626.0 313.0 652.0 335.0M652.0 335.0 651.7 337.2 652.1 339.0 653.2 341.3 652.6 342.5 654.4 344.8 654.0 347.0 651.9 347.3 650.3 348.4 648.2 348.4 646.1 349.0 643.5 350.2 642.0 350.0 641.7 351.4 640.0 352.0 639.1 353.3 637.2 354.3 635.4 356.3 634.0 357.8 632.2 358.3 630.0 360.0M652.0 335.0 653.8 333.6 654.4 332.1 656.4 331.5 657.9 329.9 658.2 327.8 660.0 327.0 661.8 325.6 663.2 324.4 664.6 324.3 666.4 323.5 668.3 322.5 670.0 320.7 672.0 320.0 673.5 319.3 675.2 319.8 677.0 320.0 677.9 320.5 680.1 319.3 682.0 320.0M682.0 320.0 706.0 332.0M682.0 320.0 684.0 340.0 683.8 341.4 681.9 343.0 680.8 345.9 680.7 347.4 679.3 349.0 679.6 351.0 678.0 353.0 679.5 355.1 678.9 356.5 679.5 357.8 681.0 359.0 681.9 361.1 681.9 363.1 681.7 364.5 682.2 366.0 683.0 368.0M707.0 332.0 706.4 334.3 706.8 336.4 706.8 338.1 707.1 340.5 706.4 341.7 706.8 343.8 706.0 346.0 703.7 347.1 703.0 349.3 701.0 350.0 701.0 352.2 701.3 354.4 700.3 355.9 700.6 357.7 700.0 360.0 700.4 361.9 702.5 363.1 703.3 365.8 704.0 367.0 701.8 367.5 700.7 368.8 699.0 370.0M707.6 310.0 708.3 312.9 707.5 314.7 707.8 315.9 708.3 318.1 707.0 320.6 706.9 322.8 707.6 325.0M708.6 310.0 708.5 312.8 708.5 314.8 709.0 316.6 708.2 318.3 708.6 320.6 708.8 322.9 708.6 325.0M708.0 325.0 735.0 325.0M708.0 325.8 735.0 325.8M652.0 356.0 653.5 355.7 656.2 354.6 657.0 353.8 659.0 354.0 660.2 353.9 662.5 355.7 664.7 356.5 666.7 356.5 668.0 357.0 670.1 355.9 671.8 355.8 674.2 355.1 676.1 355.2 678.0 355.0 679.3 356.5 680.1 358.7 682.0 360.0 682.7 362.1 681.9 364.1 683.3 366.7 683.0 368.0 682.0 368.5 680.8 370.6 678.5 372.2 677.9 373.4 676.0 374.0 674.6 375.6 673.8 376.7 673.4 378.7 672.0 380.0 670.5 381.5 670.2 382.9 669.0 384.3 667.9 384.9 666.0 387.0M652.0 356.0 651.6 358.1 651.7 360.7 651.2 362.0 650.9 364.1 650.6 366.7 650.0 368.0 649.3 369.7 650.6 371.3 650.4 373.3 650.2 376.5 649.6 377.8 650.0 380.0M644.0 364.0 644.4 380.0M645.2 364.0 645.6 380.0M647.0 363.0 647.6 380.0M648.2 363.0 648.8 380.0M636.0 366.0 635.0 384.0M630.0 360.0 629.3 362.1 629.5 363.7 629.0 365.4 629.0 367.0 631.4 367.2 633.2 366.1 634.3 366.1 636.0 366.0 637.8 366.0 639.5 365.1 642.4 365.2 644.0 364.0 644.6 362.3 646.7 362.0 647.5 360.5 649.2 358.7 651.3 356.7 652.0 356.0M654.0 347.0 655.0 348.2 656.0 350.2 658.1 352.4 659.0 354.0M623.0 388.0 622.3 386.5 622.7 383.5 623.0 382.5 621.9 380.7 622.6 377.6 622.0 376.0 621.5 374.6 623.0 371.4 623.1 370.4 623.0 368.0 625.2 368.2 627.7 367.1 629.0 367.0M606.0 364.0 608.0 363.6 608.7 362.3 610.8 361.5 612.0 360.0 614.1 359.4 615.6 359.6 617.5 359.8 620.0 359.0 621.2 360.4 621.5 362.9 621.2 364.8 622.8 365.9 623.0 368.0M610.0 371.0 611.1 369.7 613.7 369.0 615.0 368.0 616.7 369.0 616.9 370.8 619.3 372.0 620.0 374.0 620.4 375.4 622.0 376.0M615.0 378.0 616.1 376.9 617.7 375.0 620.0 374.0M600.0 357.0 602.2 357.3 603.9 356.4 605.3 356.0 608.0 356.0 608.9 357.8 611.0 359.1 612.0 360.0M611.0 348.0 610.7 350.3 609.8 351.8 610.0 354.0 608.7 354.7 608.0 356.0M620.0 359.0 622.4 358.8 623.7 359.1 626.5 359.8 628.0 359.6 630.0 360.0M666.0 388.0 667.4 386.7 667.4 384.1 668.8 381.6 669.0 380.0 670.0 378.2 671.8 378.0 672.7 376.3 675.3 375.2 676.0 374.0M683.0 368.0 682.1 370.5 682.1 371.8 680.2 374.2 680.0 376.0 680.6 378.6 680.6 379.7 680.6 381.7 680.7 384.0 681.0 386.0 682.4 388.6 683.1 390.0 683.9 391.5 684.0 394.0 682.6 394.7 680.6 394.9 678.7 394.8 676.0 396.0 674.7 396.5 672.2 396.5 670.2 396.4 668.8 395.9 667.0 396.0M681.0 376.0 682.3 375.7 684.9 373.8 687.1 373.2 688.0 372.7 690.0 372.0 691.9 372.2 694.3 371.4 695.2 370.2 696.6 370.4 699.0 370.0M684.0 394.0 685.3 392.3 687.1 390.7 687.4 389.1 688.3 388.3 690.0 386.0 691.9 386.3 693.5 386.0 695.1 386.6 697.1 387.5 699.0 387.0 700.9 386.0 701.9 385.3 704.2 385.6 706.8 384.2 708.0 384.0 709.9 384.9 711.1 386.0 711.8 386.3 714.0 388.0M669.0 414.0 671.0 414.0 672.3 414.1 674.7 413.0 676.0 413.0 676.6 411.3 678.7 409.1 679.1 407.7 681.0 406.0 679.6 404.4 679.7 401.7 678.7 399.6 678.0 398.0 676.5 396.5 676.0 396.0M673.0 419.0 675.1 418.6 676.7 418.1 678.0 418.0 680.0 416.6 681.2 414.8 682.6 413.0 684.0 412.0 685.5 410.3 685.6 408.2 685.8 405.8 686.8 404.5 688.0 402.0 690.0 386.0M667.0 399.0 668.0 398.9 671.1 399.4 672.6 398.7 674.0 399.0 673.6 397.8 674.0 396.0M675.0 426.0 676.5 426.1 678.4 426.0 680.5 425.9 682.9 425.0 684.0 425.0 685.7 426.0 686.6 427.8 687.1 430.1 688.0 432.0 689.9 431.0 690.6 430.9 692.6 430.1 694.0 429.0 695.7 428.6 697.7 429.2 699.0 430.0 699.1 431.3 699.0 434.2 699.9 436.2 699.6 438.3 700.1 439.6 700.0 442.0 702.1 442.6 704.3 442.5 705.7 443.3 708.0 444.0 708.9 444.8 711.3 446.1 712.0 447.3 714.0 448.0 714.8 449.0 716.1 448.7 718.0 450.0M714.0 388.0 715.6 388.5 717.7 389.6 720.7 389.2 722.0 390.0 722.0 392.3 721.3 393.6 721.5 396.7 719.7 397.7 720.0 400.0 719.2 401.5 718.9 404.6 717.8 406.5 718.0 408.0 717.9 409.3 719.0 411.7 718.2 413.4 718.6 415.4 719.0 418.0 718.7 419.6 719.5 421.9 719.3 424.0 720.2 426.3 720.0 428.0 720.5 430.1 721.9 431.1 722.2 432.2 723.0 434.0 724.2 435.6 726.7 435.4 728.9 437.6 730.0 438.0 730.1 439.8 731.1 441.1 732.8 442.3 733.0 444.0 734.0 460.0M718.0 450.0 718.0 434.0 719.7 434.2 720.9 434.2 723.0 434.0M722.0 390.0 723.7 390.6 725.2 390.0 726.8 389.2 728.8 388.8 731.2 388.7 733.0 389.0 733.6 390.2 733.6 393.1 733.0 394.0 734.2 396.2 734.0 398.0 733.8 399.4 732.2 401.9 731.4 403.5 731.4 404.0 730.0 406.0 728.1 406.9 725.4 407.0 724.4 407.1 722.0 407.0M730.0 406.0 745.0 419.0M733.0 389.0 735.0 388.8 737.3 389.2 738.8 390.5 739.9 390.9 742.0 391.0 743.9 391.1 745.3 391.2 747.8 390.7 750.0 390.0 752.0 389.7 753.7 388.5 755.3 387.6 757.4 387.3 760.0 386.0 761.6 384.2 763.4 383.3 764.7 380.4 765.6 379.7 766.8 376.9 768.0 376.0 766.9 374.8 764.7 374.2 762.5 371.9 761.8 371.1 758.7 369.7 758.5 369.5 756.0 368.0 754.9 365.5 755.3 364.2 754.0 362.0M750.0 390.0 749.0 408.0M739.0 348.0 738.3 349.4 737.2 352.7 735.8 353.9 735.0 356.7 734.2 358.7 734.0 360.0 733.9 362.3 732.2 364.3 732.3 366.0 731.2 368.0 731.6 369.4 731.1 371.9 730.0 374.0 730.4 375.6 731.5 378.2 732.5 380.6 733.2 382.0 734.0 384.0 736.3 384.8 736.5 386.1 738.5 387.0 740.3 388.1 742.0 390.0M739.0 348.0 740.4 346.5 741.1 345.3 741.6 343.9 742.0 342.0 742.8 344.1 743.8 345.5 745.6 347.6 746.1 348.6 748.2 351.0 749.6 351.7 750.0 354.0 750.9 355.1 753.0 357.7 754.0 359.0M754.0 359.0 755.2 361.1 756.0 362.4 757.0 364.0M745.0 442.0 743.8 442.6 741.6 442.8 739.5 443.4 737.8 442.8 735.7 443.5 734.0 444.0 732.9 442.6 731.8 440.8 730.9 439.3 730.0 438.0M745.0 442.0 747.4 441.1 747.6 441.7 750.0 441.0M718.0 408.0 719.2 408.6 720.8 409.1 722.0 410.0 721.6 411.3 722.6 414.7 721.7 415.9 722.0 418.0 720.2 417.3 719.0 418.0M724.4 399.0 726.5 399.2 727.1 398.0 729.0 398.0 729.6 400.4 729.6 401.8 730.0 404.0 727.6 405.2 726.0 405.6 726.1 404.5 724.6 402.4 725.5 401.0 724.4 399.0M718.0 450.0 716.6 451.1 714.7 453.7 713.4 455.5 712.9 456.6 711.9 459.0 710.0 460.0M700.0 442.0 699.0 460.0M728.0 438.0 728.5 439.4 728.8 441.9 728.6 444.6 729.7 445.4 729.3 447.8 730.0 450.0 729.7 451.7 729.1 454.5 728.3 456.3 728.1 458.7 728.0 460.0M732.0 310.0 733.5 311.7 733.8 313.4 734.3 316.2 735.4 317.8 736.0 320.0 736.0 321.4 737.4 323.5 737.7 326.2 739.3 328.0 739.0 330.1 740.0 332.0 740.4 334.4 741.0 335.6 742.2 338.6 743.0 340.0 743.3 341.2 744.1 342.9 745.2 344.8 746.7 346.5 747.1 348.2 748.0 350.0 749.4 352.4 749.9 354.1 750.6 356.0 752.0 357.0 752.8 358.8 753.3 359.7 753.7 362.1 755.0 363.0 756.5 363.6 758.3 363.7 760.0 364.0 761.6 363.1 763.8 363.5 766.1 362.1 768.3 362.3 770.0 362.0 771.2 361.4 773.3 362.0 775.6 361.0 777.4 361.0 776.5 362.5 776.1 364.4 776.4 366.8 775.8 368.8 775.0 370.0 774.4 371.1 772.7 372.8 772.1 375.0 772.1 376.8 770.7 377.9 770.0 380.0 769.7 382.0 767.8 382.7 767.7 384.6 766.5 386.1 765.2 388.1 764.0 390.0 763.4 391.3 761.0 392.7 760.9 395.5 759.4 396.7 758.0 398.0 756.5 399.3 755.0 401.9 753.7 403.0 753.0 403.9 752.0 406.0 751.1 408.2 750.0 408.7 749.8 411.0 748.8 411.9 748.0 414.0 747.8 415.4 746.0 417.6 745.8 420.0 745.0 422.0 745.3 424.3 746.1 426.0 745.1 428.5 746.0 430.0 745.5 431.7 745.9 434.2 747.0 435.4 746.5 438.5 747.0 440.0 747.7 441.4 748.1 444.4 748.1 445.5 748.8 447.7 749.0 450.0 748.3 451.5 748.5 453.4 748.2 456.1 748.3 457.9 748.0 460.0M738.0 310.0 739.2 311.3 739.2 314.4 740.8 316.3 741.0 317.5M746.5 329.0 747.6 330.6 748.0 332.0 749.4 333.8 749.4 335.0 750.4 337.6 751.7 338.5 753.1 339.7 754.0 342.0 754.8 344.2 755.4 346.1 755.2 346.7 756.0 349.0 757.1 351.0 757.1 352.1 758.0 354.0 759.0 353.2 760.9 352.0 762.3 350.0 764.0 349.0 766.0 348.5 768.6 347.1 770.3 346.4 772.5 346.1 774.1 344.6 776.0 344.0 777.4 343.7 779.9 342.0 780.5 341.0 783.6 339.9 785.0 339.8 786.4 338.9 788.0 338.0 789.5 336.9 790.6 336.2 792.2 333.9 794.7 333.4 796.0 332.0 797.3 330.8 797.6 329.0M756.0 344.0 758.2 342.5 758.5 342.0 761.2 341.1 762.4 341.2 764.0 340.0 765.5 339.8 768.6 339.8 769.8 339.1 771.7 339.5 774.4 338.8 775.7 338.6 778.0 338.0 778.6 339.8 779.1 341.2 780.0 342.0M778.0 338.0 779.8 336.6 781.2 335.9 782.7 334.8 783.4 333.5 786.0 331.6 787.8 329.8 788.8 329.0M780.0 342.0 781.4 341.5 783.7 340.2 785.5 339.8 785.7 338.2 788.0 338.0M832.8 329.0 833.0 330.0 832.7 332.1 833.4 333.6 833.9 335.4 834.9 338.5 834.8 339.9 835.0 342.0 835.3 344.2 835.9 346.7 837.4 348.3 837.8 349.4 837.3 351.8 837.9 353.9 839.0 356.0 840.4 358.5 841.0 359.6 840.6 361.3 841.3 363.3 842.4 365.7 843.0 368.0 843.9 369.8 844.3 371.2 845.2 373.5 845.4 375.0 846.9 373.2 847.6 371.2 848.2 369.7 850.0 368.0 850.6 365.5 851.3 364.6 851.7 362.5 851.6 359.5 852.0 358.0 851.7 356.4 852.7 353.4 851.3 351.8 852.0 350.0 853.0 348.6 853.9 347.5 855.5 346.1 857.0 344.0 858.2 342.2 860.0 341.0M851.0 370.0 852.5 370.2 855.0 369.0 855.6 371.2 855.3 372.6 856.8 375.0 857.0 376.0 856.9 377.2 855.3 380.2 854.8 381.9 854.0 383.0 852.6 380.6 852.7 379.3 851.0 378.0 851.1 375.8 851.1 374.7 851.7 372.6 851.0 370.0M766.0 460.0 766.4 458.5 766.9 455.9 769.1 453.6 769.0 452.1 770.0 450.0 771.1 448.8 773.0 447.0 773.7 448.2 774.5 450.1 774.6 452.3 774.2 453.8 775.9 456.7 775.5 458.6 776.0 460.0M674.0 460.0 674.5 462.6 673.5 463.7 673.3 466.7 673.0 468.0 674.1 470.3 675.1 471.9 675.5 474.5 675.7 476.5 677.0 478.0 677.1 480.1 678.7 481.5 680.0 483.9 679.7 485.9 681.0 488.0 681.3 489.9 680.7 491.4 681.9 493.4 681.4 496.5 682.0 498.0 683.5 500.3 683.5 500.8 685.4 503.4 686.0 505.0 686.3 506.1 686.9 508.3 687.6 511.2 687.6 511.7 688.8 513.6 689.0 516.0 688.8 517.9 690.1 519.7 689.3 522.0 689.3 523.9 690.0 526.0 691.6 526.9 693.1 527.8 694.0 529.4 695.4 528.7 697.9 528.3 699.4 527.2 702.0 526.0 704.3 525.6 705.4 525.7 708.4 525.2 710.0 525.0 711.6 524.3 713.4 522.9 714.3 521.9 716.5 521.6 718.0 520.0 719.9 518.5 720.1 516.4 721.8 515.6 722.4 513.9 724.0 512.0 725.5 510.2 726.3 508.7 726.6 507.7 726.8 505.4 728.0 504.0 729.2 501.3 728.6 500.0 729.4 498.0 729.3 496.5 729.1 494.9 728.0 493.0 729.3 492.0 731.3 492.2 734.0 492.0 733.9 490.0 735.4 487.6 736.3 485.9 736.4 484.0 736.6 481.8 735.6 480.1 734.6 478.4 733.7 475.6 734.0 474.0 735.0 473.1 736.5 470.3 737.4 469.7 739.0 468.0 741.2 466.2 742.9 465.3 744.3 464.1 746.0 463.0 746.9 462.0 748.6 460.1 749.4 458.1 750.0 456.0 749.1 453.3 749.8 452.3 749.0 450.0M673.0 465.0 694.0 467.0 696.2 466.7 697.7 467.6 700.0 466.3 701.8 466.8 703.4 467.7 706.6 467.5 708.0 467.0M698.0 468.0 696.8 469.9 696.6 472.3 697.2 474.4 696.7 475.4 695.1 477.4 695.9 480.5 695.0 482.0 695.0 506.0 693.3 505.9 692.0 505.9 689.5 506.0 688.0 507.0 687.7 505.9 686.0 505.0M697.0 468.0 697.0 470.5 696.3 472.7 696.1 474.6 696.0 475.4 695.2 477.6 694.2 479.8 694.0 482.0 694.0 506.0M708.0 467.0 710.7 465.7 711.9 465.1 714.0 465.0M695.0 499.0 697.1 497.8 698.1 496.6 699.6 495.2 700.5 494.6 702.0 493.0 704.3 494.1 705.7 494.5 708.4 494.6 710.0 495.0 710.9 493.3 711.4 490.8 712.7 489.0 713.3 488.1 715.0 486.0 717.0 485.2 717.9 484.3 720.0 483.0M708.0 468.0 709.3 469.9 709.3 471.5 710.4 472.8 710.9 475.4 712.5 477.2 712.7 477.9 714.0 480.0 715.5 480.1 716.7 481.6 718.5 482.9 720.0 483.0M714.0 465.0 715.7 464.2 717.3 463.4 718.6 461.3 721.1 461.4 722.0 460.0 723.4 460.1 725.6 461.6 728.0 462.0 727.4 463.3 728.0 465.3 727.6 467.8 727.6 469.3 727.6 471.6 728.0 474.0 727.2 475.9 726.8 477.7 725.8 480.5 726.0 482.0 724.4 482.3 721.3 482.3 720.0 483.0M720.0 483.0 722.3 483.3 722.9 484.1 725.0 484.0 725.8 485.2 725.4 487.7 725.0 489.1 726.0 491.5 726.0 493.0 726.9 494.5 727.2 495.0 728.0 497.0M713.0 509.0 713.6 508.5 716.2 507.6 717.0 506.0 717.0 507.7 717.8 508.4 719.0 510.0 717.2 511.5 716.8 512.5 715.0 513.0 714.2 512.3 713.3 510.4 713.0 509.0M699.0 460.0 700.0 462.0 701.9 462.6 703.0 463.4 705.2 464.5 705.9 465.7 708.0 467.0M714.0 465.0 715.2 463.5 716.0 462.0 717.4 459.3 718.0 458.0 719.7 456.7 720.8 455.9 722.2 455.4 725.0 455.0 726.0 454.0M730.0 450.0 730.4 451.1 732.1 453.0 732.3 453.9 734.0 456.0 734.8 457.7 734.9 459.4 735.9 460.6 737.0 462.0 735.5 462.8 734.0 464.0 733.9 462.3 732.4 461.1 732.3 460.2 731.0 458.0 730.7 456.6 729.8 455.2 729.4 454.2 728.0 452.0M722.0 460.0 724.0 458.4 725.3 457.5 726.4 456.8 728.0 455.5 730.0 454.0M771.0 450.0 771.8 451.5 772.9 453.5 774.1 455.5 774.6 456.0 775.0 458.0 774.9 460.0 774.9 461.9 773.6 463.3 773.4 466.0 773.0 468.0 772.2 469.4 772.0 471.4 771.0 473.9 770.8 476.0 770.5 477.8 770.0 480.0 769.0 481.3 769.1 484.7 768.2 485.8 767.7 488.4 767.5 490.4 767.0 492.0 764.8 492.3 763.6 493.5 762.3 494.4 761.0 495.4 760.4 494.0 758.6 493.4 757.5 491.5 756.0 490.0 756.2 487.8 754.8 486.7 755.3 484.1 755.0 482.0 754.9 480.4 756.0 478.2 756.5 476.6 757.2 473.7 758.0 472.0 758.6 469.6 757.7 468.0 758.7 465.4 757.6 464.4 758.0 462.0 758.9 460.9 761.4 460.3 762.9 458.4 764.0 458.0 765.6 456.3 766.5 455.0 767.6 453.5 768.0 452.0 769.1 450.5 771.0 450.0M760.0 159.0 761.0 159.7 761.5 162.3 763.1 163.6 764.0 164.4 765.1 163.5 767.2 162.1 768.4 162.4 770.7 160.9 772.0 160.0 774.2 160.1 776.7 159.3 777.3 159.4 779.5 158.0 782.0 158.0 783.5 157.8 786.1 157.5 788.0 156.9 790.3 157.3 792.0 157.0 793.7 157.3 796.7 157.1 798.7 155.6 800.0 156.0 798.5 154.9 797.0 154.4 796.0 153.0 798.6 152.1 800.0 153.0 802.0 152.0 804.6 152.7 805.4 153.4 808.0 154.7 810.0 155.0 811.5 154.7 814.7 154.3 816.2 154.4 818.0 155.0 819.7 156.2 821.3 157.3 822.0 159.0 821.6 157.0 819.3 155.2 818.4 154.0 818.7 152.4 817.0 151.0 818.6 148.8 819.5 148.1 820.1 146.6 822.0 145.0 823.7 144.0 826.0 143.8 826.7 142.2 829.0 142.0 830.0 143.0 832.5 145.4 834.0 146.0 834.0 148.3 831.9 149.9 832.1 151.2 831.0 153.0 833.4 154.1 833.8 154.6 836.0 156.0 834.8 157.8 834.9 159.9 834.0 161.0 831.9 161.3 832.0 162.6 830.0 164.0 827.6 164.9 825.4 165.1 824.0 165.0 826.3 165.9 827.5 165.9 829.0 167.4 830.7 166.5 832.4 165.3 832.9 163.8 835.2 162.5 835.9 161.7 838.0 161.0 840.4 160.9 841.8 161.4 844.1 160.2 846.0 160.4 846.1 159.5 845.8 157.4 846.0 156.0 844.1 156.4 842.2 154.9 840.0 155.0 839.1 153.1 838.0 152.0 837.0 150.0 837.3 148.3 838.7 146.8 840.0 145.0 842.5 144.7 844.2 144.2 845.6 144.3 848.0 144.0 850.0 144.3 852.4 145.5 853.8 145.9 856.0 147.0 858.0 149.1 859.6 149.6 860.4 151.4 859.0 149.8 858.1 148.3 858.0 146.0 856.8 144.5 854.9 143.8 853.0 142.0 852.0 141.0 850.4 140.6 848.1 139.1 846.0 139.0M778.0 143.0 778.6 144.1 779.3 146.2 781.1 148.1 782.0 149.0 784.1 149.9 786.0 149.5 787.7 149.7 790.0 150.0 791.3 148.3 790.6 146.4 792.0 145.0 790.0 144.2 789.0 143.0 788.1 142.4 786.0 141.0 783.4 140.0 782.3 140.5 780.0 140.0M918.0 142.4 920.2 142.1 921.3 141.6 924.5 141.5 926.0 141.0 927.3 140.2 930.6 140.7 931.5 140.7 934.6 140.7 936.0 140.0 938.2 140.6 939.4 140.3 942.5 140.3 943.5 141.2 946.3 140.1 948.0 141.0 949.3 141.3 952.7 141.5 954.6 140.9 956.1 141.2 957.7 141.3 960.0 142.0 961.9 141.7 964.2 142.9 966.6 143.4 967.4 143.9 970.1 144.3 972.0 144.0 973.7 144.3 975.6 145.3 977.7 146.8 979.3 147.6 980.1 148.7 982.0 149.4 984.3 148.9 985.7 148.3 988.3 147.6 989.5 147.5 992.0 147.0 994.2 146.6 995.7 148.2 997.7 148.2 1000.0 148.0 1001.7 146.6 1004.0 147.1 1006.4 145.1 1008.0 145.0 1010.3 144.9 1012.0 144.7 1014.0 143.8 1016.0 144.0 1018.3 144.0 1019.7 145.7 1022.1 145.8 1024.0 146.4 1026.3 145.9 1027.8 145.5 1030.0 145.0M972.0 144.0 972.8 143.0 974.3 143.2 977.1 142.0 978.0 141.0 979.5 141.8 981.7 142.0 984.2 141.9 986.0 142.0 988.4 141.2 990.5 141.1 992.4 141.0 994.0 140.0M765.0 222.0 766.4 220.9 768.3 219.4 770.8 219.3 772.0 218.0 774.0 218.3 776.6 217.8 777.8 218.9 780.1 218.8 782.0 219.0 783.0 217.6 784.9 216.8 786.0 216.0 788.3 217.4 789.9 217.3 790.8 217.8 792.2 218.6 794.0 220.0 796.0 220.4 798.4 219.3 799.7 219.9 802.0 219.0 801.0 217.5 801.9 214.4 801.0 213.0 802.7 211.9 802.8 210.2 804.0 209.0 806.2 208.6 808.6 208.8 809.7 207.1 812.4 207.6 814.0 207.0 816.2 206.0 817.4 206.8 819.8 205.8 822.7 204.9 824.0 205.0 826.2 204.9 828.1 206.6 829.5 207.2 832.7 207.9 834.0 208.0 836.4 208.9 838.3 208.5 840.5 209.1 842.2 209.1 844.0 209.0 845.2 210.1 847.1 212.2 849.0 213.0 850.2 214.4 851.2 215.8 850.6 218.0 852.0 220.0 853.4 221.1 855.8 220.6 858.5 221.2 860.2 221.5 862.0 222.0 863.5 223.5 864.9 223.6 866.8 223.9 867.9 225.2 870.0 226.0M765.0 222.0 765.7 223.6 764.8 226.2 765.2 227.8 766.0 229.0 766.2 230.2 767.7 231.0M863.0 231.0 864.0 229.6 866.0 229.0 867.2 228.4 868.6 226.9 870.0 226.0M870.0 226.0 871.9 225.2 873.7 225.1 875.5 223.0 878.1 222.6 880.0 222.0 882.3 221.5 884.3 222.2 886.6 222.3 887.9 222.5 890.0 223.0 892.1 223.2 894.3 223.9 896.3 224.2 898.0 225.0 898.7 223.3 899.8 221.7 900.1 219.1 901.0 218.0 902.2 217.7 904.0 218.0 906.5 218.5 908.0 219.0 910.6 219.4 911.6 220.1 913.5 221.7 916.1 221.8 918.0 223.0 920.5 224.1 921.9 224.8 924.2 225.3 925.4 226.0 928.0 227.0 930.7 226.6 932.2 226.0 934.4 226.9 935.8 226.0 938.0 226.0 940.0 225.4 941.6 225.0 944.3 225.4 946.7 225.9 948.0 225.0 949.9 227.3 951.2 227.6 952.0 230.0 949.4 231.4 948.6 231.5 946.0 232.0 948.0 232.4 949.6 232.5 951.6 233.2 952.8 234.6 955.3 235.1 957.0 235.0 955.0 236.1 953.3 237.5 952.0 238.0 949.6 239.0 948.1 239.2 945.4 240.2 944.0 241.0 942.0 242.0 939.6 241.5 937.7 243.0 936.0 243.0 934.6 244.7 933.3 245.4 933.3 247.5 932.0 249.0 929.4 249.7 928.7 250.3 926.1 251.1 924.0 252.0 922.3 252.0 921.2 253.5 919.0 254.1M874.4 231.0 873.1 229.4 871.8 229.1 871.6 227.1 870.0 226.0M948.0 225.0 950.2 224.4 951.6 223.0 954.0 223.0 955.2 220.9 955.7 219.1 955.7 217.7 957.4 216.8 958.0 215.0 960.2 214.5 961.0 212.8 963.2 212.7 964.0 212.0 966.5 212.1 968.5 213.5 969.6 214.1 972.0 215.0 972.2 216.7 973.2 218.5 973.9 220.1 975.4 221.7 976.0 223.0 978.0 224.4 978.9 226.2 980.0 228.0 982.1 229.5 983.4 230.1 984.1 231.6 986.0 232.0 988.7 232.2 989.8 231.5 992.3 231.0 994.0 230.0 994.0 231.7 992.8 233.9 992.7 235.3 992.0 237.0 991.1 237.5 988.3 239.4 986.9 241.3 986.0 242.0 985.1 244.3 985.1 245.0 985.6 247.5 985.0 249.0 986.6 248.6 988.6 248.7 990.3 247.6 992.0 247.0 993.3 245.5 995.0 243.8 996.3 243.6 997.7 241.7 998.4 239.7 1000.0 239.0 1000.7 237.7 1003.2 236.9 1003.5 235.4 1005.8 233.6 1007.2 231.9 1008.0 231.0 1008.4 229.0 1009.7 226.9 1010.0 225.0M1030.0 192.0 1027.7 192.4 1025.8 191.5 1023.6 191.4 1022.3 191.0 1020.0 191.0 1018.2 191.7 1015.3 193.0 1014.0 193.0 1012.1 194.3 1011.5 195.0 1008.5 196.2 1007.1 198.3 1006.0 199.0 1004.5 199.8 1002.7 202.0 1001.0 203.2 1000.0 205.0 998.9 205.9 996.3 207.1 995.0 208.0 996.2 208.6 998.7 208.6 1000.3 209.5 1002.0 210.4 1002.7 208.8 1003.3 207.0 1003.0 205.0 1004.0 205.8 1006.3 208.0 1006.8 208.6 1009.0 210.0 1010.0 210.6 1012.2 211.4 1013.0 212.0 1012.9 214.1 1011.7 215.7 1011.3 217.2 1011.0 219.0 1010.6 221.3 1009.7 223.5 1009.3 224.7 1009.9 227.7 1009.0 229.0 1007.8 231.2 1006.3 232.7 1005.6 232.8 1005.0 235.0 1003.9 236.0 1002.4 237.3 999.9 239.3 999.0 241.0 996.9 242.5 995.8 244.4 994.5 246.2 993.0 247.0 991.8 247.8 990.3 250.3 988.0 251.0 986.6 252.5 985.0 254.0M1014.0 210.0 1014.1 211.5 1014.8 213.1 1016.0 215.1 1016.8 217.3 1017.0 219.0 1017.9 220.2 1018.3 222.6 1018.4 224.0 1018.9 226.1 1019.0 228.0 1017.8 228.6 1016.0 229.0 1015.7 230.5 1016.8 231.9 1016.8 234.5 1017.1 235.9 1017.0 238.0 1015.0 238.0 1013.0 238.0 1013.6 235.6 1013.4 234.0 1013.7 232.2 1013.4 230.4 1014.0 229.0 1014.3 226.8 1013.9 225.4 1012.7 223.1 1012.0 221.6 1012.4 219.0 1012.9 216.6 1013.1 215.4 1013.6 213.3 1014.3 212.0 1014.0 210.0M985.0 249.0 983.1 251.0 983.1 251.7 981.6 254.0 980.0 255.0 979.0 255.2 977.3 256.2 975.7 257.7 973.5 258.8 972.0 259.0 973.0 261.7 973.7 263.1 973.9 265.3 974.0 267.0 974.9 268.7 976.0 269.9 977.0 272.0 977.4 274.3 979.0 275.8 979.5 277.3 980.0 279.0 979.4 280.6 977.9 281.6 978.0 283.0 977.2 282.6 975.0 283.0 974.3 280.4 973.3 279.5 973.0 277.0 972.0 275.4 972.8 273.6 972.0 271.0 970.3 270.3 969.1 268.3 968.0 267.0 969.3 265.4 969.6 263.1 970.0 262.0 967.9 260.6 966.7 260.5 966.0 259.0 963.6 259.0 962.3 257.2 960.0 257.0 958.6 258.1 956.7 259.0 955.0 261.0 953.8 262.8 951.8 264.0 950.0 265.0 951.4 265.8 953.1 268.0 955.0 269.0 956.8 267.8 957.9 267.6 960.0 267.0 958.6 268.0 958.6 269.8 958.0 272.0 960.6 270.9 962.0 271.0 960.8 272.6 958.5 273.5 957.9 274.8 955.4 276.5 954.0 277.0 954.4 279.2 955.2 279.9 956.0 281.7 957.0 283.0 958.3 284.8 958.0 286.7 959.6 287.5 960.0 289.0M985.0 249.0 984.1 249.6 982.3 251.8 981.2 252.9 978.7 253.8 978.0 255.0 976.2 256.2 974.8 256.9 973.6 258.1 972.0 259.0M973.0 267.0 975.3 267.3 976.0 267.9 978.0 269.0M1014.0 243.0 1014.9 244.5 1017.6 244.4 1018.3 246.6 1020.0 247.0 1022.5 247.2 1024.7 245.7 1025.3 245.1 1028.0 245.0 1029.0 246.0 1030.0 248.4 1027.6 249.0 1026.3 249.2 1023.4 250.1 1022.0 251.0 1019.4 250.1 1017.4 250.8 1016.0 250.0 1015.6 250.6 1014.5 253.2 1013.0 254.0 1013.4 251.9 1013.8 249.7 1012.8 249.2 1013.2 247.3 1014.2 244.2 1014.0 243.0M1015.0 256.0 1013.9 258.0 1013.5 259.7 1013.8 260.8 1013.0 263.0 1012.0 264.1 1011.6 266.2 1010.3 267.7 1009.0 269.0 1006.8 270.8 1006.4 271.5 1004.6 272.7 1003.0 274.0 1001.6 274.8 999.2 275.5 997.3 275.5 996.0 277.0 994.0 278.1 992.3 277.6 990.0 278.6 988.0 279.0 986.6 279.7 985.0 280.8 984.1 281.3 982.0 282.0 983.8 283.3 984.1 283.6 986.0 285.0 987.5 284.3 989.5 283.7 992.0 283.9 993.0 283.0 994.6 283.0 997.1 282.0 998.4 282.9 1000.0 282.0 1001.3 281.8 1003.5 280.2 1004.0 280.2 1006.0 279.0 1007.5 277.4 1009.3 276.7 1011.0 275.0 1012.3 274.1 1012.9 271.5 1013.1 269.8 1014.0 269.0 1014.1 266.8 1014.5 265.0 1014.9 263.2 1016.0 261.0 1015.5 259.0 1015.6 257.4 1015.0 256.0M981.0 282.0 981.0 284.5 982.7 286.6 983.0 288.0 984.2 288.1 986.0 289.0M832.8 329.0 833.4 330.2 834.1 332.7 833.8 333.6 834.0 336.0 834.1 337.9 835.6 339.5 835.4 341.4 836.4 344.4 836.6 346.4 836.1 347.6 837.0 350.0 836.9 352.1 837.5 353.5 838.2 356.6 839.7 357.7 840.6 359.5 839.9 361.8 841.0 364.0 842.1 365.2 842.8 367.7 843.4 369.3 843.0 370.7 844.7 373.2 845.0 375.0 846.6 372.8 847.2 371.1 849.3 370.1 850.0 368.0 849.9 366.3 850.1 363.9 850.8 362.4 851.9 360.3 852.0 358.0 851.3 355.3 851.7 354.3 850.5 352.5 851.0 350.0 852.3 348.3 852.5 347.2 853.9 345.7 854.0 344.0 855.4 343.1 856.7 340.6 858.1 339.9 859.1 338.5 860.2 337.1 862.0 336.0 863.6 335.2 864.3 333.7 865.0 331.8 867.2 330.8 868.0 329.0 868.0 329.0M954.0 311.0 954.8 309.0 956.0 308.0 957.5 306.6 957.8 304.6 957.8 303.3 959.1 302.2 960.0 300.0 960.0 298.4 959.6 296.4 958.7 294.7 959.0 292.0 959.8 290.1 959.9 287.4 961.0 286.0 960.3 284.8 959.2 282.6 958.0 281.9 957.0 280.0 956.5 278.6 955.1 276.4 955.0 274.0 955.3 272.9 957.1 270.7 958.0 270.0M921.5 419.0 922.0 420.0M909.4 419.0 910.0 420.0M960.0 419.0 960.0 419.0 960.0 419.0M999.0 408.0 1000.4 409.3 1002.0 410.0 1004.6 409.9 1006.0 411.4 1007.4 412.1 1010.0 412.0 1012.3 412.6 1012.8 413.1 1014.4 414.3 1016.7 415.9 1018.0 416.0 1019.4 418.0 1020.6 418.9 1022.0 420.0M997.3 419.0 998.0 420.0M851.0 368.0 851.6 368.5 853.0 368.8 855.0 370.0 856.0 371.4 855.7 374.0 856.5 375.3 857.0 378.0 855.4 379.9 854.9 380.7 854.0 383.0 853.0 381.1 852.7 379.0 851.0 378.0 850.5 375.4 851.1 374.7 851.4 371.4 851.1 369.8 851.0 368.0M973.0 270.0 974.0 272.3 973.7 273.6 973.7 276.0 974.0 278.0 975.5 278.4 976.7 278.5 979.0 279.0 980.0 277.1 979.5 275.9 980.2 274.1 980.0 272.0M982.0 282.0 983.4 281.5 984.7 280.6 986.1 279.1 987.9 278.6 990.0 278.0 992.4 276.5 994.6 275.8 996.7 276.3 998.2 275.3 1000.0 274.0 1002.7 274.3 1004.5 274.1 1006.4 275.4 1008.4 275.1 1010.0 276.0 1010.0 274.0 1011.5 272.3 1012.0 270.0M990.0 280.0 991.5 279.7 994.7 278.8 996.5 279.5 998.3 278.3 1000.0 278.0 1001.9 278.6 1003.4 278.7 1006.0 280.0 1004.1 280.5 1003.4 281.8 1001.8 283.1 1000.2 284.6 998.0 285.0 996.3 284.7 993.6 284.6 991.7 284.7 990.0 284.0 989.3 282.2 990.0 280.0M982.0 282.0 982.4 283.9 983.4 286.7 984.0 288.0 984.5 289.5 984.2 292.2 983.3 293.3 983.0 295.0 983.9 293.8 985.6 292.1 987.0 290.0 988.4 288.7 988.8 287.1 988.7 285.4 990.0 284.0M940.0 482.0 940.8 480.5 943.7 479.8 944.0 478.9 946.0 478.0 947.3 477.4 949.6 476.1 952.2 476.4 954.0 475.0 954.8 474.6 957.1 473.5 958.4 472.0 960.0 472.0 960.4 470.0 961.1 468.7 962.0 466.0 963.3 465.0 965.5 463.4 966.5 461.5 968.0 460.0 969.5 457.9 969.6 456.3 971.0 455.4 972.0 454.0 974.7 455.0 975.9 454.7 978.0 455.0 978.7 456.4 980.7 456.5 982.0 458.0 983.1 455.3 982.5 454.0 984.2 451.5 984.0 450.0 984.0 448.8 984.4 447.3 985.0 445.0 985.9 444.3 988.0 444.9 990.0 444.0 990.9 445.0 993.6 446.2 995.0 445.6 996.0 447.0 997.6 446.9 998.8 447.3 1001.0 448.0 1000.7 450.1 999.1 451.7 999.0 454.0 999.3 456.1 1001.4 457.0 1002.7 459.2 1003.0 460.0 1003.8 461.1 1005.0 463.2 1006.9 464.5 1008.0 466.0 1009.7 465.4 1010.4 464.9 1012.0 464.0 1013.3 461.3 1013.3 459.5 1014.0 458.0 1014.6 455.9 1015.0 454.3 1015.4 452.1 1015.0 450.0 1015.4 449.0 1016.0 446.3 1015.2 445.4 1016.0 443.0 1016.1 445.4 1018.2 446.7 1018.9 448.4 1019.0 450.0 1020.2 451.7 1020.2 452.6 1021.8 454.7 1021.6 456.5 1023.0 458.0 1023.0 459.6 1024.4 462.2 1024.6 464.5 1024.5 465.9 1025.0 468.0 1026.1 469.4 1027.8 471.8 1028.3 473.1 1029.4 473.7 1031.0 476.0 1032.3 478.0 1032.7 479.9 1034.3 480.5 1035.4 482.9 1036.0 484.0 1036.7 486.2 1038.3 486.9 1039.4 488.8 1040.8 490.1 1042.0 492.0 1041.7 494.2 1043.1 496.3 1043.0 498.5 1042.9 499.4 1044.0 502.0 1043.1 504.1 1043.7 505.6 1043.5 507.3 1042.6 510.7 1043.7 511.4 1043.0 514.0 1042.4 516.0 1041.5 518.5 1040.8 520.7 1040.1 522.6 1039.0 524.0 1037.8 526.5 1037.5 528.6 1037.6 530.7 1037.0 531.8 1036.0 534.0 1034.5 535.9 1032.3 537.1 1031.6 538.8 1030.0 540.0 1027.8 540.8 1026.4 541.2 1024.0 542.0 1022.3 541.9 1019.8 540.7 1018.0 540.0 1016.0 539.8 1013.7 538.3 1012.0 538.0 1011.1 536.7 1010.0 535.7 1009.8 533.8 1009.0 532.0 1008.2 529.6 1007.5 528.8 1007.0 527.0 1005.4 526.1 1005.1 523.6 1004.0 522.0 1002.6 523.6 1002.4 526.2 1002.0 528.0 1000.8 526.3 1000.3 524.8 1000.0 523.0 998.8 521.5 997.0 520.0 995.6 519.4 992.9 518.7 991.7 518.1 990.0 517.0 988.7 516.4 986.5 515.9 984.0 516.0 982.2 515.8 980.5 516.9 977.9 517.5 976.0 518.0 974.1 518.1 972.8 519.2 970.1 519.2 969.0 520.0 968.0 521.0 965.4 522.8 964.0 524.0 961.8 524.9 960.7 523.9 957.6 524.3 956.0 525.0 954.4 525.4 953.3 527.1 950.9 526.5 950.0 528.0 947.8 527.4 946.1 527.2 945.0 527.0 944.5 525.7 945.0 524.4 944.0 522.0 944.5 520.2 944.8 518.2 946.0 516.0 946.1 514.6 944.5 511.5 945.1 510.3 944.0 508.0 943.8 505.4 943.0 503.3 942.6 502.4 941.3 499.3 941.0 498.0 940.8 496.7 940.2 493.8 939.2 492.5 939.0 490.0 940.0 487.8 939.1 486.7 939.6 483.9 940.0 482.0M1018.0 547.0 1019.7 547.7 1022.7 547.6 1024.0 548.0 1026.5 547.5 1027.9 547.8 1030.0 547.0 1030.2 548.9 1029.0 550.0M1018.0 547.0 1018.8 549.0 1019.0 550.0M918.0 426.0 920.6 427.4 922.0 427.3 923.3 428.3 926.0 429.0 927.8 428.9 930.7 429.9 932.6 430.1 933.8 431.8 936.0 432.0 938.3 432.7 940.0 432.2 942.5 433.6 944.0 433.7 946.0 434.0 948.5 434.5 950.0 435.0 952.4 435.9 954.0 436.0 951.8 436.9 949.8 437.2 948.0 437.4 945.8 437.5 944.7 436.9 941.8 435.7 939.9 435.6 938.0 435.0 935.3 434.5 934.6 433.1 932.6 433.3 930.7 432.9 928.0 432.0 926.3 431.9 923.9 430.4 922.5 431.1 920.0 430.0 919.7 428.2 918.7 427.4 918.0 426.0M911.0 419.0 912.2 420.4 913.7 422.5 915.4 423.9 917.2 424.1 918.0 426.0M919.4 419.0 920.0 420.0 921.1 421.8 921.5 424.1 922.0 426.0M906.4 419.0 908.0 420.4 909.1 422.1 910.0 424.0M958.0 437.0 960.4 436.5 962.0 436.0M965.0 435.6 967.2 435.7 969.0 434.4M971.0 433.6 972.7 432.1 975.0 432.0M964.0 442.0 966.2 441.2 967.4 440.9 969.4 439.4 971.1 438.6 972.0 438.0 973.8 437.6 974.8 436.1 976.3 435.1 978.0 434.4 976.4 436.3 974.3 437.9 973.9 438.7 972.0 440.0 970.5 440.4 968.9 442.1 966.6 442.2 965.0 443.0M955.9 419.0 956.0 420.0 956.6 421.0 958.5 422.9 959.0 424.0M963.8 419.0 964.0 420.0M999.0 407.5 1000.6 408.5 1001.9 408.4 1004.0 410.0 1005.4 410.9 1006.7 411.7 1008.5 412.0 1010.8 413.0 1012.0 414.0 1014.0 415.2 1015.0 414.9 1017.3 416.5 1018.5 417.5 1020.0 418.0 1021.7 419.4 1022.5 420.3 1025.0 420.3 1027.0 421.8 1028.0 422.0 1029.6 422.3 1031.2 423.9 1032.6 425.5 1034.0 426.0 1034.8 427.8 1036.4 428.3 1038.0 430.0 1038.8 430.7 1040.7 432.5 1043.2 433.3 1044.0 435.0 1042.2 436.1 1041.2 437.3 1039.8 438.2 1038.0 440.0 1035.8 439.4 1035.3 438.0 1032.8 438.0 1032.0 437.0 1029.8 436.4 1029.3 434.0 1027.4 432.6 1026.0 432.0 1024.0 431.1 1023.9 431.3 1022.0 430.0 1020.9 431.5 1019.1 432.5 1017.7 433.7 1016.0 435.0 1013.8 436.2 1011.7 436.2 1010.0 437.0 1008.8 436.7 1006.8 434.9 1005.4 433.6 1004.0 433.0 1005.1 431.8 1006.2 429.6 1008.0 428.0 1006.2 427.1 1005.4 425.4 1003.5 424.5 1002.0 424.0 1000.9 422.6 998.9 420.3 998.0 419.0 998.0 419.0M1011.0 414.0 1011.0 436.0M1034.0 420.0 1035.7 420.4 1038.6 421.9 1040.0 422.0 1041.4 420.2 1041.9 418.2 1043.0 417.0 1041.4 416.2 1040.0 414.0M1048.0 424.0 1048.7 425.2 1050.2 427.2 1052.0 428.0M1055.0 430.0 1056.0 431.2 1056.8 432.8 1058.8 434.2 1060.0 435.0M1062.0 437.0 1063.7 438.7 1064.3 439.3 1066.0 441.0M1078.0 454.0 1078.8 455.3 1080.0 458.3 1080.0 460.0M1082.0 464.0 1082.7 465.8 1082.7 468.1 1084.0 470.0M1072.0 475.0 1073.7 475.8 1074.1 477.9 1076.0 479.0 1077.6 480.4 1079.2 481.7 1081.0 482.0M988.0 424.0 990.6 423.2 992.0 423.0 993.6 424.6 995.0 426.0 993.6 427.1 992.6 427.8 991.0 428.0 989.6 426.7 989.1 425.5 988.0 424.0M1030.0 145.0 1032.0 145.0 1033.3 146.2 1035.9 146.0 1038.5 147.3 1040.0 148.0 1042.4 148.8 1044.2 149.4 1045.3 148.9 1047.5 149.8 1050.0 150.0 1051.6 149.7 1053.5 150.3 1056.1 151.1 1057.9 150.9 1060.0 152.0 1061.4 153.0 1062.1 154.0 1064.0 156.0 1065.5 155.6 1067.5 155.4 1069.5 155.6 1072.0 155.0 1074.6 154.5 1075.4 155.2 1077.4 154.5 1080.0 154.0 1081.9 154.8 1083.6 155.2 1084.8 157.2 1086.0 157.4 1088.1 157.1 1088.9 155.7 1091.0 154.7 1092.0 154.0 1093.6 153.3 1095.6 153.5 1098.6 153.7 1100.0 154.0 1101.8 155.2 1104.3 154.9 1105.4 155.3 1108.0 156.0 1109.6 157.0 1111.6 157.4 1113.6 157.0M1034.0 190.0 1035.2 190.1 1037.6 190.9 1038.9 192.4 1040.0 193.0 1041.7 192.8 1043.9 192.4 1046.0 191.0 1047.1 190.2 1048.6 187.8 1049.3 186.8 1050.0 185.0 1051.7 183.5 1053.3 183.9 1054.0 182.1 1056.0 182.0 1057.4 182.7 1059.4 183.9 1062.0 184.0 1063.4 184.0 1065.4 182.4 1066.0 181.6 1068.0 181.0 1070.2 181.2 1072.6 180.1 1074.0 180.0 1071.7 181.4 1071.1 182.6 1069.7 184.1 1067.8 185.3 1066.0 186.0 1063.9 187.9 1063.2 187.9 1061.0 190.0 1060.0 191.0 1058.2 193.2 1056.7 194.0 1055.5 196.2 1054.0 197.0 1052.7 199.1 1052.3 200.1 1051.7 202.1 1050.0 203.0 1050.1 205.1 1048.8 206.6 1049.5 208.4 1049.0 211.0 1049.7 212.8 1049.8 215.5 1051.0 217.4 1051.0 219.0 1052.4 220.3 1054.0 221.4 1055.7 220.7 1056.2 218.1 1057.6 216.7 1058.0 216.0 1058.4 214.5 1059.5 212.9 1061.3 210.2 1062.0 209.0 1063.6 208.2 1064.2 206.7 1065.5 204.5 1066.0 203.0 1067.2 201.7 1067.6 198.4 1068.0 197.0 1068.5 195.6 1069.1 193.2 1070.0 192.0 1071.4 190.5 1073.0 189.4 1074.8 188.6 1076.0 188.0 1078.7 187.2 1080.2 187.7 1081.5 187.4 1084.0 187.0 1086.1 186.4 1087.5 185.5 1090.5 184.9 1092.0 184.0 1093.6 183.0 1096.6 181.8 1098.0 181.8 1100.0 181.0 1101.9 179.8 1103.4 180.5 1105.9 179.2 1108.0 179.0 1109.3 177.3 1110.0 177.5 1112.0 176.0 1111.1 174.2 1109.1 172.7 1108.0 172.0 1105.7 171.5 1104.0 171.0 1106.4 171.7 1108.5 173.1 1110.0 173.0 1111.9 171.3 1113.6 171.0M1061.0 184.0 1062.2 183.8 1063.9 183.6 1065.6 181.8 1068.0 182.0 1070.4 181.5 1071.4 181.5 1073.0 181.0M1075.0 204.6 1075.9 204.6 1078.0 205.0 1079.1 206.4 1081.1 207.3 1082.0 208.0 1080.0 208.1 1079.0 208.4 1078.3 206.6 1076.1 206.0 1075.0 204.6M1019.0 248.0 1021.1 246.6 1022.0 246.6 1023.0 246.0M1025.0 244.6 1026.7 244.2 1027.7 243.0 1030.0 242.0M1032.0 240.6 1033.1 240.3 1035.0 239.1 1036.0 238.6M748.0 230.0 746.6 231.7 746.5 232.8 745.3 234.0 744.0 236.0 742.0 236.7 741.0 237.3M741.0 243.2 742.5 244.4 745.2 244.7 746.7 246.0 748.9 246.4 750.7 247.5 752.4 248.6 753.3 248.7 755.4 249.1 756.6 250.1 758.8 250.5 760.0 251.3 762.6 251.8 764.0 252.6 766.0 254.0M741.0 255.2 742.3 254.8 743.8 255.1 746.4 254.7 748.0 254.7 750.3 254.7 752.0 254.0 753.3 253.9 755.0 255.2 757.3 254.7 758.6 255.5 760.7 256.3 762.7 256.7 764.8 257.8 766.5 258.7 767.3 258.7 768.7 260.3 770.8 260.1 772.0 261.3M750.7 250.0 750.6 251.6 751.6 252.5 751.3 254.7M757.3 254.7 758.4 256.7 758.4 258.1 758.7 260.0 757.8 261.5 757.3 263.3M758.7 260.0 761.0 259.5 763.0 259.7 764.7 258.7 765.4 257.9 767.3 258.7M760.0 251.3 761.3 252.7 761.8 254.7 762.0 256.7M757.3 263.3 756.7 264.4 756.8 267.0 756.7 268.7 754.0 268.3 752.3 270.0 751.0 269.5 748.5 270.1 746.7 270.7 745.1 270.9 742.7 271.8 741.0 272.4M757.3 263.3 757.9 264.9 759.7 266.7 759.7 268.1 761.3 270.0 761.6 271.6 761.5 274.1 761.6 275.5 762.0 278.0 763.2 279.0 763.9 280.7 764.1 283.1 764.7 284.7 765.6 286.6 767.5 288.0 768.0 290.0 767.3 291.3 768.6 293.7 768.0 295.3 767.3 296.7M750.7 270.7 750.7 272.3 749.7 274.6 749.8 276.8 749.3 278.0 747.8 279.1 747.6 281.3 746.3 282.4 745.3 283.3 743.4 284.5 742.4 285.6 741.0 285.9 740.0 287.3M740.0 288.7 741.2 288.3 743.4 288.0 744.7 286.7 746.0 287.2 748.1 288.6 749.5 290.2 750.7 291.3 751.9 292.0 752.9 294.4 754.6 295.9 756.5 296.7 757.3 298.0 759.7 297.6 760.5 298.7 761.7 299.6 764.0 299.3 765.1 298.1 767.3 296.7M764.0 299.3 765.0 300.5 766.7 302.0 767.9 301.7 769.3 302.0M768.7 230.0 768.6 232.0 769.7 232.9 770.0 235.3 769.6 236.3 767.4 238.1 766.7 240.0 765.6 241.3 765.5 242.1 764.0 244.0 764.8 245.7 765.0 246.9 766.0 248.7 766.8 250.8 768.2 251.7 768.7 253.3 769.6 254.7 772.3 256.3 773.3 258.0 772.5 259.5 771.3 260.9 771.3 262.0 771.6 263.0 771.2 265.6 771.3 266.7 771.9 268.0 772.9 269.4 774.0 270.7 775.2 271.1 777.3 272.3 778.0 272.7 780.1 271.8 780.6 271.1 782.0 270.7 783.6 268.8 784.0 267.3 783.8 265.1 783.2 263.4 782.7 262.0 782.8 260.0 782.5 258.5 781.3 256.7 780.7 254.7 781.1 253.0 780.0 250.7 779.2 249.4 777.5 247.5 776.0 246.7 776.3 245.3 775.8 243.3 775.3 242.0 777.3 241.4 778.2 241.4 780.0 240.0 781.3 238.9 782.3 237.6 782.7 236.0 780.5 236.0 778.7 234.7 777.1 235.1 774.2 235.0 771.5 235.8 770.0 235.3M780.0 250.7 782.5 251.5 784.0 252.0 784.9 254.1 786.0 255.3 783.6 256.5 782.7 258.0 781.3 256.7M784.0 268.7 785.4 268.2 787.3 267.5 789.3 266.7 791.7 267.0 792.3 266.8 794.7 268.0 796.7 269.1 797.7 269.5 799.3 271.3 799.8 271.9 802.1 273.3 802.7 275.3M786.0 255.3 787.3 254.2 789.2 252.7 790.7 252.0 792.4 251.5 794.5 250.1 795.3 250.0 796.7 250.1 798.7 251.3 799.7 252.5 800.6 254.9 802.7 256.0 803.7 257.7 805.8 259.1 806.7 260.0 807.3 261.3 809.9 262.5 810.8 263.4 812.0 264.7 814.0 265.6 814.9 266.4 816.7 267.3 818.3 267.9 820.0 269.3M802.7 275.3 804.7 275.4 806.5 273.7 808.0 274.0 809.4 273.1 810.6 271.3 812.7 270.0 814.8 269.9 816.1 268.9 818.5 269.0 820.0 269.3M788.7 252.7 789.0 250.7 789.3 248.1 789.8 247.0 789.8 244.2 789.3 242.7 791.4 241.6 793.2 241.2 794.7 240.0 796.3 241.3 798.1 241.3 800.0 242.0 801.7 242.6 803.3 244.0 804.0 245.3 806.4 244.6 807.0 245.0 809.3 244.7 810.7 245.2 812.4 246.3 814.7 246.7 815.9 248.3 815.9 248.7 817.3 250.7 818.1 252.0 818.7 254.7 820.8 254.7 822.9 255.1 824.0 254.7 825.6 254.0 826.7 252.1 828.0 251.3 829.1 251.2 831.8 250.6 833.3 250.0 835.4 249.6 838.0 249.1 838.8 249.7 841.3 248.7 843.6 249.3 845.8 248.6 846.4 248.7 848.8 248.5 850.7 248.7 852.0 247.0 853.1 245.6 853.3 244.7 852.3 243.8 852.0 242.0 852.9 241.3 854.3 239.9 856.0 238.6 857.3 238.0 858.7 237.3 859.7 234.8 860.0 234.0 861.1 233.0 863.9 232.3 865.3 231.3 867.4 231.4 868.0 230.0M820.0 269.3 819.8 267.0 819.0 264.7 818.7 263.3 819.8 262.6 821.1 260.6 822.7 260.0 824.1 259.5 825.6 257.2 826.7 256.7 825.2 255.3 824.0 254.7M826.7 256.7 828.8 256.2 829.9 256.6 831.4 255.6 833.3 255.3 835.8 254.2 836.9 253.8 838.7 252.7 840.4 252.5 842.5 252.5 844.8 252.0 846.7 251.3 848.1 250.7 849.2 249.0 850.7 248.7M822.7 260.0 824.2 260.2 825.5 261.3 828.0 261.3 829.8 261.1 831.9 260.2 833.3 260.7 834.5 261.4 836.2 262.1 838.7 262.0 838.3 264.7 838.0 266.0 838.8 267.6 838.2 269.5 838.7 271.3M828.0 261.3 827.7 263.3 826.7 265.3 828.0 267.7 828.7 268.7M833.3 255.3 834.4 257.0 834.7 258.7 833.7 260.0 832.0 261.3M838.7 262.0 840.5 260.9 842.7 260.7 843.8 259.1 845.3 258.0 846.5 257.2 849.5 255.8 850.7 255.3 852.0 253.2 852.8 251.5 853.3 250.0M873.3 230.0 874.8 231.7 875.3 233.2 877.4 233.6 878.7 235.3 879.3 237.2 880.8 238.4 881.3 240.7 882.7 240.9 885.5 241.9 887.7 243.0 889.3 243.3 890.5 245.1 891.5 246.8 893.6 247.9 894.7 250.0 896.9 249.8 899.4 250.7 901.3 251.3 902.7 251.3 904.1 252.1 906.6 252.0 908.6 252.9 910.4 252.5 912.0 253.3 914.5 254.4 915.5 254.9 917.3 254.7 919.4 253.8 920.0 253.3M802.7 275.3 801.5 276.7 801.3 278.4 800.7 280.7 800.1 282.7 799.6 284.2 800.0 286.0 800.0 287.3 800.5 289.1 801.3 290.2 802.7 292.7 802.9 294.5 802.0 296.7M802.0 296.7 803.7 297.8 805.8 297.6 808.0 298.0 809.1 297.2 811.9 297.2 813.5 296.6 814.7 295.3 815.2 293.1 815.9 292.4 817.3 290.7 819.2 289.8 821.2 288.9 822.7 288.7 823.7 286.8 823.9 285.5 825.3 283.3 825.7 282.5 827.5 280.6 828.0 279.3 828.2 277.1 827.9 276.1 828.7 274.0 828.5 272.3 828.5 270.1 828.7 268.7 829.7 269.5 831.7 269.0 833.3 270.0 835.7 269.9 836.5 270.4 838.7 271.3M820.0 269.3 821.9 270.2 822.9 270.9 825.3 270.7 827.3 270.2 828.7 268.7M802.0 296.7 803.0 298.3 803.6 299.9 805.3 302.0 806.8 303.5 807.7 306.1 808.0 307.3 807.3 307.7 805.2 309.6 804.0 310.0 803.1 311.3 802.7 313.3M838.7 271.3 839.3 272.9 841.4 274.0 842.7 276.0 840.6 277.2 838.8 278.4 838.2 278.9 836.0 280.0 836.1 281.8 837.3 283.3 837.7 284.1 839.0 286.1 839.3 287.3 838.0 288.3 837.7 290.6 836.1 291.5 835.3 292.7 834.1 294.3 833.8 295.7 833.0 297.7 832.0 299.3 829.6 299.6 828.5 300.5 827.1 302.0 825.3 302.7 825.1 304.8 824.6 306.2 824.0 307.3 825.1 309.2 827.3 310.0 828.2 311.9 828.3 313.6 828.0 315.3 826.1 315.5 824.4 317.0 822.7 317.3M842.7 276.0 844.8 276.3 846.0 276.0 847.5 274.3 849.3 274.7 850.6 275.4 852.4 275.6 853.3 276.7 851.7 278.6 851.1 280.3 850.7 281.3 849.9 282.3 848.9 284.9 848.0 286.0 847.6 288.7 848.0 290.0 848.7 290.8 850.8 292.9 852.2 294.6 853.3 295.3M853.3 295.3 854.9 294.0 857.3 294.0 859.1 294.8 860.5 295.8 862.9 296.7 864.0 298.0 865.6 299.1 866.3 300.6 867.6 300.7 869.3 302.0 870.9 303.0 873.3 303.3 873.6 305.1 873.3 307.3 871.1 307.3 869.8 307.1 868.6 306.1 866.7 306.7 864.3 306.3 863.9 304.4 861.3 304.1 860.0 303.3 858.7 301.9 857.1 300.5 854.7 300.0 853.9 298.3 852.0 298.0 852.8 297.4 853.3 295.3M873.3 303.3 875.7 303.8 877.1 303.7 879.9 302.5 881.3 302.7 883.5 302.4 884.5 300.7 886.7 300.0 888.9 299.4 890.8 298.6 892.0 298.0 893.7 298.4 895.2 300.3 897.3 300.7 897.6 302.6 899.1 303.4 899.3 304.7 898.8 305.7 898.3 308.7 898.7 310.0 898.9 312.5 897.4 314.2 897.3 315.3 898.4 316.5 900.3 318.5 901.1 319.0 902.0 320.7 902.5 322.0 903.9 323.8 905.3 326.0 906.4 327.2 907.3 329.0M873.3 307.3 873.4 309.7 874.0 310.1 874.7 312.7 875.3 313.6 876.6 314.5 878.7 315.3 879.3 314.0 881.3 312.7 882.8 314.1 884.0 315.3 883.1 317.6 883.8 319.4 882.7 320.7 882.0 322.3 879.8 322.5 878.7 323.3 877.2 325.1 876.0 326.0 874.6 323.8 874.1 322.5 873.3 320.7 874.3 318.6 873.0 316.9 874.0 315.3 874.3 312.9 873.6 311.9 873.3 310.0M881.3 307.3 883.6 306.6 885.0 307.1 886.7 306.0 889.0 305.6 889.8 305.2 892.0 304.8 893.3 304.0 895.3 304.2 896.7 304.7 895.8 305.8 893.9 306.7 893.2 308.2 892.0 310.0 890.7 311.0 889.8 312.5 889.7 314.0 888.0 315.3 887.2 317.0 886.3 319.4 885.3 320.7 884.9 322.5 884.2 323.8 884.0 326.0 882.2 324.1 881.3 323.3M873.3 307.3 875.0 306.6 877.2 307.4 878.8 307.7 881.3 307.3M876.0 326.0 874.6 327.5 873.3 328.7 871.9 329.8 870.7 330.0M884.0 326.0 884.5 326.9 884.5 329.0M905.3 326.0 907.1 324.6 909.0 323.8 909.9 322.3 912.0 322.0 914.5 321.0 915.1 321.8 916.6 320.6 919.0 320.2M767.3 296.7 768.9 296.9 770.7 296.7 772.0 298.7 772.2 298.7 773.3 300.7 773.9 301.3 775.0 303.5 776.9 304.1 777.3 306.0 778.8 307.5 781.0 307.6 782.7 308.7 783.8 307.6 785.8 308.0 788.0 307.3 789.0 308.0 791.3 308.7 792.8 309.3 793.3 311.3 794.9 311.6 797.2 312.5 799.2 312.4 800.6 313.1 802.7 313.3 804.5 313.8 806.4 313.2 808.5 312.9 810.1 313.0 812.0 312.7 813.7 313.2 814.8 312.2 816.7 312.0 818.5 314.0 819.0 314.8 820.0 316.7 820.9 316.9 822.7 317.3 823.4 318.8 824.1 320.4 825.3 322.0 826.3 322.7 827.3 325.0 828.0 326.0 828.9 324.3 830.7 323.3 831.3 324.6 833.3 326.0 832.9 327.9 832.0 330.0M767.3 296.7 768.1 298.6 768.0 299.6 769.3 302.0 770.5 304.4 771.9 305.5 772.7 307.3 773.2 308.6 774.7 311.3 775.3 312.7 775.8 313.4 776.3 315.6 777.3 316.7 777.7 318.5 777.3 320.7 779.6 320.8 780.0 320.9 782.9 322.0 784.0 322.0 784.5 319.9 786.1 318.4 787.3 316.7 787.1 315.6 788.4 313.0 788.1 311.8 789.3 310.0 790.6 312.0 791.2 313.9 791.6 314.3 792.0 316.7 793.0 318.1 794.5 318.9 795.4 321.2 797.3 322.0 798.3 323.0 798.7 324.7 797.7 327.0 796.4 328.4 796.0 330.0M784.0 322.0 784.3 324.6 785.8 326.7 785.8 328.0 786.7 330.0M787.3 316.7 787.9 318.1 789.7 320.7 790.6 322.3 790.7 323.3 790.3 325.2 790.6 326.6 790.3 328.8 789.3 330.0M775.3 312.7 776.3 312.8 778.0 313.3 778.6 314.5 778.7 316.7 777.3 316.7M740.0 315.3 740.3 316.5 740.7 319.3 742.7 320.8 742.7 322.0 743.3 324.4 744.3 325.9 744.7 327.4 745.3 330.0M640.0 658.0 641.7 657.4 644.1 657.5 646.0 656.5 649.1 657.0 650.7 656.2 653.4 656.4 654.5 655.8 657.6 656.0 658.8 655.3 661.3 655.2 663.5 654.5 665.0 655.6 667.7 655.2 669.6 655.4 671.3 654.8 673.9 655.9 675.6 655.5 677.5 655.8 680.1 655.5 682.1 655.8 683.0 655.6 685.6 655.2 688.1 654.0 689.8 654.4 711.1 655.2 728.9 652.0 730.2 650.4 731.6 649.8 732.4 649.1 734.0 649.7 736.5 651.1 737.5 652.1 739.1 653.1 741.5 654.0 743.1 654.4 745.1 654.0 747.0 652.0 748.6 651.0 749.9 649.4 752.4 649.0 753.8 647.3 756.3 647.1 757.3 646.2 759.4 646.1 761.6 645.8 762.5 644.6 764.4 644.5 765.5 644.2 767.9 642.9 769.1 642.3 772.2 641.3 773.7 641.3 775.1 640.2 777.5 640.2 779.0 640.2 781.6 640.5 783.7 639.4 785.8 639.5 788.2 640.8 789.1 641.9 790.6 642.2 792.9 643.8 795.5 643.9 797.4 643.7 798.9 643.8 801.5 644.5 802.9 644.4 804.6 644.3 807.1 644.8 824.9 645.6 825.2 647.1 824.3 648.9 824.9 650.9 823.8 653.0 822.6 653.6 822.4 655.5 820.6 656.4 819.6 658.0 819.7 659.0 820.7 661.3 821.3 662.6 822.5 662.2 824.4 662.1 826.7 661.6 827.9 660.4 829.9 658.6 830.8 656.7 831.9 656.0 833.8 654.4 836.3 653.3 838.6 653.9 839.8 652.7 842.3 651.8 843.9 651.8 846.2 650.9 848.0 649.9 849.9 648.5 851.5 647.9 852.8 647.4 855.4 646.5 856.9 645.6 858.9 645.5 860.8 645.6 862.6 643.8 865.1 644.4 866.9 643.6 868.8 643.0 871.1 643.1 888.9 642.0 891.4 642.4 892.6 641.9 894.9 641.1 897.4 641.6 899.8 642.1 901.7 641.0 903.1 641.3 904.3 640.9 906.1 639.8 908.0 638.9 910.2 637.7 911.7 637.6 915.0 638.8 916.5 639.9 919.2 639.3 920.9 640.2 923.3 640.5 925.1 640.9 926.9 641.4 929.1 641.7 931.6 642.7 933.9 641.5 935.2 641.0 937.2 639.0 938.7 638.4 941.1 640.0 942.7 640.0 944.5 641.3 945.1 641.8 947.9 643.0 949.3 643.8 952.0 644.1 953.9 644.2 955.2 643.9 956.7 643.6 958.9 643.0 961.4 642.2 963.6 642.7 965.9 642.9 967.4 641.8 970.4 641.9 971.4 641.3 974.2 641.3 976.7 641.3 977.5 641.9 980.1 642.8 981.3 642.7 983.2 642.2 984.7 640.6 987.2 640.8 988.9 639.2 992.0 638.7 992.9 637.8 995.6 637.7 997.0 638.0 999.7 639.2 1001.3 639.6 1003.4 640.3 1005.1 641.0 1007.0 642.0 1009.8 642.0 1011.4 642.4 1013.4 642.6 1015.5 643.3 1018.3 643.9 1020.6 643.7 1022.0 643.9 1024.0 644.5 1025.5 645.2 1028.3 645.1 1029.7 646.2 1031.3 646.7 1033.2 647.7 1034.7 648.4 1036.5 648.6 1038.2 648.4 1041.7 648.6 1043.0 649.8 1045.3 649.8 1046.7 651.1 1049.0 651.8 1051.3 651.9 1053.6 651.8 1055.5 653.5 1058.0 654.1 1059.6 654.4 1061.9 654.1 1063.5 655.0 1065.0 655.6 1067.1 655.6 1069.4 655.2 1072.4 656.1 1073.8 656.2 1076.2 656.7 1078.0 657.4 1079.3 656.9 1081.7 657.6 1084.0 658.3 1086.2 658.0 1087.0 658.8 1089.2 660.7 1089.8 661.6 1088.3 662.5 1087.5 663.3 1086.1 664.6 1084.4 666.2 1083.1 665.8 1081.5 667.3 1078.4 666.5 1078.0 667.8 1075.6 667.6M1093.3 526.7 1094.4 528.1 1096.0 528.7 1097.2 529.6 1098.5 531.2 1099.3 532.7 1099.5 534.5 1101.0 534.9 1101.3 536.7 1102.6 537.8 1103.8 538.1 1105.3 539.3 1106.9 539.8 1107.8 538.5 1110.0 538.7 1109.1 540.7 1109.0 540.6 1107.3 542.7 1106.9 543.7 1105.6 545.2 1105.3 547.3 1104.4 549.4 1104.3 549.8 1102.7 551.3 1101.9 552.0 1100.0 552.0 1099.0 550.6 1099.3 548.0 1098.3 547.1 1098.0 544.7 1098.1 543.6 1099.3 541.3 1099.1 539.8 1098.4 538.2 1098.7 536.7 1098.2 535.2 1097.6 533.6 1096.0 532.0 1095.7 529.7 1094.6 528.6 1093.3 526.7M1093.3 550.0 1095.9 550.4 1097.3 551.3 1097.6 553.5 1098.0 554.7 1097.0 555.8 1097.2 557.6 1096.0 558.7 1094.7 558.8 1093.7 560.3 1092.0 561.3 1090.7 562.7 1089.7 565.0 1089.3 566.0 1088.7 567.8 1087.4 567.7 1086.0 569.3 1084.2 570.7 1082.7 570.7 1080.7 572.0 1078.9 570.1 1078.7 568.7 1078.8 566.2 1080.0 564.7 1081.0 563.7 1082.0 563.0 1084.0 561.3 1085.2 559.7 1086.1 559.1 1088.0 558.0 1088.9 556.7 1089.6 555.1 1091.3 554.0 1092.0 552.0 1092.7 551.8 1093.3 550.0M307.0 667.5 308.9 666.5 310.7 666.0 311.7 665.5 314.0 665.8 316.0 665.5 317.7 665.6 320.6 665.9 322.0 666.6 324.3 666.8 325.9 666.3 327.7 666.4 330.3 665.1 332.0 665.5 334.5 665.2 336.3 665.5 338.5 666.4 341.0 666.1 342.2 666.5 345.0 666.8 347.8 667.0 349.5 667.4 351.7 667.7 354.3 667.5 356.3 666.7 358.0 667.3 359.6 667.4 362.1 667.4 364.4 666.4 365.5 666.7 368.0 666.2 369.1 665.5 371.0 664.6 373.0 664.0 374.9 663.2 376.5 661.3 378.0 661.0 380.6 661.1 382.6 660.8 384.0 660.5 385.9 661.7 387.7 662.0 389.0 662.5 389.6 663.0 392.0 665.4 393.0 666.0 394.6 665.4 396.4 666.3 398.6 665.1 400.0 665.5 401.6 665.3 404.4 665.6 406.6 666.0 407.5 666.2 409.5 667.2 412.0 666.8 413.5 666.5 416.2 665.8 418.1 667.0 421.2 666.0 423.4 666.6 425.0 665.8 427.7 666.0 429.4 665.6 431.8 665.6 434.3 664.9 436.3 665.6 437.8 665.6 440.0 665.0M663.3 205.0 663.9 206.1 665.3 208.2 666.1 208.7 667.3 208.6 669.5 208.1 670.8 206.9 672.6 207.6 675.6 208.4 677.4 208.8 679.2 208.7 681.3 208.3 682.5 207.8 684.8 207.3 687.4 207.8 687.8 206.6 690.0 207.1 692.3 206.4 693.6 207.0 695.5 206.6 698.6 206.5 699.7 207.3 701.7 206.5 703.8 205.8 705.3 205.9 707.5 205.1 709.1 205.0M663.3 211.5 662.5 212.2 660.5 212.7 658.7 214.3 657.8 215.8 656.2 217.2 654.0 218.1 651.8 219.2 650.7 219.2 649.3 220.4 648.4 221.7 646.0 221.9 644.7 223.7 643.3 224.4 641.2 225.8 640.0 227.9M640.0 207.8 640.4 209.4 641.5 211.0 642.8 211.5 643.7 213.1 645.6 213.9 646.5 214.8 645.3 215.9 643.7 218.1 643.0 219.6 641.3 219.5 640.0 220.9M663.3 205.0 662.7 206.8 664.0 209.1 663.3 211.5 661.4 212.2 659.5 213.2 658.7 213.4 658.8 214.7 657.3 217.1 657.7 218.1 658.5 220.0 657.9 221.9 658.7 222.7 660.1 223.3 661.9 225.5 662.4 226.5 662.6 228.9 663.8 230.2 662.7 231.3 660.6 231.6 660.1 233.0 659.8 233.7 658.7 235.8 659.6 236.1 661.5 237.7 661.3 238.7 661.3 240.7 660.5 242.3 662.4 243.9 663.3 244.2 663.1 244.9 661.5 246.5M680.1 208.7 679.6 210.7 679.3 212.5 679.2 213.4 679.3 215.1 679.4 216.8 680.1 218.1 680.5 219.1 681.5 220.4 680.3 221.2 677.9 220.5 676.9 221.3 674.8 223.1 673.6 224.1 674.9 225.9 676.2 226.5 676.9 228.3 678.5 228.3 680.1 229.7M663.8 230.2 665.0 231.3 666.2 232.5 668.0 233.0 669.1 232.6 671.4 232.0 672.7 232.1 674.3 231.4 674.8 230.5 676.9 230.7 676.9 228.3M658.7 222.7 657.3 223.5 655.8 223.9 654.0 223.7 652.8 223.1 651.2 221.8 649.3 220.4M660.1 233.0 658.9 232.7 656.8 232.1 655.9 230.2 654.9 229.3 656.4 227.7 658.7 227.4M681.5 220.4 682.7 221.2 684.6 222.4 686.7 223.2 688.5 223.5 690.0 224.9 690.9 225.1 692.1 225.8 693.8 225.7 696.0 226.9 697.7 226.7 700.2 227.4 699.7 229.7 697.1 229.5 696.0 230.7 694.6 230.7 692.3 229.7 690.9 229.6 688.5 230.7 685.9 230.5 684.8 229.3 683.0 228.4 682.0 228.1 680.1 227.4 678.2 227.3 676.9 228.3M704.4 206.9 704.1 208.7 705.6 209.3 705.3 211.5 704.6 213.1 704.3 214.6 704.4 216.2 704.7 217.4 704.4 219.2 705.3 220.9 705.2 221.7 704.1 224.1 703.5 225.1 702.2 226.0 700.7 227.4 703.2 227.1 704.4 226.0M699.7 229.7 702.0 229.6 702.8 230.0 704.4 230.2 707.1 230.2 708.8 229.9 710.9 229.7 712.9 229.7 713.7 230.2 712.2 231.1 711.9 233.0 709.9 232.2 709.5 232.8 707.2 232.5 705.8 232.7 703.5 233.0 701.6 233.5 699.7 234.9 698.4 234.3 696.0 233.9 694.0 235.2 692.3 235.8 690.9 235.6 688.5 233.9 688.5 232.2 688.5 230.7M680.1 229.7 682.2 229.5 682.8 229.4 684.8 229.3M688.5 233.9 686.8 235.0 685.7 236.7 684.6 236.2 682.8 235.8 681.1 235.8 678.6 236.9 677.3 237.2 676.8 236.3 675.5 234.9 674.1 234.4 672.4 235.4 670.8 234.9 669.7 235.3 667.9 235.0 666.1 235.8 663.6 235.4 662.4 233.9 662.4 231.7 663.8 230.2M711.9 233.0 713.1 234.7 714.7 235.8 714.3 237.9 714.1 238.6 712.8 240.5 711.2 240.8 710.0 241.7 709.1 243.3 707.9 244.3 705.3 245.1 703.8 244.5 702.8 244.7 700.7 245.1 699.5 243.7 697.2 242.7 696.0 242.3 694.6 240.6 693.2 239.5 691.9 238.9 690.4 237.7 688.4 236.8 687.3 236.9 685.7 236.7M666.1 235.8 666.5 237.5 667.1 239.5 664.7 239.4 663.3 240.5 662.3 241.6 660.5 242.3M670.8 234.9 671.5 236.9 671.7 238.6 673.1 239.1 674.5 240.5 676.5 238.9 677.3 237.2M705.3 217.1 707.1 217.4 708.9 219.1 710.9 219.0 712.6 219.6 714.1 219.5 716.5 219.5 718.0 219.4 720.0 219.9 722.1 220.4 723.6 219.2 725.1 217.7 725.8 217.1 728.2 216.9 730.0 216.7 731.4 216.7 732.0 218.7 733.5 219.8 734.2 220.9 736.0 221.7 738.3 222.3 740.0 222.3 740.7 223.7 742.6 223.7 745.0 225.2 746.3 225.4 748.2 226.5 748.8 227.5 747.4 229.0 747.8 231.0M724.0 205.0 724.6 206.4 725.7 208.1 726.8 209.7 726.4 211.0 727.4 212.1 727.7 214.3 726.8 216.3 725.8 217.1M705.3 220.9 707.4 221.1 709.1 219.9M704.4 216.2 705.3 217.1M713.7 230.2 715.7 230.0 716.5 229.7 717.0 229.8 719.1 231.8 720.2 232.1 720.5 232.9 721.2 234.9 722.5 236.1 723.0 237.2 724.4 235.9 725.8 235.8M713.7 230.2 715.7 230.5 717.4 230.7 719.2 232.4 720.2 233.0 720.2 235.0 721.2 236.0 722.1 237.7 721.3 239.7 720.8 240.1 720.2 242.3M714.7 235.8 716.0 235.7 717.4 236.7 718.6 235.1 721.2 234.9M724.0 248.9 723.3 247.4 723.0 246.1 721.8 243.6 722.1 242.3 723.7 240.5 724.0 238.6 725.6 237.3 725.8 235.8 728.4 236.8 729.6 237.2 731.0 236.5 732.2 237.6 734.2 237.2 736.0 236.4 736.9 236.5 738.9 235.8 741.0 235.0M738.9 235.8 740.5 236.3 740.8 237.7 741.1 239.6 739.8 241.4 737.2 240.6 735.8 241.4 733.3 240.5 731.0 241.0 729.6 242.3 730.4 242.8 732.4 244.2 733.6 243.7 735.3 243.7 736.9 242.8 738.9 242.8 741.0 242.0M724.9 235.8 724.3 236.7 724.0 238.6M705.3 245.1 703.7 246.4 703.5 248.9 703.6 250.5 705.3 251.7 706.5 252.6 709.1 253.5 710.9 254.5 711.2 254.9 712.8 255.9 714.2 255.3 715.2 254.7 717.4 254.9 718.5 253.9 720.5 253.2 722.5 252.7 724.0 252.6 724.0 251.0 724.0 248.9M705.3 251.7 705.0 253.9 705.1 255.3 704.4 257.3 703.5 258.0 703.5 260.1 705.0 260.8 705.6 261.3 707.2 262.9 708.3 263.1 710.3 262.8 711.9 261.9 713.8 261.1 714.7 261.0 715.2 260.3 716.1 258.6 717.4 257.3 718.1 255.8 717.4 254.5M717.4 254.5 718.9 255.6 721.1 256.0 722.1 255.9 724.0 254.7 724.5 253.6 726.8 253.5 729.0 253.3 730.5 253.6 731.4 252.6 732.9 253.8 735.2 253.5 736.1 254.0 737.3 256.1 738.9 256.3 741.0 256.7M714.7 261.0 713.7 261.0 714.0 262.9 712.8 264.7 714.4 266.1 714.7 268.0 715.5 269.4 716.7 270.9 718.0 271.5 720.5 272.6 722.0 272.5 723.5 271.6 725.3 272.1 727.0 271.0 729.1 272.3 731.0 272.5 732.2 272.0 735.0 271.6 736.0 271.0 737.9 271.1 738.9 270.3 737.9 272.5 737.0 274.1 736.6 275.0M707.2 262.9 709.3 263.7 710.9 264.7 712.8 264.7 714.7 263.8 715.2 263.1 714.7 261.0M707.2 262.9 707.5 265.0 708.1 266.6 706.8 268.5 705.3 269.4 706.2 270.3 707.4 271.7 709.1 272.2 710.3 272.8 710.9 275.0M699.7 270.3 700.4 271.3 702.3 273.8 703.5 275.0M699.7 266.6 699.5 267.8 699.7 270.3M696.0 242.3 697.7 243.4 699.0 243.8 700.7 245.1M696.0 242.3 694.8 243.8 694.1 246.1 695.5 247.7 696.0 249.8 695.8 251.7 695.1 253.5 695.6 254.4 697.2 256.6 697.9 257.3 699.9 255.8 700.7 255.4 701.7 255.7 703.5 257.3 703.6 255.2 705.0 254.1 705.3 251.7M681.1 240.5 683.1 239.9 684.8 240.5 686.5 240.5 688.2 241.8 690.4 242.3 691.6 243.1 692.5 245.4 694.1 246.1 693.9 248.1 693.2 249.8 691.5 250.4 690.4 251.7 689.5 249.7 688.1 249.9 686.7 247.9 685.6 246.0 683.5 245.9 682.9 244.2 681.5 242.2 681.1 240.5M695.1 253.5 694.3 255.7 693.2 257.3 694.3 258.9 696.0 260.1 698.5 260.5 699.7 261.0 701.4 260.8 703.5 260.1M696.0 260.1 696.9 261.9 697.3 263.6 696.9 264.7 699.0 265.3 699.7 266.6 701.8 265.2 703.5 264.7 704.7 263.5 707.2 262.9M677.3 237.2 679.2 238.0 679.5 240.0 681.1 240.5M690.4 237.7 691.1 239.6 690.2 241.3 690.4 242.3M674.5 240.5 674.8 241.6 676.4 244.2 677.0 245.2 678.5 247.2 680.1 247.9 681.3 249.7 682.6 250.2 683.9 251.7 685.2 252.2 686.9 254.8 688.5 255.4 690.5 257.3 690.4 257.8 692.3 259.1 694.0 259.5 694.1 260.5 696.0 261.9 696.3 264.1 697.9 265.7 698.8 267.9 698.4 269.1 699.7 270.3 701.1 271.7 701.6 274.1M677.3 242.3 677.9 244.4 680.2 244.5 681.1 246.5 681.8 248.0 683.1 248.9 684.8 250.3 685.8 251.0 687.9 253.1 689.5 254.5M679.2 241.4 681.3 242.2 682.1 243.9 683.9 246.1 685.2 246.8 686.1 249.2 687.6 249.8 689.1 251.3 690.2 251.8 691.3 253.5M674.5 240.5 675.3 243.0 675.5 244.2 675.8 245.9 677.1 246.2 678.3 247.9 679.7 250.0 680.2 250.6 682.0 252.6 683.5 253.7 685.1 256.4 686.7 257.3 687.2 258.1 688.7 258.6 690.4 260.1 688.5 261.0 687.3 261.2 685.7 260.1 686.1 262.0 686.7 263.8 686.5 266.2 685.7 267.5 685.5 268.2 683.9 269.4M640.0 266.6 640.1 265.3 641.4 263.4 641.9 261.0 642.3 260.0 643.2 257.6 644.1 256.6 645.6 255.4 646.7 254.7 648.7 253.4 649.3 252.6 650.8 251.5 652.1 250.7 653.5 249.7 654.5 249.1 656.8 248.9 659.0 248.7 660.8 247.5 662.4 247.0 664.1 246.2 665.7 247.1 668.0 246.1 668.9 245.1 670.0 246.2 670.8 247.6 671.7 248.9 672.7 250.3 674.1 252.6 675.5 253.5 677.3 254.4 677.9 255.6 679.2 257.3 681.1 258.0 681.7 259.0 682.9 261.0 683.8 262.8 684.8 264.7 683.6 266.1 683.9 268.5 682.5 269.3 681.1 270.3M640.0 249.8 641.6 248.7 643.7 248.9 645.3 249.1 647.5 249.8 648.4 250.3 650.2 250.5 652.1 250.7M640.0 227.9 640.0 228.3M883.9 329.1 885.0 330.3 885.4 333.2 886.1 334.9 887.5 337.2 888.1 339.1 888.3 340.8 887.7 342.8 888.2 343.7 887.6 345.2 889.7 344.5 891.2 345.0 892.0 345.2 893.3 344.7 894.0 343.3 895.7 342.3 895.4 343.5 897.3 345.8 897.1 348.1 897.5 349.5 898.8 352.1 898.6 354.0 899.3 355.5 898.9 357.3 899.3 359.8 899.3 361.4 899.3 363.3 898.7 365.7 898.1 366.4 898.6 368.7 899.4 371.4 900.1 372.2 900.1 374.6 901.7 376.5 902.1 378.7 903.0 380.4 903.9 383.0 905.1 384.1 905.2 386.3 906.5 388.0 907.0 389.7 907.4 392.2 908.6 393.8 910.1 396.3 910.3 398.0 911.2 400.7 911.7 402.3 913.3 403.9 914.5 405.1 915.2 407.2 916.2 409.8 917.9 410.6 918.4 412.8 919.2 414.2 920.1 415.6 922.1 415.6 921.2 413.9 919.8 411.2 919.2 409.8 917.9 407.1 916.7 405.9 916.2 403.9 915.5 402.5 914.6 399.8 914.6 398.7 914.0 396.6 913.4 394.3 912.7 392.7 912.7 391.5 912.6 389.2 911.7 387.0 911.9 384.9 911.1 383.4 909.4 382.6 909.7 380.2 908.1 379.0 906.8 376.9 905.8 375.5 905.2 373.1 905.1 371.5 903.6 369.7 903.0 367.2 903.4 364.8 902.8 362.8 902.3 361.4 903.5 359.8 903.1 357.8 903.7 355.5 905.3 355.6 907.4 357.0 908.4 357.5 909.3 359.9 910.3 360.6 911.2 361.7 911.4 363.6 912.6 365.0 914.4 366.4 916.2 366.5 916.2 368.2 917.1 369.7 917.7 371.6 918.4 370.0 920.2 368.2 921.4 367.2 922.6 366.0 924.9 364.8 925.8 363.6 926.5 361.1 927.7 359.9 928.7 358.4 928.1 356.4 928.9 354.3 928.7 352.6 928.3 350.8 926.6 348.0 926.5 346.7 925.5 345.1 924.6 342.9 923.6 341.5 922.3 340.4 921.4 338.7 920.6 337.1 919.1 335.5 918.4 333.5 918.9 331.3 919.8 331.0 919.9 329.1 922.5 328.6 923.6 326.9 925.6 327.1 926.6 327.7 928.7 327.6 930.0 326.4 931.1 325.8 933.1 324.7 935.4 324.1 936.5 322.3 939.0 321.7 941.1 320.2 943.5 320.4 944.8 318.8 946.7 317.2 948.3 316.8 950.0 315.1 951.0 314.1 952.6 313.3 953.6 311.5 955.1 310.0M926.5 334.9 927.6 333.7 928.0 332.0 929.9 332.6 931.6 332.0 931.8 333.8 931.3 334.4 931.6 336.4 930.2 337.1 928.7 338.6 928.3 336.4 926.5 334.9M957.3 315.1 959.4 314.2 960.2 313.7 960.0 315.5 960.5 317.8 961.0 318.8 960.4 320.2 959.2 322.1 958.8 324.7 957.7 323.6 956.6 322.5 956.5 320.9 956.9 319.3 957.4 316.6 957.3 315.1M897.9 332.0 900.3 330.8 901.4 330.3 903.7 330.5 905.4 332.1 906.2 334.2 906.7 334.9 905.8 337.0 905.5 338.2 905.9 339.3 907.9 339.9 909.5 341.2 910.3 341.5 912.2 340.1 914.0 339.3 914.5 340.7 916.0 343.3 917.0 345.2 917.0 347.0 917.3 348.3 918.4 350.3 916.7 350.3 914.5 350.8 912.6 351.8 912.6 353.1 912.2 355.9 911.1 357.0 909.9 356.6 907.4 357.0M897.9 332.0 898.0 333.2 898.2 336.0 896.6 337.0 897.1 339.3 897.1 341.0 898.9 343.4 898.5 345.3 899.3 346.7 898.4 348.6 898.8 349.7 899.4 352.4 898.6 354.0M919.0 320.9 921.3 321.5 922.1 321.7 921.8 322.6 921.1 325.3 920.6 326.1 919.0 327.1M916.6 329.0 915.8 330.7 914.8 331.8 914.0 333.5 914.3 335.0 915.5 336.8 917.0 339.3 917.2 341.6 919.5 343.3 920.2 344.4 920.6 346.7 921.4 348.5 921.6 350.2 921.4 352.6 919.6 351.5 918.4 350.3M921.4 352.6 921.2 354.1 922.2 356.9 922.1 358.4 921.8 360.1 919.9 361.3 919.2 362.8 918.3 364.2 917.8 365.4 916.2 366.5M911.1 357.0 912.3 358.9 912.0 360.2 912.6 362.8 913.5 364.0 914.3 365.2 916.2 366.5M922.1 321.7 923.2 322.4 926.1 324.3 927.2 324.7 927.4 326.3 928.7 327.6M904.3 329.0 903.7 330.5M896.4 332.0 897.9 332.0M895.7 329.1 896.0 329.9 896.4 332.0 896.0 334.1 896.0 336.2 895.3 338.3 896.0 339.8 895.7 342.3M905.2 380.4 907.1 381.8 908.9 381.9M884.7 355.5 885.0 357.1 884.2 358.4M884.1 359.9 883.8 362.1M890.5 383.4 892.3 383.5 893.9 383.2 895.7 382.6 897.0 384.0 899.0 385.3 900.2 386.3 901.5 387.8 902.3 389.5 903.5 390.6 904.4 391.9 905.8 394.2 906.7 395.1 907.3 396.8 908.8 398.2 910.0 399.4 910.1 400.8 911.8 402.4 912.9 404.4 914.5 406.2 915.1 407.5 916.4 408.9 917.0 411.2 918.4 413.1 918.7 415.2 919.8 417.5 920.6 418.6 921.4 420.0M890.5 383.4 890.5 384.4 891.8 386.3 891.8 389.1 892.7 390.0 893.7 391.3 894.3 392.8 895.0 394.3 897.0 396.8 897.1 398.0 898.0 399.3 900.1 402.3 899.8 404.1 901.5 405.4 902.7 407.9 903.5 408.8 903.9 410.8 905.3 413.0 906.7 414.2 907.2 416.7 908.4 418.5 909.6 420.0M896.4 398.0 897.8 400.5 898.6 401.7M899.6 403.9 900.6 405.2 901.0 406.4 901.6 408.0 903.0 409.8M926.5 398.0 927.9 397.5 929.2 396.1 931.6 395.1 932.7 393.3 934.1 392.1 935.3 390.8 936.0 390.0 937.7 388.4 937.6 386.9 938.9 385.6 940.4 384.8 941.6 384.1 943.2 381.7 944.8 380.4 946.4 378.6 946.7 378.5 948.5 376.8 949.3 378.1 950.7 380.4 949.7 382.8 950.4 384.2 949.2 386.3 950.5 388.2 950.7 389.9 952.2 392.2 952.4 393.7 953.6 395.5 953.6 398.0 952.7 400.3 951.5 402.6 951.4 403.9 950.7 405.6 949.1 406.4 949.2 409.0 947.8 409.8 946.1 412.2 945.4 413.1 944.8 415.6 943.0 414.8 941.4 415.7 939.0 414.9 936.7 414.1 935.1 414.8 933.1 414.2 931.2 413.0 930.1 411.1 929.4 409.8 928.2 407.2 928.0 405.6 927.2 403.9 927.6 402.6 927.1 400.0 926.5 398.0M931.6 399.5 933.7 398.5 935.2 398.1 937.0 397.2 939.0 396.6 941.0 395.8 942.2 394.2 943.1 391.5 944.8 390.7 945.6 389.2 947.7 388.1 948.5 386.3 949.6 385.2 949.2 382.7 950.0 381.9M958.0 359.2 957.3 360.1 956.6 361.6M955.4 363.7 954.9 366.1 953.3 367.2M951.9 369.4 951.1 371.3 950.5 372.4 949.3 374.5 948.5 375.3M956.6 337.9 958.8 337.3 960.2 336.4 962.4 337.0 963.2 338.6 963.1 340.4 961.9 341.5 961.7 343.7 961.3 345.8 960.2 347.3 960.2 348.1 962.2 349.2 962.8 351.1 963.9 352.6 965.1 352.2 966.5 353.7 968.3 353.3 968.5 355.8 967.6 357.0 965.7 356.2 963.9 355.5 961.4 354.6 960.2 354.0 958.9 353.3 957.3 351.1 955.9 349.9 955.2 348.9 955.1 346.7 954.9 345.2 955.9 342.7 955.9 341.3 955.8 339.5 956.6 337.9M961.0 357.0 961.8 358.7 964.6 359.9 965.4 361.4 964.7 362.8 963.9 364.6 963.9 365.8 965.7 366.6 966.8 368.7 966.2 369.6 966.2 370.9 965.4 373.1M969.8 358.4 970.8 359.7 971.3 361.9 971.2 364.3 971.7 366.4 972.6 368.5 971.8 370.1 972.7 371.6 972.8 373.1 973.1 376.2 973.4 377.5 972.0 379.3 972.0 381.0 971.2 381.9 969.7 382.3 968.3 383.4 968.3 381.3 967.6 380.1 966.8 379.0 966.9 377.0 968.8 375.5 969.0 374.6 968.9 372.6 968.2 371.0 966.8 370.2 967.3 368.3 967.5 366.9 967.6 364.3 967.9 363.1 969.1 360.8 969.8 358.4M961.0 376.0 962.1 376.3 964.2 375.0 965.4 374.6 966.4 375.6 968.4 376.3 969.8 376.0 971.8 375.7 972.7 374.6 973.3 376.0 973.7 378.8 973.4 380.4 971.4 381.3 970.5 383.4 968.1 382.2 966.8 381.9 965.8 380.8 963.9 379.0 962.7 377.3 961.0 376.0M962.4 359.2 963.8 360.5 963.9 362.8 962.4 364.6 961.7 366.5 962.1 368.7 963.2 370.2M959.5 354.0 961.1 355.9 961.7 357.0M956.6 399.5 958.1 399.4 960.0 399.2 962.1 398.4 963.9 398.8 966.1 399.1 967.6 397.8 968.5 398.6 970.5 398.0 969.8 400.2 968.3 400.9 966.5 401.1 963.9 401.7 961.7 402.8 960.2 403.9 960.2 405.7 961.1 407.6 961.0 409.8 962.8 411.4 963.9 412.7 962.7 414.2 963.5 415.9 962.4 417.1 961.5 418.8 959.5 420.0M956.6 399.5 956.8 400.8 955.5 403.0 955.1 405.4 955.3 406.9 955.0 409.3 953.8 411.0 954.4 412.7 954.7 414.2 955.7 416.6 955.6 418.5 956.6 420.0M958.0 403.9 957.4 405.0 958.6 408.1 958.7 409.9 958.4 411.1 958.0 412.7 958.6 414.2 959.7 416.3 959.5 417.1M966.8 409.8 968.7 409.6 970.8 410.1 972.7 410.5M972.7 414.9 974.9 415.2 976.4 413.7 978.0 413.5 979.8 414.2 981.5 413.4M985.9 406.1 987.6 406.3 988.3 407.2 990.3 406.8 992.3 406.3 992.6 406.1 994.7 405.4 996.3 406.0 998.1 406.5 1000.0 407.6M985.9 406.1 985.9 408.0 986.9 409.4 987.4 411.2 989.2 411.7 989.8 411.9 991.8 412.7 993.3 413.9 994.9 415.0 996.2 415.6 997.2 417.0 998.9 417.2 1000.0 418.6M987.4 408.3 988.8 409.5 991.8 410.9 993.3 411.2 995.4 412.1 996.8 411.6 998.0 412.9 1000.0 412.7"/><path fill="#000" stroke-width="1" d="M205.1 188.4 207.0 188.0 207.7 189.5 206.1 190.2ZM178.8 217.8 180.3 217.6 180.3 218.4 178.8 218.5ZM185.6 215.8 186.7 215.8 186.7 217.3 185.6 217.3ZM433.4 203.4 435.1 201.9 436.2 202.3 434.7 203.8ZM430.0 214.9 431.1 214.2 431.4 215.7 430.3 216.1ZM463.6 186.7 464.4 186.7 464.4 188.2 463.6 188.2ZM485.8 245.0 486.8 245.0 486.8 246.6 485.8 246.6ZM467.5 281.4 468.5 281.4 468.5 283.0 467.5 283.0ZM560.3 262.2 561.3 262.2 561.3 263.4 560.3 263.4ZM568.7 264.1 571.3 263.8 571.3 265.4 568.7 265.4ZM575.3 267.4 576.3 267.4 576.3 269.0 575.3 269.0ZM597.3 286.0 598.3 286.0 598.3 287.2 597.3 287.2ZM620.5 147.9 622.5 147.9 622.5 149.5 620.5 149.5ZM624.0 180.5 625.6 180.5 625.6 182.5 624.0 182.5ZM437.2 314.0 438.6 313.7 439.4 316.1 438.1 316.6ZM467.6 281.7 468.4 281.7 468.4 283.0 467.6 283.0ZM438.8 337.4 441.4 337.1 441.6 338.6 439.0 338.9ZM467.8 337.3 470.6 337.0 470.6 338.6 467.8 338.6ZM437.8 307.6 440.4 307.6 440.8 309.6 438.2 309.6ZM437.5 313.8 439.1 313.8 439.1 315.4 437.5 315.4ZM448.8 326.6 450.0 326.6 450.0 327.8 448.8 327.8ZM480.7 341.0 481.7 341.0 481.7 342.6 480.7 342.6ZM481.9 346.4 482.9 346.4 482.9 348.0 481.9 348.0ZM482.3 352.4 483.3 352.4 483.3 354.0 482.3 354.0ZM481.5 358.4 482.5 358.4 482.5 360.0 481.5 360.0ZM486.0 355.5 487.2 355.5 487.2 356.7 486.0 356.7ZM480.2 365.4 482.4 365.1 482.4 366.9 480.2 366.9ZM403.0 404.0 405.0 404.4 404.5 406.4 403.0 406.1ZM429.9 523.1 430.9 523.1 430.9 524.1 429.9 524.1ZM434.7 523.0 435.7 523.0 435.7 524.0 434.7 524.0ZM603.5 431.5 604.5 431.5 604.5 432.5 603.5 432.5ZM627.0 459.9 628.0 459.9 628.0 460.9 627.0 460.9ZM610.1 535.1 611.3 535.1 611.3 536.3 610.1 536.3ZM616.0 546.7 617.0 546.7 617.0 547.7 616.0 547.7ZM651.2 596.4 652.0 596.4 652.0 598.0 651.2 598.0ZM521.7 618.8 524.3 619.1 523.9 620.4 522.0 620.1ZM483.6 626.4 484.8 626.4 484.8 627.6 483.6 627.6ZM488.4 624.7 490.0 624.7 490.0 625.7 488.4 625.7ZM497.5 621.6 498.5 621.6 498.5 622.9 497.5 622.9ZM618.8 149.5 620.3 147.8 621.8 149.3ZM623.8 180.6 625.5 180.6 625.5 182.8 624.1 182.8ZM637.9 186.6 640.1 186.8 639.8 188.8 638.1 188.6ZM758.3 160.2 760.4 159.4 761.7 161.1 759.6 162.0ZM769.5 155.7 771.6 155.2 772.5 157.0 770.4 157.4ZM777.2 145.0 779.4 144.2 779.4 147.2 777.7 146.8ZM690.5 197.2 691.8 196.7 692.4 198.5 691.1 199.5ZM686.0 190.9 688.2 190.5 688.4 191.9 686.4 192.2ZM699.1 194.2 700.4 193.8 700.9 195.1 699.6 195.3ZM679.6 274.3 680.7 274.3 680.7 275.3 679.6 275.3ZM727.5 275.7 730.5 274.8 729.6 277.4 727.9 277.9ZM601.0 302.3 602.1 302.3 602.1 303.3 601.0 303.3ZM605.7 299.6 607.0 299.6 607.0 300.7 605.7 300.7ZM600.5 355.4 603.4 355.4 604.1 358.4 601.5 359.0ZM782.4 357.4 784.0 357.4 784.0 359.0 782.4 359.0ZM833.5 391.1 835.1 391.1 835.1 392.1 833.5 392.1ZM787.4 419.0 788.6 419.0 788.6 420.2 787.4 420.2ZM603.4 431.1 604.6 431.1 604.6 432.1 603.4 432.1ZM659.3 401.4 660.5 401.4 660.5 402.6 659.3 402.6ZM755.4 443.4 756.6 443.4 756.6 444.6 755.4 444.6ZM759.4 446.8 761.0 446.8 761.0 448.0 759.4 448.0ZM724.4 497.5 726.6 496.9 727.2 499.5 724.9 500.1ZM627.0 459.6 628.0 459.6 628.0 460.6 627.0 460.6ZM610.1 535.1 611.3 535.1 611.3 536.3 610.1 536.3ZM616.0 547.0 617.0 547.0 617.0 548.0 616.0 548.0ZM790.4 475.6 792.0 475.6 792.0 476.8 790.4 476.8ZM786.7 479.1 787.7 479.1 787.7 480.3 786.7 480.3ZM807.5 473.4 809.1 473.4 809.1 474.6 807.5 474.6ZM844.8 537.9 846.4 537.9 846.4 539.1 844.8 539.1ZM740.4 570.4 742.0 570.4 742.0 571.6 740.4 571.6ZM777.3 569.0 778.5 569.0 778.5 570.2 777.3 570.2ZM823.0 578.8 826.6 579.4 825.3 581.4 823.2 581.6ZM651.0 596.4 651.8 596.4 651.8 598.0 651.0 598.0ZM768.8 155.5 771.4 155.3 771.6 157.5 769.0 157.7ZM991.0 284.4 994.2 284.0 994.6 285.8 991.6 286.4ZM848.4 227.4 850.0 227.4 850.0 229.0 848.4 229.0ZM979.4 302.4 980.6 302.4 980.6 304.0 979.4 304.0ZM976.4 307.4 978.0 307.4 978.0 309.0 976.4 309.0ZM1013.5 306.5 1014.5 306.5 1014.5 307.7 1013.5 307.7ZM1011.6 313.5 1012.6 313.5 1012.6 314.5 1011.6 314.5ZM1022.6 337.5 1023.6 337.5 1023.6 338.5 1022.6 338.5ZM1022.4 348.4 1024.0 348.4 1024.0 349.6 1022.4 349.6ZM1020.4 354.4 1022.0 354.4 1022.0 356.0 1020.4 356.0ZM1002.6 368.6 1003.6 368.6 1003.6 369.6 1002.6 369.6ZM1039.6 375.6 1040.6 375.6 1040.6 376.6 1039.6 376.6ZM1055.7 377.4 1056.9 377.4 1056.9 378.8 1055.7 378.8ZM1068.3 383.9 1069.5 383.9 1069.5 385.1 1068.3 385.1ZM1094.3 396.9 1095.7 396.9 1095.7 400.1 1094.3 400.1ZM1078.6 405.2 1079.6 405.2 1079.6 406.2 1078.6 406.2ZM1098.5 407.5 1099.7 407.5 1099.7 408.7 1098.5 408.7ZM1026.3 410.4 1027.7 410.4 1027.7 412.0 1026.3 412.0ZM1035.4 412.2 1037.7 412.7 1039.0 414.4 1037.1 414.0ZM833.5 390.9 835.1 390.9 835.1 392.1 833.5 392.1ZM1108.9 465.0 1111.7 464.4 1112.1 467.0 1109.3 467.6ZM1025.5 409.6 1026.9 409.6 1026.9 410.8 1025.5 410.8ZM1035.5 412.4 1036.9 412.4 1036.9 413.6 1035.5 413.6ZM1099.6 408.4 1101.2 408.4 1101.2 409.6 1099.6 409.6ZM1076.6 440.9 1077.6 440.9 1077.6 441.9 1076.6 441.9ZM1105.1 447.1 1106.1 447.1 1106.1 448.1 1105.1 448.1ZM1081.6 506.6 1082.4 506.6 1082.4 507.4 1081.6 507.4ZM1079.6 404.6 1080.4 404.6 1080.4 405.4 1079.6 405.4ZM1094.7 213.5 1096.0 213.8 1097.3 215.5 1095.7 215.2ZM1107.9 217.9 1111.1 218.3 1111.1 219.2 1108.1 218.9ZM1048.6 223.1 1050.2 222.0 1051.0 223.1 1049.3 224.4ZM1110.6 147.8 1113.0 147.5 1113.0 149.5 1110.9 149.2ZM1075.8 583.8 1077.5 583.8 1077.5 585.3 1075.8 585.3ZM1109.6 580.3 1110.7 580.3 1110.7 581.4 1109.6 581.4ZM1084.6 589.9 1085.3 589.9 1085.9 592.1 1085.3 592.1ZM223.0 325.7 224.3 323.0 226.0 325.7ZM227.0 325.3 229.7 325.0 232.7 326.7 234.3 329.3 231.3 329.7 228.7 328.0 227.0 326.7ZM233.3 330.7 234.7 330.0 238.0 333.3 236.0 335.7 233.2 335.7ZM374.0 664.0 379.0 660.5 385.0 660.5 390.0 663.0 393.0 667.0 374.0 667.0ZM665.2 249.8 667.5 249.6 668.0 256.8 665.7 257.3ZM664.4 258.4 667.8 258.2 668.0 264.7 664.7 264.9ZM675.5 267.1 679.2 266.1 683.9 266.6 683.4 269.9 679.2 270.8 675.9 269.9ZM645.6 261.0 647.9 260.1 648.4 261.5 646.1 262.4ZM650.3 259.6 654.0 258.9 654.2 261.0 650.7 261.5ZM648.9 262.9 650.3 262.7 650.5 264.0 649.1 264.2ZM696.0 269.4 697.4 269.4 697.4 270.8 696.0 270.8ZM705.3 269.4 706.4 269.4 706.4 270.5 705.3 270.5ZM708.1 268.5 709.1 268.5 709.1 269.6 708.1 269.6ZM699.7 272.2 701.1 271.7 701.6 273.6 700.2 274.1ZM883.6 364.6 885.4 364.3 885.7 366.0 883.9 366.5ZM886.4 377.5 888.5 377.5 888.5 379.0 886.4 379.0ZM891.4 392.9 893.2 392.9 893.2 394.7 891.4 394.7ZM976.4 396.6 979.3 395.1 978.9 403.9 975.9 406.8ZM924.4 388.5 926.2 388.5 926.2 390.3 924.4 390.3ZM993.3 375.7 994.7 375.7 994.7 378.2 993.3 378.2ZM973.3 387.8 975.1 387.5 975.1 389.2 973.3 389.2ZM965.5 315.9 966.7 315.9 966.7 317.3 965.5 317.3ZM975.1 310.0 976.2 310.0 976.2 310.9 975.1 310.9Z"/></g>
<g fill="none" stroke="#ff00ff" stroke-width="1"><path d="M300.0 310.0 328.0 296.6 444.0 346.4 482.4 346.4 482.4 289.0M482.4 289.0 482.4 224.4 322.0 224.4 275.7 153.4 210.7 153.4 199.6 160.1 212.5 332.7 223.3 342.5 236.7 342.5 300.0 310.6"/></g>

<g stroke="#000" stroke-width="1" fill="none">
<rect x="176.5" y="139.5" width="937.0" height="529.0"/>
<path d="M249.5 139.5v9 M249.5 668.5v-9"/>
<path d="M379.5 139.5v9 M379.5 668.5v-9"/>
<path d="M510.5 139.5v9 M510.5 668.5v-9"/>
<path d="M640.5 139.5v9 M640.5 668.5v-9"/>
<path d="M771.5 139.5v9 M771.5 668.5v-9"/>
<path d="M901.5 139.5v9 M901.5 668.5v-9"/>
<path d="M1032.5 139.5v9 M1032.5 668.5v-9"/>
<path d="M176.5 189.5h9 M1113.5 189.5h-9"/>
<path d="M176.5 260.5h9 M1113.5 260.5h-9"/>
<path d="M176.5 332.5h9 M1113.5 332.5h-9"/>
<path d="M176.5 403.5h9 M1113.5 403.5h-9"/>
<path d="M176.5 475.5h9 M1113.5 475.5h-9"/>
<path d="M176.5 546.5h9 M1113.5 546.5h-9"/>
<path d="M176.5 618.5h9 M1113.5 618.5h-9"/>
<rect x="1145.5" y="139.5" width="42.0" height="529.0"/>
<path d="M1145.5 170.5h4 M1187.5 170.5h-4"/>
<path d="M1145.5 242.5h4 M1187.5 242.5h-4"/>
<path d="M1145.5 314.5h4 M1187.5 314.5h-4"/>
<path d="M1145.5 386.5h4 M1187.5 386.5h-4"/>
<path d="M1145.5 457.5h4 M1187.5 457.5h-4"/>
<path d="M1145.5 529.5h4 M1187.5 529.5h-4"/>
<path d="M1145.5 600.5h4 M1187.5 600.5h-4"/>
</g>
</svg>
<div class="t m b" style="font-size:21px;left:192.80px;top:3.31px;transform:scaleX(1.1905);">Dual Frequency L2C RAIM RNP1.0 (HAL = 1852m) Unavailability </div>
<div class="t m b" style="font-size:21px;left:372.80px;top:28.91px;transform:scaleX(1.1905);">FD Only, SA Off, without Baro-Aiding</div>
<div class="t m b" style="font-size:21px;left:582.80px;top:54.41px;transform:scaleX(1.1905);">12/11/25</div>
<div class="t m b" style="font-size:21px;left:530.30px;top:79.91px;transform:scaleX(1.1905);">Week 2396 Day 4</div>
<div class="t m b" style="font-size:18.5px;font-weight:bold;left:432.50px;top:698.43px;transform:scaleX(1.1712);">Longitude (2 degree sample size)</div>
<div class="t m b" style="font-size:18.5px;font-weight:bold;left:102.83px;top:457.10px;transform:rotate(-90deg) scaleX(1.1712);">Latitude</div>
<div class="t m" style="font-size:20.5px;letter-spacing:1.90652px;left:217.12px;top:673.89px;transform:scaleX(0.9200);">−150</div>
<div class="t m" style="font-size:20.5px;letter-spacing:1.90652px;left:347.62px;top:673.89px;transform:scaleX(0.9200);">−100</div>
<div class="t m" style="font-size:20.5px;letter-spacing:1.90652px;left:484.66px;top:673.89px;transform:scaleX(0.9200);">−50</div>
<div class="t m" style="font-size:20.5px;letter-spacing:1.90652px;left:634.76px;top:673.89px;transform:scaleX(0.9200);">0</div>
<div class="t m" style="font-size:20.5px;letter-spacing:1.90652px;left:758.73px;top:673.89px;transform:scaleX(0.9200);">50</div>
<div class="t m" style="font-size:20.5px;letter-spacing:1.90652px;left:882.69px;top:673.89px;transform:scaleX(0.9200);">100</div>
<div class="t m" style="font-size:20.5px;letter-spacing:1.90652px;left:1013.20px;top:673.89px;transform:scaleX(0.9200);">150</div>
<div class="t m" style="font-size:20.5px;letter-spacing:1.90652px;left:144.66px;top:178.09px;transform:scaleX(0.9200);">60</div>
<div class="t m" style="font-size:20.5px;letter-spacing:1.90652px;left:144.66px;top:249.59px;transform:scaleX(0.9200);">40</div>
<div class="t m" style="font-size:20.5px;letter-spacing:1.90652px;left:144.66px;top:321.09px;transform:scaleX(0.9200);">20</div>
<div class="t m" style="font-size:20.5px;letter-spacing:1.90652px;left:157.73px;top:392.59px;transform:scaleX(0.9200);">0</div>
<div class="t m" style="font-size:20.5px;letter-spacing:1.90652px;left:131.59px;top:464.09px;transform:scaleX(0.9200);">−20</div>
<div class="t m" style="font-size:20.5px;letter-spacing:1.90652px;left:131.59px;top:535.59px;transform:scaleX(0.9200);">−40</div>
<div class="t m" style="font-size:20.5px;letter-spacing:1.90652px;left:131.59px;top:607.09px;transform:scaleX(0.9200);">−60</div>
<div class="t m" style="font-size:20.5px;letter-spacing:1.90652px;left:1193.30px;top:158.89px;transform:scaleX(0.9200);">140</div>
<div class="t m" style="font-size:20.5px;letter-spacing:1.90652px;left:1193.30px;top:231.29px;transform:scaleX(0.9200);">120</div>
<div class="t m" style="font-size:20.5px;letter-spacing:1.90652px;left:1193.30px;top:303.29px;transform:scaleX(0.9200);">100</div>
<div class="t m" style="font-size:20.5px;letter-spacing:1.90652px;left:1193.30px;top:375.29px;transform:scaleX(0.9200);">80</div>
<div class="t m" style="font-size:20.5px;letter-spacing:1.90652px;left:1193.30px;top:446.29px;transform:scaleX(0.9200);">60</div>
<div class="t m" style="font-size:20.5px;letter-spacing:1.90652px;left:1193.30px;top:517.99px;transform:scaleX(0.9200);">40</div>
<div class="t m" style="font-size:20.5px;letter-spacing:1.90652px;left:1193.30px;top:589.69px;transform:scaleX(0.9200);">20</div>
<div class="t s" style="font-size:21.9px;left:1237.46px;top:525.50px;transform:rotate(-90deg);">Duration of Outage (min)</div>
<div class="t s" style="font-size:22.3px;color:#ff00ff;left:185.00px;top:647.52px;">(WJH FAA Tech Cntr, NJ USA)</div>
<div class="t s" style="font-size:12.8px;left:170.50px;top:689.66px;">W.J.H. FAA Technical Center</div>
<div class="t s" style="font-size:12.8px;left:170.50px;top:704.66px;">WAAS Test Team</div>
<div class="t s" style="font-size:12.8px;left:170.50px;top:719.06px;">12/12/25</div>
<div class="t m b" style="font-size:13.2px;left:890.60px;top:683.89px;transform:scaleX(1.1364);">Percent Avail. | WNR Coverage| Global</div>
<div class="t m b" style="font-size:13.2px;left:948.60px;top:696.49px;transform:scaleX(1.1364);">95</div>
<div class="t m b" style="font-size:13.2px;left:1030.20px;top:696.49px;transform:scaleX(1.1364);">98.21%</div>
<div class="t m b" style="font-size:13.2px;left:1164.60px;top:696.49px;transform:scaleX(1.1364);">98.94%</div>
<div class="t m b" style="font-size:13.2px;left:948.60px;top:707.49px;transform:scaleX(1.1364);">98</div>
<div class="t m b" style="font-size:13.2px;left:1030.20px;top:707.49px;transform:scaleX(1.1364);">98.21%</div>
<div class="t m b" style="font-size:13.2px;left:1173.80px;top:707.49px;transform:scaleX(1.1364);">98.94%</div>
<div class="t m b" style="font-size:13.2px;left:948.60px;top:718.19px;transform:scaleX(1.1364);">99</div>
<div class="t m b" style="font-size:13.2px;left:1030.20px;top:718.19px;transform:scaleX(1.1364);">98.21%</div>
<div class="t m b" style="font-size:13.2px;left:1173.80px;top:718.19px;transform:scaleX(1.1364);">98.94%</div>
<div class="t m b" style="font-size:13.2px;left:948.60px;top:728.99px;transform:scaleX(1.1364);">100</div>
<div class="t m b" style="font-size:13.2px;left:1030.20px;top:728.99px;transform:scaleX(1.1364);">98.21%</div>
<div class="t m b" style="font-size:13.2px;left:1173.80px;top:728.99px;transform:scaleX(1.1364);">98.94%</div>
<svg width="1350" height="750" shape-rendering="crispEdges" style="position:absolute;left:0;top:0"><g stroke="#000" stroke-width="1" fill="none"><path d="M891 697.5H1248" stroke-dasharray="6 3"/><path d="M1007.5 699V741M1142.5 699V709.5M1151.5 709.5V741"/></g></svg>
</body></html>
